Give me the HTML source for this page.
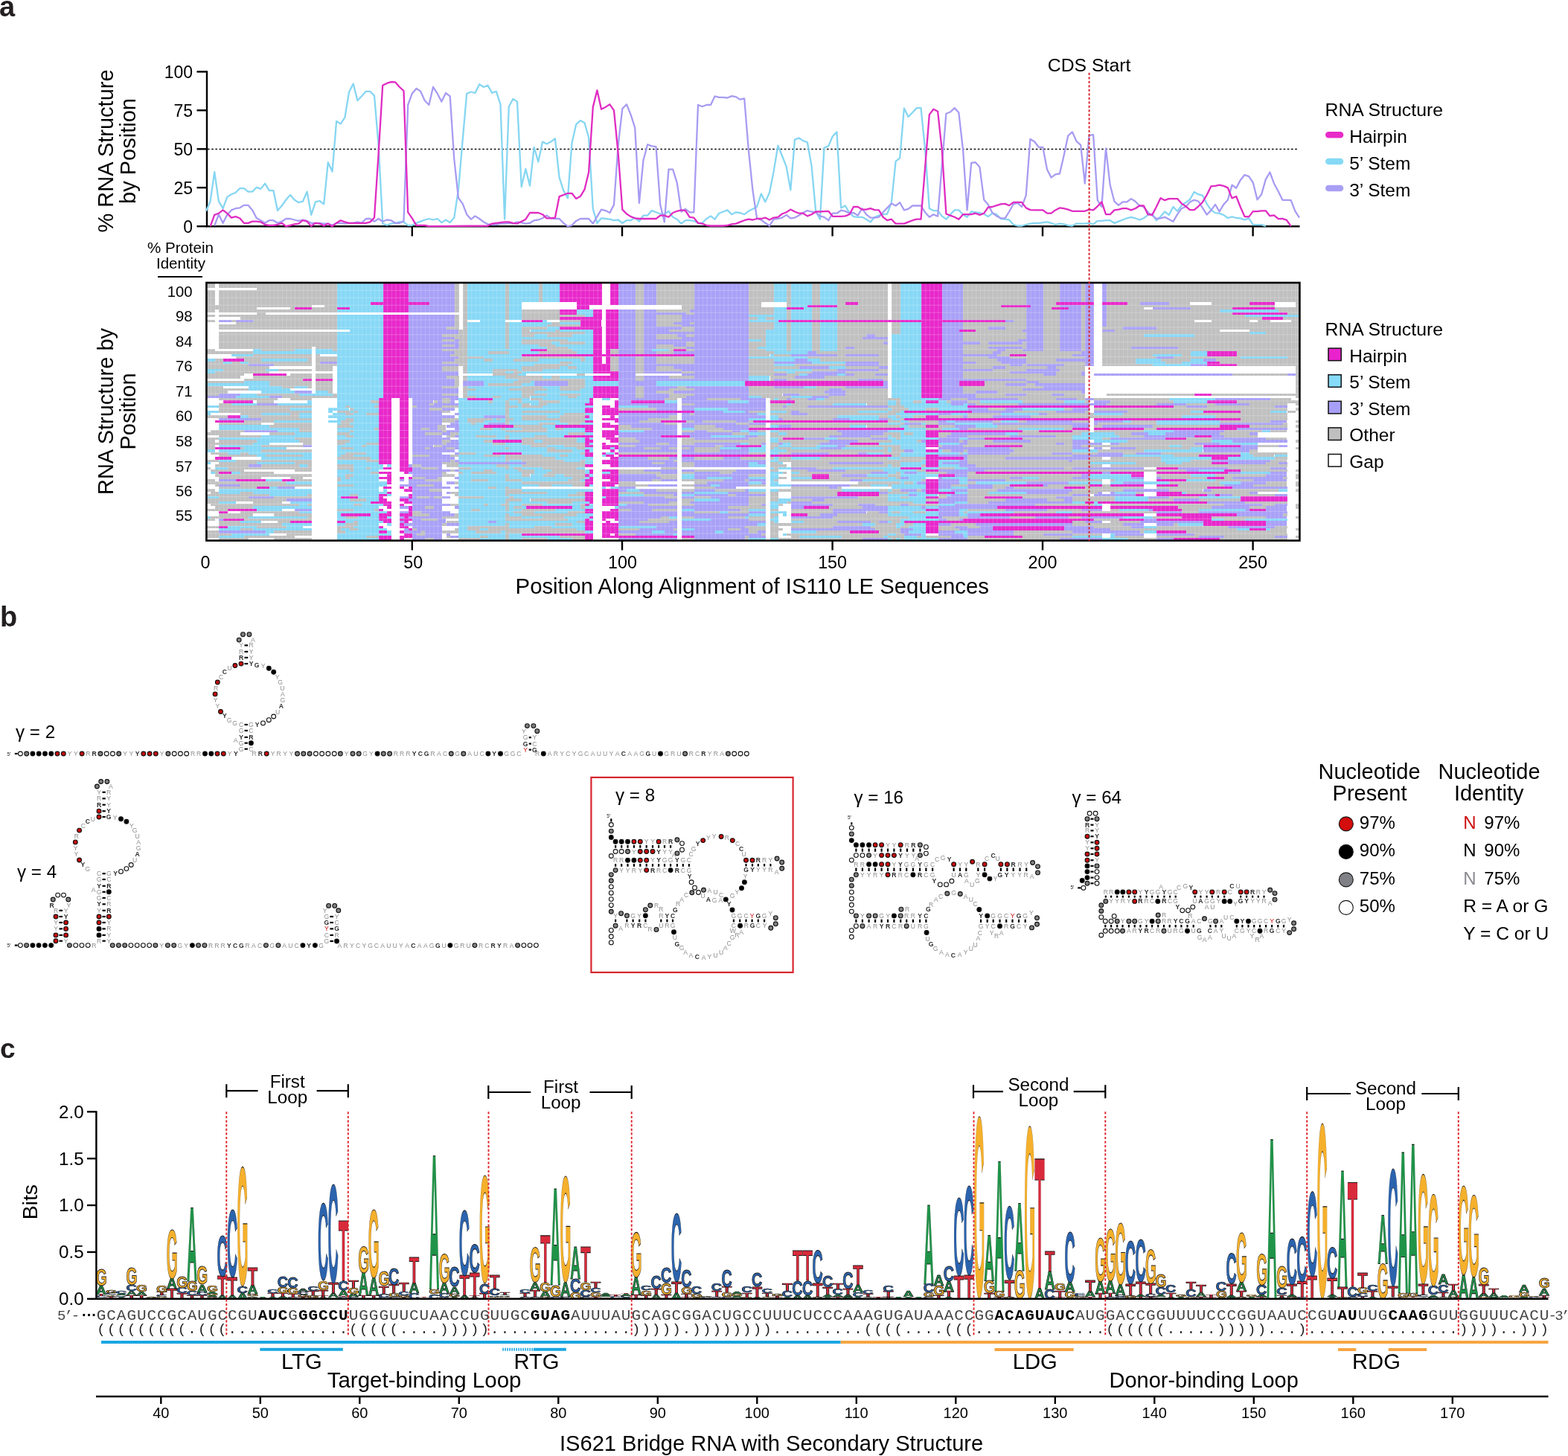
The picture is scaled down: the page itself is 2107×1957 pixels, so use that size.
<!DOCTYPE html>
<html><head><meta charset="utf-8"><title>IS110 bridge RNA structure figure</title>
<style>html,body{margin:0;padding:0;background:#fff}svg{display:block}.lg text{vector-effect:non-scaling-stroke}</style></head>
<body><svg width="2107" height="1957" viewBox="0 0 2107 1957" style="font-family:'Liberation Sans',Arial,Helvetica,sans-serif">
<rect width="2107" height="1957" fill="#fff"/>
<text x="-1.0" y="21.5" font-size="38" font-weight="bold" fill="#231f20">a</text>
<text x="0.0" y="842.3" font-size="38" font-weight="bold" fill="#231f20">b</text>
<text x="0.0" y="1422.2" font-size="37" font-weight="bold" fill="#231f20">c</text>
<g stroke="#000" stroke-width="2.4" fill="none">
<path d="M278,95.2 V305.4 M277,304.2 H1746.5"/>
<path d="M264.5,304.2 H278"/>
<path d="M264.5,252.2 H278"/>
<path d="M264.5,200.3 H278"/>
<path d="M264.5,148.3 H278"/>
<path d="M264.5,96.4 H278"/>
<path d="M553.8,304.2 V317.5"/>
<path d="M836,304.2 V317.5"/>
<path d="M1118.6,304.2 V317.5"/>
<path d="M1401,304.2 V317.5"/>
<path d="M1683.6,304.2 V317.5"/>
</g>
<text x="259.0" y="312.5" font-size="23" text-anchor="end" fill="#000">0</text>
<text x="259.0" y="260.6" font-size="23" text-anchor="end" fill="#000">25</text>
<text x="259.0" y="208.6" font-size="23" text-anchor="end" fill="#000">50</text>
<text x="259.0" y="156.7" font-size="23" text-anchor="end" fill="#000">75</text>
<text x="259.0" y="104.7" font-size="23" text-anchor="end" fill="#000">100</text>
<path d="M279,200.5 H1744" stroke="#000" stroke-width="1.6" stroke-dasharray="2.6 2.6" fill="none"/>
<path d="M276.9,283.8 L282.6,270.7 L288.2,231.1 L293.9,270.7 L299.6,280.2 L305.2,264.9 L310.9,261.2 L316.5,259.0 L322.2,253.2 L327.8,253.2 L333.5,257.6 L339.1,257.6 L344.8,251.8 L350.4,253.9 L356.1,246.7 L361.7,256.1 L367.4,256.1 L373.0,283.1 L378.7,276.5 L384.3,268.5 L390.0,262.0 L395.6,268.5 L401.2,272.2 L406.9,270.7 L412.6,257.6 L418.2,288.9 L423.9,271.4 L429.5,270.0 L435.2,274.3 L440.8,218.2 L446.5,230.6 L452.1,162.9 L457.8,166.5 L463.4,157.8 L469.1,123.5 L474.7,112.6 L480.4,135.2 L486.0,129.3 L491.7,122.8 L497.3,122.8 L503.0,128.6 L508.6,194.9 L514.2,300.6 L519.9,302.8 L525.6,300.6 L531.2,299.8 L536.9,298.4 L542.5,298.4 L548.2,302.8 L553.8,302.8 L559.5,299.8 L565.1,297.7 L570.8,295.5 L576.4,294.0 L582.0,295.5 L587.7,294.0 L593.4,299.1 L599.0,295.5 L604.7,299.1 L610.3,292.6 L616.0,254.7 L621.6,189.1 L627.2,125.7 L632.9,123.5 L638.5,125.0 L644.2,113.3 L649.9,117.0 L655.5,114.8 L661.2,125.0 L666.8,122.8 L672.5,140.3 L678.1,294.7 L683.8,143.2 L689.4,133.0 L695.0,136.6 L700.7,251.0 L706.4,227.0 L712.0,249.6 L717.7,197.8 L723.3,217.5 L729.0,190.6 L734.6,193.5 L740.2,190.6 L745.9,186.2 L751.6,238.6 L757.2,256.1 L762.9,266.3 L768.5,192.0 L774.2,167.2 L779.8,162.1 L785.5,165.1 L791.1,184.7 L796.8,280.9 L802.4,299.8 L808.0,293.3 L813.7,294.0 L819.4,294.7 L825.0,296.2 L830.7,295.5 L836.3,299.8 L842.0,296.2 L847.6,296.2 L853.2,292.6 L858.9,297.7 L864.5,289.6 L870.2,289.6 L875.9,283.1 L881.5,285.3 L887.2,287.5 L892.8,288.2 L898.5,283.8 L904.1,291.8 L909.8,294.7 L915.4,300.6 L921.0,296.2 L926.7,296.2 L932.4,296.9 L938.0,299.8 L943.7,299.8 L949.3,294.0 L955.0,290.4 L960.6,294.7 L966.2,286.7 L971.9,284.5 L977.5,282.4 L983.2,288.2 L988.9,285.3 L994.5,286.0 L1000.2,288.2 L1005.8,283.8 L1011.5,280.9 L1017.1,278.0 L1022.8,260.5 L1028.4,271.4 L1034.0,259.0 L1039.7,229.9 L1045.4,195.7 L1051.0,209.5 L1056.7,224.1 L1062.3,255.4 L1068.0,187.6 L1073.6,185.5 L1079.2,189.1 L1084.9,191.3 L1090.5,222.6 L1096.2,283.8 L1101.9,294.7 L1107.5,198.6 L1113.2,196.4 L1118.8,183.3 L1124.5,177.4 L1130.1,279.4 L1135.8,276.5 L1141.4,286.0 L1147.0,291.1 L1152.7,291.8 L1158.4,291.8 L1164.0,294.7 L1169.7,298.4 L1175.3,291.8 L1181.0,289.6 L1186.6,288.2 L1192.2,287.5 L1197.9,272.2 L1203.6,216.8 L1209.2,212.4 L1214.9,145.4 L1220.5,157.0 L1226.2,151.2 L1231.8,145.1 L1237.5,145.1 L1243.1,200.8 L1248.8,280.2 L1254.4,283.1 L1260.1,283.1 L1265.7,290.4 L1271.4,294.7 L1277.0,288.2 L1282.7,282.4 L1288.3,282.4 L1294.0,288.2 L1299.6,291.8 L1305.2,284.5 L1310.9,285.3 L1316.5,286.0 L1322.2,287.5 L1327.8,291.1 L1333.5,286.7 L1339.2,288.2 L1344.8,294.0 L1350.5,294.7 L1356.1,295.5 L1361.8,302.0 L1367.4,303.5 L1373.0,303.5 L1378.7,302.0 L1384.4,300.6 L1390.0,299.8 L1395.7,299.8 L1401.3,299.1 L1407.0,298.4 L1412.6,299.8 L1418.2,302.0 L1423.9,300.6 L1429.5,301.3 L1435.2,302.8 L1440.9,303.5 L1446.5,300.6 L1452.2,300.6 L1457.8,300.6 L1463.5,299.8 L1469.1,301.3 L1474.8,296.9 L1480.4,296.9 L1486.0,296.2 L1491.7,296.2 L1497.4,299.8 L1503.0,297.7 L1508.7,295.5 L1514.3,293.3 L1520.0,291.8 L1525.6,293.3 L1531.2,295.5 L1536.9,293.3 L1542.5,288.9 L1548.2,287.5 L1553.9,296.2 L1559.5,291.1 L1565.2,284.5 L1570.8,288.9 L1576.5,278.0 L1582.1,283.8 L1587.8,275.8 L1593.4,272.2 L1599.0,268.0 L1604.7,258.0 L1610.4,261.2 L1616.0,262.8 L1621.7,274.1 L1627.3,282.1 L1633.0,286.1 L1638.6,286.9 L1644.2,288.9 L1649.9,293.0 L1655.5,291.4 L1661.2,293.0 L1666.9,293.4 L1672.5,295.4 L1678.2,293.4 L1683.8,302.2 L1689.5,302.2 L1695.1,302.2 L1700.8,303.8" stroke="#86d6f2" stroke-width="2.3" fill="none" stroke-linejoin="round"/>
<path d="M288.2,303.5 L293.9,288.2 L299.6,299.8 L305.2,288.9 L310.9,282.4 L316.5,280.2 L322.2,279.4 L327.8,275.8 L333.5,275.8 L339.1,282.4 L344.8,293.3 L350.4,296.2 L356.1,299.8 L361.7,296.2 L367.4,296.2 L373.0,299.8 L378.7,297.7 L384.3,294.0 L390.0,294.0 L395.6,295.5 L401.2,296.9 L406.9,295.5 L412.6,296.9 L418.2,299.8 L423.9,299.8 L429.5,299.8 L435.2,300.6 L440.8,300.6 L446.5,302.8 L452.1,299.8 L457.8,299.8 L463.4,300.6 L469.1,299.8 L474.7,299.8 L480.4,298.4 L486.0,299.8 L491.7,294.0 L497.3,294.0 L503.0,297.7 L508.6,294.0 L514.2,297.7 L519.9,295.5 L525.6,296.2 L531.2,299.8 L536.9,299.8 L542.5,296.9 L548.2,141.0 L553.8,125.7 L559.5,118.9 L565.1,122.8 L570.8,135.2 L576.4,141.0 L582.0,117.0 L587.7,125.7 L593.4,136.6 L599.0,125.0 L604.7,129.3 L610.3,213.9 L616.0,266.3 L621.6,273.6 L627.2,288.2 L632.9,294.7 L638.5,290.4 L644.2,294.0 L649.9,298.4 L655.5,301.3 L661.2,302.0 L666.8,302.0 L672.5,300.6 L678.1,300.6 L683.8,299.8 L689.4,300.6 L695.0,298.4 L700.7,299.1 L706.4,300.6 L712.0,299.8 L717.7,296.2 L723.3,295.5 L729.0,293.3 L734.6,289.6 L740.2,293.3 L745.9,294.0 L751.6,294.0 L757.2,299.8 L762.9,304.2 L768.5,302.8 L774.2,296.9 L779.8,294.0 L785.5,294.0 L791.1,294.0 L796.8,300.6 L802.4,291.1 L808.0,281.6 L813.7,283.1 L819.4,286.0 L825.0,275.1 L830.7,194.9 L836.3,146.1 L842.0,140.3 L847.6,154.1 L853.2,171.6 L858.9,272.9 L864.5,215.3 L870.2,194.2 L875.9,196.4 L881.5,197.1 L887.2,275.1 L892.8,298.4 L898.5,227.7 L904.1,227.7 L909.8,245.9 L915.4,284.5 L921.0,280.9 L926.7,285.3 L932.4,285.3 L938.0,141.0 L943.7,143.2 L949.3,141.0 L955.0,141.0 L960.6,129.3 L966.2,130.8 L971.9,130.8 L977.5,131.5 L983.2,129.1 L988.9,130.1 L994.5,133.7 L1000.2,132.3 L1005.8,200.8 L1011.5,256.1 L1017.1,293.3 L1022.8,295.5 L1028.4,299.8 L1034.0,303.5 L1039.7,294.7 L1045.4,294.0 L1051.0,292.6 L1056.7,288.9 L1062.3,293.3 L1068.0,292.6 L1073.6,289.6 L1079.2,286.0 L1084.9,283.1 L1090.5,284.5 L1096.2,285.3 L1101.9,290.4 L1107.5,291.8 L1113.2,296.2 L1118.8,286.7 L1124.5,286.7 L1130.1,282.7 L1135.8,283.8 L1141.4,286.7 L1147.0,286.0 L1152.7,289.6 L1158.4,280.2 L1164.0,288.2 L1169.7,292.6 L1175.3,292.6 L1181.0,291.8 L1186.6,285.3 L1192.2,279.4 L1197.9,273.6 L1203.6,276.5 L1209.2,272.2 L1214.9,282.4 L1220.5,280.9 L1226.2,276.5 L1231.8,276.5 L1237.5,276.5 L1243.1,285.3 L1248.8,291.8 L1254.4,288.2 L1260.1,290.8 L1265.7,222.6 L1271.4,152.7 L1277.0,150.5 L1282.7,145.1 L1288.3,151.2 L1294.0,200.8 L1299.6,282.4 L1305.2,219.0 L1310.9,218.2 L1316.5,224.8 L1322.2,268.5 L1327.8,275.1 L1333.5,286.0 L1339.2,290.4 L1344.8,293.3 L1350.5,293.3 L1356.1,284.5 L1361.8,274.3 L1367.4,272.9 L1373.0,278.0 L1378.7,262.7 L1384.4,186.9 L1390.0,190.2 L1395.7,197.8 L1401.3,197.8 L1407.0,227.7 L1412.6,238.6 L1418.2,234.3 L1423.9,233.5 L1429.5,209.5 L1435.2,182.5 L1440.9,177.4 L1446.5,189.8 L1452.2,194.9 L1457.8,246.7 L1463.5,181.8 L1469.1,181.1 L1474.8,269.2 L1480.4,278.0 L1486.0,199.3 L1491.7,248.8 L1497.4,270.7 L1503.0,275.8 L1508.7,271.4 L1514.3,271.4 L1520.0,267.1 L1525.6,270.7 L1531.2,276.5 L1536.9,278.0 L1542.5,285.3 L1548.2,289.6 L1553.9,294.0 L1559.5,293.3 L1565.2,291.8 L1570.8,294.7 L1576.5,297.7 L1582.1,288.2 L1587.8,280.2 L1593.4,278.0 L1599.0,271.5 L1604.7,268.8 L1610.4,270.5 L1616.0,279.7 L1621.7,288.5 L1627.3,282.9 L1633.0,274.9 L1638.6,284.5 L1644.2,274.9 L1649.9,268.8 L1655.5,248.7 L1661.2,252.8 L1666.9,241.9 L1672.5,235.1 L1678.2,237.1 L1683.8,245.5 L1689.5,268.4 L1695.1,261.2 L1700.8,241.1 L1706.4,231.5 L1712.0,246.7 L1717.7,257.2 L1723.4,268.8 L1729.0,268.8 L1734.7,269.2 L1740.3,283.7 L1746.0,292.6" stroke="#a79cf2" stroke-width="2.3" fill="none" stroke-linejoin="round"/>
<path d="M282.6,304.2 L288.2,288.9 L293.9,286.7 L299.6,282.4 L305.2,286.7 L310.9,292.6 L316.5,291.1 L322.2,293.3 L327.8,299.8 L333.5,299.8 L339.1,297.7 L344.8,297.7 L350.4,298.4 L356.1,302.0 L361.7,302.8 L367.4,302.8 L373.0,302.0 L378.7,299.8 L384.3,304.2 L390.0,302.8 L395.6,301.3 L401.2,300.6 L406.9,296.2 L412.6,297.7 L418.2,303.9 L423.9,299.8 L429.5,300.6 L435.2,303.5 L440.8,300.6 L446.5,304.2 L452.1,299.8 L457.8,296.2 L463.4,298.4 L469.1,299.8 L474.7,299.8 L480.4,299.8 L486.0,299.8 L491.7,299.8 L497.3,298.4 L503.0,292.6 L508.6,206.6 L514.2,114.8 L519.9,111.9 L525.6,110.1 L531.2,110.4 L536.9,117.0 L542.5,122.1 L548.2,285.3 L553.8,293.3 L559.5,302.8 L565.1,302.8 L570.8,302.8 L576.4,304.2 L655.5,303.5 L661.2,300.6 L666.8,299.8 L678.1,298.4 L683.8,298.4 L689.4,299.8 L695.0,300.6 L700.7,297.7 L706.4,294.7 L712.0,286.0 L717.7,286.0 L723.3,286.0 L729.0,288.2 L734.6,293.3 L740.2,293.3 L745.9,292.6 L751.6,264.1 L757.2,262.0 L762.9,259.8 L768.5,259.8 L774.2,267.1 L779.8,264.1 L785.5,254.7 L791.1,231.4 L796.8,143.9 L802.4,121.3 L808.0,146.8 L813.7,143.9 L819.4,140.3 L825.0,148.3 L830.7,206.6 L836.3,281.6 L842.0,287.5 L847.6,291.1 L853.2,293.3 L858.9,294.0 L864.5,294.0 L870.2,294.0 L875.9,294.0 L881.5,294.0 L887.2,289.6 L892.8,289.6 L898.5,291.8 L904.1,286.0 L909.8,283.8 L915.4,282.4 L921.0,283.1 L926.7,291.8 L932.4,292.6 L938.0,299.8 L943.7,300.6 L949.3,302.8 L955.0,303.5 L960.6,303.5 L966.2,303.5 L971.9,303.5 L977.5,302.8 L983.2,301.3 L988.9,300.6 L994.5,298.4 L1000.2,296.2 L1005.8,294.7 L1011.5,295.5 L1017.1,294.0 L1022.8,294.0 L1028.4,292.6 L1034.0,295.5 L1039.7,292.6 L1045.4,291.8 L1051.0,287.5 L1056.7,285.3 L1062.3,281.6 L1068.0,284.5 L1073.6,286.7 L1079.2,286.7 L1084.9,290.4 L1090.5,288.2 L1096.2,284.5 L1101.9,284.5 L1107.5,284.2 L1113.2,283.8 L1118.8,290.8 L1124.5,290.8 L1130.1,290.8 L1135.8,290.4 L1141.4,288.2 L1147.0,278.0 L1152.7,278.0 L1158.4,281.6 L1164.0,281.6 L1169.7,280.2 L1175.3,282.1 L1181.0,282.4 L1186.6,291.8 L1192.2,296.2 L1197.9,294.7 L1203.6,300.6 L1209.2,300.6 L1214.9,300.6 L1220.5,298.4 L1226.2,296.2 L1231.8,294.7 L1237.5,294.7 L1248.8,154.1 L1254.4,146.8 L1260.1,149.7 L1265.7,200.8 L1271.4,287.5 L1277.0,289.6 L1282.7,291.8 L1288.3,294.7 L1294.0,288.2 L1299.6,288.2 L1305.2,288.2 L1310.9,286.7 L1316.5,288.9 L1322.2,286.7 L1327.8,278.7 L1333.5,278.0 L1339.2,276.2 L1344.8,274.3 L1350.5,273.9 L1356.1,276.2 L1361.8,271.9 L1367.4,271.9 L1373.0,271.9 L1378.7,279.4 L1384.4,282.1 L1390.0,282.4 L1395.7,282.4 L1401.3,282.4 L1407.0,286.7 L1412.6,286.7 L1418.2,282.4 L1423.9,279.4 L1429.5,280.2 L1435.2,281.6 L1440.9,283.8 L1446.5,283.8 L1452.2,283.8 L1457.8,283.8 L1463.5,281.6 L1469.1,282.4 L1474.8,277.3 L1480.4,271.4 L1486.0,288.2 L1491.7,288.2 L1497.4,282.4 L1503.0,281.6 L1508.7,280.2 L1514.3,280.2 L1520.0,282.4 L1525.6,280.2 L1531.2,276.5 L1536.9,276.5 L1542.5,288.2 L1548.2,288.9 L1553.9,278.0 L1559.5,266.3 L1565.2,269.2 L1570.8,267.1 L1576.5,267.1 L1582.1,267.1 L1587.8,273.6 L1593.4,277.3 L1599.0,282.2 L1604.7,282.1 L1610.4,277.3 L1616.0,271.7 L1621.7,262.0 L1627.3,250.4 L1633.0,249.9 L1638.6,248.7 L1644.2,249.9 L1649.9,252.4 L1655.5,266.4 L1661.2,264.0 L1666.9,278.5 L1672.5,291.0 L1678.2,291.4 L1683.8,284.1 L1689.5,284.1 L1695.1,283.3 L1700.8,283.3 L1706.4,290.2 L1712.0,289.3 L1717.7,294.2 L1723.4,293.8 L1729.0,295.8 L1734.7,304.2" stroke="#e02cc2" stroke-width="2.3" fill="none" stroke-linejoin="round"/>
<text transform="translate(152.2,203) rotate(-90)" font-size="29" text-anchor="middle">% RNA Structure</text>
<text transform="translate(182.4,203) rotate(-90)" font-size="29" text-anchor="middle">by Position</text>
<text x="1407.8" y="95.6" font-size="24.8" fill="#000">CDS Start</text>
<text x="1780.5" y="156.0" font-size="24.8" fill="#000">RNA Structure</text>
<path d="M1785.3,181.2 H1801" stroke="#e82ac8" stroke-width="8.6" stroke-linecap="round"/>
<text x="1813.2" y="192.0" font-size="24.5" fill="#000">Hairpin</text>
<path d="M1785.3,217 H1801" stroke="#86d9f6" stroke-width="8.6" stroke-linecap="round"/>
<text x="1813.2" y="227.6" font-size="24.5" fill="#000">5’ Stem</text>
<path d="M1785.3,253 H1801" stroke="#a89ff5" stroke-width="8.6" stroke-linecap="round"/>
<text x="1813.2" y="263.5" font-size="24.5" fill="#000">3’ Stem</text>
<g shape-rendering="crispEdges"><path fill="#c0c0c0" d="M277.4 380.0h11.3v3.3h-11.3zM294.3 380.0h158.2v3.3h-158.2zM610.8 380.0h5.7v3.3h-5.7zM622.0 380.0h5.7v3.3h-5.7zM678.5 380.0h5.7v3.3h-5.7zM723.8 380.0h5.7v3.3h-5.7zM853.7 380.0h11.3v3.3h-11.3zM882.0 380.0h50.9v3.3h-50.9zM1006.2 380.0h33.9v3.3h-33.9zM1057.1 380.0h5.7v3.3h-5.7zM1091.0 380.0h11.3v3.3h-11.3zM1124.9 380.0h67.8v3.3h-67.8zM1198.3 380.0h11.3v3.3h-11.3zM1294.4 380.0h84.8v3.3h-84.8zM1401.8 380.0h22.6v3.3h-22.6zM1452.6 380.0h5.7v3.3h-5.7zM1486.5 380.0h259.9v3.3h-259.9zM277.4 383.3h11.3v3.3h-11.3zM294.3 383.3h158.2v3.3h-158.2zM610.8 383.3h5.7v3.3h-5.7zM622.0 383.3h5.7v3.3h-5.7zM678.5 383.3h5.7v3.3h-5.7zM723.8 383.3h5.7v3.3h-5.7zM853.7 383.3h11.3v3.3h-11.3zM882.0 383.3h50.9v3.3h-50.9zM1006.2 383.3h33.9v3.3h-33.9zM1057.1 383.3h5.7v3.3h-5.7zM1091.0 383.3h11.3v3.3h-11.3zM1124.9 383.3h67.8v3.3h-67.8zM1198.3 383.3h11.3v3.3h-11.3zM1294.4 383.3h84.8v3.3h-84.8zM1401.8 383.3h22.6v3.3h-22.6zM1452.6 383.3h5.7v3.3h-5.7zM1486.5 383.3h259.9v3.3h-259.9zM345.2 386.6h107.4v3.3h-107.4zM610.8 386.6h5.7v3.3h-5.7zM622.0 386.6h5.7v3.3h-5.7zM678.5 386.6h5.7v3.3h-5.7zM723.8 386.6h5.7v3.3h-5.7zM853.7 386.6h11.3v3.3h-11.3zM882.0 386.6h50.9v3.3h-50.9zM1006.2 386.6h33.9v3.3h-33.9zM1057.1 386.6h5.7v3.3h-5.7zM1091.0 386.6h11.3v3.3h-11.3zM1124.9 386.6h67.8v3.3h-67.8zM1198.3 386.6h11.3v3.3h-11.3zM1294.4 386.6h84.8v3.3h-84.8zM1401.8 386.6h22.6v3.3h-22.6zM1452.6 386.6h5.7v3.3h-5.7zM1486.5 386.6h259.9v3.3h-259.9zM277.4 389.9h11.3v3.3h-11.3zM294.3 389.9h158.2v3.3h-158.2zM610.8 389.9h5.7v3.3h-5.7zM622.0 389.9h5.7v3.3h-5.7zM678.5 389.9h5.7v3.3h-5.7zM723.8 389.9h5.7v3.3h-5.7zM853.7 389.9h11.3v3.3h-11.3zM882.0 389.9h50.9v3.3h-50.9zM1006.2 389.9h33.9v3.3h-33.9zM1057.1 389.9h5.7v3.3h-5.7zM1091.0 389.9h11.3v3.3h-11.3zM1124.9 389.9h67.8v3.3h-67.8zM1198.3 389.9h11.3v3.3h-11.3zM1294.4 389.9h84.8v3.3h-84.8zM1401.8 389.9h22.6v3.3h-22.6zM1452.6 389.9h5.7v3.3h-5.7zM1486.5 389.9h259.9v3.3h-259.9zM277.4 393.2h11.3v3.3h-11.3zM294.3 393.2h158.2v3.3h-158.2zM610.8 393.2h5.7v3.3h-5.7zM622.0 393.2h5.7v3.3h-5.7zM678.5 393.2h5.7v3.3h-5.7zM723.8 393.2h5.7v3.3h-5.7zM853.7 393.2h11.3v3.3h-11.3zM882.0 393.2h50.9v3.3h-50.9zM1006.2 393.2h33.9v3.3h-33.9zM1057.1 393.2h5.7v3.3h-5.7zM1091.0 393.2h11.3v3.3h-11.3zM1124.9 393.2h67.8v3.3h-67.8zM1198.3 393.2h11.3v3.3h-11.3zM1294.4 393.2h84.8v3.3h-84.8zM1401.8 393.2h22.6v3.3h-22.6zM1452.6 393.2h5.7v3.3h-5.7zM1486.5 393.2h259.9v3.3h-259.9zM277.4 396.5h11.3v3.3h-11.3zM294.3 396.5h158.2v3.3h-158.2zM610.8 396.5h5.7v3.3h-5.7zM622.0 396.5h5.7v3.3h-5.7zM678.5 396.5h5.7v3.3h-5.7zM723.8 396.5h5.7v3.3h-5.7zM853.7 396.5h11.3v3.3h-11.3zM882.0 396.5h50.9v3.3h-50.9zM1006.2 396.5h33.9v3.3h-33.9zM1057.1 396.5h5.7v3.3h-5.7zM1091.0 396.5h11.3v3.3h-11.3zM1124.9 396.5h67.8v3.3h-67.8zM1198.3 396.5h11.3v3.3h-11.3zM1294.4 396.5h84.8v3.3h-84.8zM1401.8 396.5h22.6v3.3h-22.6zM1452.6 396.5h5.7v3.3h-5.7zM1486.5 396.5h259.9v3.3h-259.9zM277.4 399.8h11.3v3.3h-11.3zM294.3 399.8h158.2v3.3h-158.2zM610.8 399.8h5.7v3.3h-5.7zM622.0 399.8h5.7v3.3h-5.7zM678.5 399.8h5.7v3.3h-5.7zM723.8 399.8h5.7v3.3h-5.7zM853.7 399.8h11.3v3.3h-11.3zM882.0 399.8h50.9v3.3h-50.9zM1006.2 399.8h33.9v3.3h-33.9zM1057.1 399.8h5.7v3.3h-5.7zM1091.0 399.8h11.3v3.3h-11.3zM1124.9 399.8h67.8v3.3h-67.8zM1198.3 399.8h11.3v3.3h-11.3zM1294.4 399.8h84.8v3.3h-84.8zM1401.8 399.8h22.6v3.3h-22.6zM1452.6 399.8h5.7v3.3h-5.7zM1486.5 399.8h259.9v3.3h-259.9zM277.4 403.1h11.3v3.3h-11.3zM294.3 403.1h158.2v3.3h-158.2zM610.8 403.1h5.7v3.3h-5.7zM622.0 403.1h5.7v3.3h-5.7zM678.5 403.1h5.7v3.3h-5.7zM723.8 403.1h5.7v3.3h-5.7zM853.7 403.1h11.3v3.3h-11.3zM882.0 403.1h50.9v3.3h-50.9zM1006.2 403.1h33.9v3.3h-33.9zM1057.1 403.1h5.7v3.3h-5.7zM1091.0 403.1h11.3v3.3h-11.3zM1124.9 403.1h67.8v3.3h-67.8zM1198.3 403.1h11.3v3.3h-11.3zM1294.4 403.1h84.8v3.3h-84.8zM1401.8 403.1h22.6v3.3h-22.6zM1452.6 403.1h5.7v3.3h-5.7zM1486.5 403.1h259.9v3.3h-259.9zM277.4 406.4h11.3v3.3h-11.3zM294.3 406.4h158.2v3.3h-158.2zM610.8 406.4h5.7v3.3h-5.7zM622.0 406.4h5.7v3.3h-5.7zM678.5 406.4h5.7v3.3h-5.7zM853.7 406.4h11.3v3.3h-11.3zM882.0 406.4h50.9v3.3h-50.9zM1006.2 406.4h17.0v3.3h-17.0zM1057.1 406.4h5.7v3.3h-5.7zM1091.0 406.4h11.3v3.3h-11.3zM1124.9 406.4h11.3v3.3h-11.3zM1153.2 406.4h39.6v3.3h-39.6zM1198.3 406.4h11.3v3.3h-11.3zM1294.4 406.4h84.8v3.3h-84.8zM1401.8 406.4h17.0v3.3h-17.0zM1514.8 406.4h17.0v3.3h-17.0zM1571.2 406.4h28.2v3.3h-28.2zM1627.8 406.4h50.9v3.3h-50.9zM1740.8 406.4h5.7v3.3h-5.7zM277.4 409.7h141.2v3.3h-141.2zM435.6 409.7h17.0v3.3h-17.0zM610.8 409.7h5.7v3.3h-5.7zM622.0 409.7h5.7v3.3h-5.7zM678.5 409.7h5.7v3.3h-5.7zM915.9 409.7h17.0v3.3h-17.0zM1006.2 409.7h17.0v3.3h-17.0zM1057.1 409.7h5.7v3.3h-5.7zM1124.9 409.7h67.8v3.3h-67.8zM1198.3 409.7h11.3v3.3h-11.3zM1294.4 409.7h50.9v3.3h-50.9zM1401.8 409.7h22.6v3.3h-22.6zM1452.6 409.7h5.7v3.3h-5.7zM1486.5 409.7h226.0v3.3h-226.0zM1740.8 409.7h5.7v3.3h-5.7zM277.4 413.0h67.8v3.3h-67.8zM390.4 413.0h5.7v3.3h-5.7zM418.6 413.0h33.9v3.3h-33.9zM610.8 413.0h5.7v3.3h-5.7zM622.0 413.0h5.7v3.3h-5.7zM678.5 413.0h5.7v3.3h-5.7zM915.9 413.0h17.0v3.3h-17.0zM1006.2 413.0h33.9v3.3h-33.9zM1091.0 413.0h11.3v3.3h-11.3zM1124.9 413.0h67.8v3.3h-67.8zM1198.3 413.0h11.3v3.3h-11.3zM1294.4 413.0h84.8v3.3h-84.8zM1401.8 413.0h11.3v3.3h-11.3zM1452.6 413.0h5.7v3.3h-5.7zM1486.5 413.0h50.9v3.3h-50.9zM1599.5 413.0h56.5v3.3h-56.5zM1712.5 413.0h33.9v3.3h-33.9zM277.4 416.3h11.3v3.3h-11.3zM294.3 416.3h158.2v3.3h-158.2zM610.8 416.3h5.7v3.3h-5.7zM622.0 416.3h5.7v3.3h-5.7zM678.5 416.3h5.7v3.3h-5.7zM701.1 416.3h50.9v3.3h-50.9zM853.7 416.3h11.3v3.3h-11.3zM882.0 416.3h45.2v3.3h-45.2zM1006.2 416.3h33.9v3.3h-33.9zM1057.1 416.3h5.7v3.3h-5.7zM1091.0 416.3h11.3v3.3h-11.3zM1124.9 416.3h67.8v3.3h-67.8zM1198.3 416.3h11.3v3.3h-11.3zM1294.4 416.3h84.8v3.3h-84.8zM1401.8 416.3h22.6v3.3h-22.6zM1452.6 416.3h5.7v3.3h-5.7zM1486.5 416.3h152.6v3.3h-152.6zM1718.2 416.3h28.2v3.3h-28.2zM345.2 419.6h11.3v3.3h-11.3zM622.0 419.6h5.7v3.3h-5.7zM678.5 419.6h5.7v3.3h-5.7zM701.1 419.6h50.9v3.3h-50.9zM853.7 419.6h11.3v3.3h-11.3zM921.5 419.6h11.3v3.3h-11.3zM1006.2 419.6h33.9v3.3h-33.9zM1057.1 419.6h5.7v3.3h-5.7zM1091.0 419.6h11.3v3.3h-11.3zM1124.9 419.6h67.8v3.3h-67.8zM1198.3 419.6h11.3v3.3h-11.3zM1294.4 419.6h84.8v3.3h-84.8zM1401.8 419.6h22.6v3.3h-22.6zM1452.6 419.6h5.7v3.3h-5.7zM1486.5 419.6h169.5v3.3h-169.5zM1729.5 419.6h17.0v3.3h-17.0zM277.4 422.9h11.3v3.3h-11.3zM294.3 422.9h158.2v3.3h-158.2zM610.8 422.9h5.7v3.3h-5.7zM622.0 422.9h5.7v3.3h-5.7zM678.5 422.9h5.7v3.3h-5.7zM701.1 422.9h84.8v3.3h-84.8zM853.7 422.9h11.3v3.3h-11.3zM882.0 422.9h33.9v3.3h-33.9zM1057.1 422.9h5.7v3.3h-5.7zM1091.0 422.9h11.3v3.3h-11.3zM1124.9 422.9h67.8v3.3h-67.8zM1198.3 422.9h11.3v3.3h-11.3zM1294.4 422.9h84.8v3.3h-84.8zM1401.8 422.9h22.6v3.3h-22.6zM1452.6 422.9h5.7v3.3h-5.7zM1486.5 422.9h186.5v3.3h-186.5zM322.6 426.2h130.0v3.3h-130.0zM610.8 426.2h5.7v3.3h-5.7zM622.0 426.2h5.7v3.3h-5.7zM678.5 426.2h5.7v3.3h-5.7zM701.1 426.2h50.9v3.3h-50.9zM853.7 426.2h11.3v3.3h-11.3zM882.0 426.2h33.9v3.3h-33.9zM1006.2 426.2h11.3v3.3h-11.3zM1028.8 426.2h11.3v3.3h-11.3zM1057.1 426.2h5.7v3.3h-5.7zM1091.0 426.2h11.3v3.3h-11.3zM1124.9 426.2h67.8v3.3h-67.8zM1198.3 426.2h11.3v3.3h-11.3zM1294.4 426.2h84.8v3.3h-84.8zM1401.8 426.2h22.6v3.3h-22.6zM1452.6 426.2h5.7v3.3h-5.7zM1486.5 426.2h209.1v3.3h-209.1zM1723.8 426.2h22.6v3.3h-22.6zM277.4 429.5h11.3v3.3h-11.3zM311.3 429.5h5.7v3.3h-5.7zM339.5 429.5h113.0v3.3h-113.0zM610.8 429.5h5.7v3.3h-5.7zM622.0 429.5h5.7v3.3h-5.7zM752.0 429.5h28.2v3.3h-28.2zM853.7 429.5h11.3v3.3h-11.3zM882.0 429.5h33.9v3.3h-33.9zM1362.2 429.5h17.0v3.3h-17.0zM1401.8 429.5h22.6v3.3h-22.6zM1452.6 429.5h5.7v3.3h-5.7zM1486.5 429.5h118.7v3.3h-118.7zM1627.8 429.5h50.9v3.3h-50.9zM1689.9 429.5h17.0v3.3h-17.0zM1735.1 429.5h11.3v3.3h-11.3zM316.9 432.8h135.6v3.3h-135.6zM610.8 432.8h5.7v3.3h-5.7zM622.0 432.8h5.7v3.3h-5.7zM678.5 432.8h5.7v3.3h-5.7zM740.7 432.8h11.3v3.3h-11.3zM853.7 432.8h11.3v3.3h-11.3zM882.0 432.8h22.6v3.3h-22.6zM927.1 432.8h5.7v3.3h-5.7zM1006.2 432.8h33.9v3.3h-33.9zM1057.1 432.8h5.7v3.3h-5.7zM1091.0 432.8h11.3v3.3h-11.3zM1124.9 432.8h67.8v3.3h-67.8zM1198.3 432.8h11.3v3.3h-11.3zM1294.4 432.8h84.8v3.3h-84.8zM1401.8 432.8h22.6v3.3h-22.6zM1452.6 432.8h5.7v3.3h-5.7zM1486.5 432.8h259.9v3.3h-259.9zM294.3 436.1h158.2v3.3h-158.2zM610.8 436.1h5.7v3.3h-5.7zM622.0 436.1h5.7v3.3h-5.7zM678.5 436.1h5.7v3.3h-5.7zM735.0 436.1h45.2v3.3h-45.2zM853.7 436.1h11.3v3.3h-11.3zM882.0 436.1h33.9v3.3h-33.9zM1006.2 436.1h33.9v3.3h-33.9zM1057.1 436.1h5.7v3.3h-5.7zM1091.0 436.1h11.3v3.3h-11.3zM1124.9 436.1h67.8v3.3h-67.8zM1198.3 436.1h11.3v3.3h-11.3zM1294.4 436.1h84.8v3.3h-84.8zM1401.8 436.1h22.6v3.3h-22.6zM1452.6 436.1h5.7v3.3h-5.7zM1486.5 436.1h259.9v3.3h-259.9zM294.3 439.4h158.2v3.3h-158.2zM599.5 439.4h17.0v3.3h-17.0zM622.0 439.4h5.7v3.3h-5.7zM678.5 439.4h5.7v3.3h-5.7zM701.1 439.4h33.9v3.3h-33.9zM853.7 439.4h11.3v3.3h-11.3zM915.9 439.4h17.0v3.3h-17.0zM1006.2 439.4h33.9v3.3h-33.9zM1057.1 439.4h5.7v3.3h-5.7zM1091.0 439.4h11.3v3.3h-11.3zM1124.9 439.4h67.8v3.3h-67.8zM1198.3 439.4h11.3v3.3h-11.3zM1294.4 439.4h33.9v3.3h-33.9zM1350.9 439.4h28.2v3.3h-28.2zM1401.8 439.4h22.6v3.3h-22.6zM1452.6 439.4h5.7v3.3h-5.7zM1480.8 439.4h28.2v3.3h-28.2zM1554.3 439.4h192.1v3.3h-192.1zM616.4 442.7h11.3v3.3h-11.3zM678.5 442.7h5.7v3.3h-5.7zM701.1 442.7h11.3v3.3h-11.3zM746.4 442.7h5.7v3.3h-5.7zM853.7 442.7h11.3v3.3h-11.3zM898.9 442.7h33.9v3.3h-33.9zM1006.2 442.7h22.6v3.3h-22.6zM1057.1 442.7h5.7v3.3h-5.7zM1091.0 442.7h11.3v3.3h-11.3zM1124.9 442.7h67.8v3.3h-67.8zM1198.3 442.7h11.3v3.3h-11.3zM1311.3 442.7h62.2v3.3h-62.2zM1401.8 442.7h22.6v3.3h-22.6zM1452.6 442.7h5.7v3.3h-5.7zM1497.8 442.7h141.2v3.3h-141.2zM1678.6 442.7h67.8v3.3h-67.8zM294.3 446.0h158.2v3.3h-158.2zM616.4 446.0h11.3v3.3h-11.3zM678.5 446.0h5.7v3.3h-5.7zM701.1 446.0h84.8v3.3h-84.8zM853.7 446.0h11.3v3.3h-11.3zM1006.2 446.0h22.6v3.3h-22.6zM1057.1 446.0h5.7v3.3h-5.7zM1091.0 446.0h11.3v3.3h-11.3zM1124.9 446.0h67.8v3.3h-67.8zM1198.3 446.0h11.3v3.3h-11.3zM1294.4 446.0h84.8v3.3h-84.8zM1401.8 446.0h22.6v3.3h-22.6zM1452.6 446.0h5.7v3.3h-5.7zM1480.8 446.0h197.8v3.3h-197.8zM1701.2 446.0h45.2v3.3h-45.2zM294.3 449.3h158.2v3.3h-158.2zM593.8 449.3h33.9v3.3h-33.9zM678.5 449.3h5.7v3.3h-5.7zM701.1 449.3h17.0v3.3h-17.0zM735.0 449.3h33.9v3.3h-33.9zM853.7 449.3h11.3v3.3h-11.3zM882.0 449.3h28.2v3.3h-28.2zM921.5 449.3h11.3v3.3h-11.3zM1006.2 449.3h22.6v3.3h-22.6zM1057.1 449.3h5.7v3.3h-5.7zM1091.0 449.3h11.3v3.3h-11.3zM1124.9 449.3h39.6v3.3h-39.6zM1175.8 449.3h17.0v3.3h-17.0zM1294.4 449.3h84.8v3.3h-84.8zM1401.8 449.3h22.6v3.3h-22.6zM1452.6 449.3h5.7v3.3h-5.7zM1480.8 449.3h56.5v3.3h-56.5zM1605.2 449.3h141.2v3.3h-141.2zM294.3 452.6h158.2v3.3h-158.2zM610.8 452.6h17.0v3.3h-17.0zM678.5 452.6h5.7v3.3h-5.7zM853.7 452.6h11.3v3.3h-11.3zM882.0 452.6h33.9v3.3h-33.9zM1006.2 452.6h22.6v3.3h-22.6zM1057.1 452.6h5.7v3.3h-5.7zM1091.0 452.6h11.3v3.3h-11.3zM1124.9 452.6h33.9v3.3h-33.9zM1294.4 452.6h84.8v3.3h-84.8zM1401.8 452.6h22.6v3.3h-22.6zM1452.6 452.6h5.7v3.3h-5.7zM1480.8 452.6h265.6v3.3h-265.6zM294.3 455.9h158.2v3.3h-158.2zM593.8 455.9h17.0v3.3h-17.0zM616.4 455.9h11.3v3.3h-11.3zM678.5 455.9h5.7v3.3h-5.7zM701.1 455.9h62.2v3.3h-62.2zM853.7 455.9h11.3v3.3h-11.3zM1023.2 455.9h5.7v3.3h-5.7zM1057.1 455.9h5.7v3.3h-5.7zM1091.0 455.9h11.3v3.3h-11.3zM1124.9 455.9h67.8v3.3h-67.8zM1294.4 455.9h73.5v3.3h-73.5zM1401.8 455.9h22.6v3.3h-22.6zM1452.6 455.9h5.7v3.3h-5.7zM1480.8 455.9h265.6v3.3h-265.6zM294.3 459.2h158.2v3.3h-158.2zM616.4 459.2h11.3v3.3h-11.3zM678.5 459.2h5.7v3.3h-5.7zM701.1 459.2h39.6v3.3h-39.6zM752.0 459.2h33.9v3.3h-33.9zM853.7 459.2h11.3v3.3h-11.3zM921.5 459.2h11.3v3.3h-11.3zM1006.2 459.2h22.6v3.3h-22.6zM1057.1 459.2h5.7v3.3h-5.7zM1091.0 459.2h11.3v3.3h-11.3zM1124.9 459.2h62.2v3.3h-62.2zM1317.0 459.2h11.3v3.3h-11.3zM1373.5 459.2h5.7v3.3h-5.7zM1401.8 459.2h22.6v3.3h-22.6zM1452.6 459.2h5.7v3.3h-5.7zM1480.8 459.2h265.6v3.3h-265.6zM294.3 462.5h158.2v3.3h-158.2zM593.8 462.5h17.0v3.3h-17.0zM616.4 462.5h11.3v3.3h-11.3zM678.5 462.5h5.7v3.3h-5.7zM723.8 462.5h22.6v3.3h-22.6zM853.7 462.5h11.3v3.3h-11.3zM882.0 462.5h22.6v3.3h-22.6zM921.5 462.5h11.3v3.3h-11.3zM1006.2 462.5h22.6v3.3h-22.6zM1057.1 462.5h5.7v3.3h-5.7zM1091.0 462.5h11.3v3.3h-11.3zM1124.9 462.5h67.8v3.3h-67.8zM1294.4 462.5h84.8v3.3h-84.8zM1401.8 462.5h22.6v3.3h-22.6zM1452.6 462.5h5.7v3.3h-5.7zM1480.8 462.5h265.6v3.3h-265.6zM294.3 465.8h124.3v3.3h-124.3zM424.3 465.8h28.2v3.3h-28.2zM616.4 465.8h11.3v3.3h-11.3zM678.5 465.8h5.7v3.3h-5.7zM735.0 465.8h28.2v3.3h-28.2zM853.7 465.8h11.3v3.3h-11.3zM882.0 465.8h39.6v3.3h-39.6zM1006.2 465.8h11.3v3.3h-11.3zM1057.1 465.8h5.7v3.3h-5.7zM1091.0 465.8h11.3v3.3h-11.3zM1124.9 465.8h11.3v3.3h-11.3zM1147.5 465.8h45.2v3.3h-45.2zM1294.4 465.8h33.9v3.3h-33.9zM1373.5 465.8h5.7v3.3h-5.7zM1401.8 465.8h22.6v3.3h-22.6zM1452.6 465.8h5.7v3.3h-5.7zM1480.8 465.8h39.6v3.3h-39.6zM1582.6 465.8h163.9v3.3h-163.9zM277.4 469.1h11.3v3.3h-11.3zM350.8 469.1h45.2v3.3h-45.2zM446.9 469.1h5.7v3.3h-5.7zM593.8 469.1h33.9v3.3h-33.9zM735.0 469.1h33.9v3.3h-33.9zM819.8 469.1h11.3v3.3h-11.3zM853.7 469.1h11.3v3.3h-11.3zM898.9 469.1h5.7v3.3h-5.7zM921.5 469.1h11.3v3.3h-11.3zM1006.2 469.1h22.6v3.3h-22.6zM1057.1 469.1h5.7v3.3h-5.7zM1091.0 469.1h11.3v3.3h-11.3zM1124.9 469.1h67.8v3.3h-67.8zM1294.4 469.1h45.2v3.3h-45.2zM1350.9 469.1h22.6v3.3h-22.6zM1401.8 469.1h22.6v3.3h-22.6zM1452.6 469.1h5.7v3.3h-5.7zM1480.8 469.1h265.6v3.3h-265.6zM277.4 472.4h62.2v3.3h-62.2zM610.8 472.4h17.0v3.3h-17.0zM656.0 472.4h28.2v3.3h-28.2zM723.8 472.4h50.9v3.3h-50.9zM819.8 472.4h11.3v3.3h-11.3zM853.7 472.4h11.3v3.3h-11.3zM882.0 472.4h22.6v3.3h-22.6zM1006.2 472.4h33.9v3.3h-33.9zM1096.7 472.4h96.1v3.3h-96.1zM1294.4 472.4h39.6v3.3h-39.6zM1345.2 472.4h107.4v3.3h-107.4zM1480.8 472.4h118.7v3.3h-118.7zM1661.7 472.4h84.8v3.3h-84.8zM339.5 475.7h79.1v3.3h-79.1zM424.3 475.7h5.7v3.3h-5.7zM605.1 475.7h22.6v3.3h-22.6zM1006.2 475.7h28.2v3.3h-28.2zM1040.2 475.7h22.6v3.3h-22.6zM1124.9 475.7h11.3v3.3h-11.3zM1181.4 475.7h11.3v3.3h-11.3zM1339.6 475.7h17.0v3.3h-17.0zM1379.2 475.7h62.2v3.3h-62.2zM1480.8 475.7h67.8v3.3h-67.8zM1588.2 475.7h11.3v3.3h-11.3zM1661.7 475.7h84.8v3.3h-84.8zM316.9 479.0h101.7v3.3h-101.7zM424.3 479.0h28.2v3.3h-28.2zM616.4 479.0h33.9v3.3h-33.9zM701.1 479.0h84.8v3.3h-84.8zM819.8 479.0h11.3v3.3h-11.3zM853.7 479.0h11.3v3.3h-11.3zM882.0 479.0h50.9v3.3h-50.9zM1085.3 479.0h107.4v3.3h-107.4zM1294.4 479.0h33.9v3.3h-33.9zM1356.6 479.0h101.7v3.3h-101.7zM1480.8 479.0h73.5v3.3h-73.5zM1576.9 479.0h90.4v3.3h-90.4zM1729.5 479.0h17.0v3.3h-17.0zM288.7 482.3h11.3v3.3h-11.3zM328.2 482.3h22.6v3.3h-22.6zM413.0 482.3h5.7v3.3h-5.7zM424.3 482.3h28.2v3.3h-28.2zM610.8 482.3h17.0v3.3h-17.0zM650.3 482.3h11.3v3.3h-11.3zM689.9 482.3h33.9v3.3h-33.9zM780.2 482.3h5.7v3.3h-5.7zM819.8 482.3h11.3v3.3h-11.3zM853.7 482.3h11.3v3.3h-11.3zM882.0 482.3h50.9v3.3h-50.9zM1006.2 482.3h33.9v3.3h-33.9zM1102.3 482.3h90.4v3.3h-90.4zM1294.4 482.3h45.2v3.3h-45.2zM1379.2 482.3h39.6v3.3h-39.6zM1480.8 482.3h45.2v3.3h-45.2zM1560.0 482.3h39.6v3.3h-39.6zM1633.4 482.3h113.0v3.3h-113.0zM277.4 485.6h22.6v3.3h-22.6zM311.3 485.6h11.3v3.3h-11.3zM333.9 485.6h84.8v3.3h-84.8zM424.3 485.6h5.7v3.3h-5.7zM593.8 485.6h33.9v3.3h-33.9zM752.0 485.6h17.0v3.3h-17.0zM819.8 485.6h11.3v3.3h-11.3zM853.7 485.6h11.3v3.3h-11.3zM882.0 485.6h50.9v3.3h-50.9zM1006.2 485.6h33.9v3.3h-33.9zM1181.4 485.6h11.3v3.3h-11.3zM1311.3 485.6h33.9v3.3h-33.9zM1379.2 485.6h79.1v3.3h-79.1zM1480.8 485.6h45.2v3.3h-45.2zM1565.6 485.6h22.6v3.3h-22.6zM1639.1 485.6h107.4v3.3h-107.4zM277.4 488.9h56.5v3.3h-56.5zM367.8 488.9h50.9v3.3h-50.9zM424.3 488.9h28.2v3.3h-28.2zM616.4 488.9h11.3v3.3h-11.3zM718.1 488.9h45.2v3.3h-45.2zM819.8 488.9h11.3v3.3h-11.3zM853.7 488.9h11.3v3.3h-11.3zM1006.2 488.9h33.9v3.3h-33.9zM1068.4 488.9h67.8v3.3h-67.8zM1181.4 488.9h11.3v3.3h-11.3zM1294.4 488.9h62.2v3.3h-62.2zM1373.5 488.9h5.7v3.3h-5.7zM1430.0 488.9h28.2v3.3h-28.2zM1480.8 488.9h67.8v3.3h-67.8zM1661.7 488.9h84.8v3.3h-84.8zM277.4 492.2h84.8v3.3h-84.8zM424.3 492.2h22.6v3.3h-22.6zM593.8 492.2h22.6v3.3h-22.6zM622.0 492.2h5.7v3.3h-5.7zM701.1 492.2h50.9v3.3h-50.9zM763.3 492.2h11.3v3.3h-11.3zM819.8 492.2h11.3v3.3h-11.3zM853.7 492.2h11.3v3.3h-11.3zM882.0 492.2h22.6v3.3h-22.6zM1006.2 492.2h67.8v3.3h-67.8zM1136.2 492.2h45.2v3.3h-45.2zM1294.4 492.2h39.6v3.3h-39.6zM1350.9 492.2h56.5v3.3h-56.5zM1418.7 492.2h39.6v3.3h-39.6zM1740.8 492.2h5.7v3.3h-5.7zM300.0 495.5h56.5v3.3h-56.5zM373.4 495.5h45.2v3.3h-45.2zM424.3 495.5h22.6v3.3h-22.6zM593.8 495.5h22.6v3.3h-22.6zM622.0 495.5h5.7v3.3h-5.7zM661.6 495.5h33.9v3.3h-33.9zM701.1 495.5h28.2v3.3h-28.2zM819.8 495.5h11.3v3.3h-11.3zM853.7 495.5h11.3v3.3h-11.3zM882.0 495.5h33.9v3.3h-33.9zM1006.2 495.5h33.9v3.3h-33.9zM1091.0 495.5h33.9v3.3h-33.9zM1181.4 495.5h11.3v3.3h-11.3zM1333.9 495.5h45.2v3.3h-45.2zM1424.3 495.5h33.9v3.3h-33.9zM1740.8 495.5h5.7v3.3h-5.7zM288.7 498.8h73.5v3.3h-73.5zM622.0 498.8h5.7v3.3h-5.7zM661.6 498.8h17.0v3.3h-17.0zM689.9 498.8h11.3v3.3h-11.3zM853.7 498.8h11.3v3.3h-11.3zM915.9 498.8h17.0v3.3h-17.0zM1006.2 498.8h50.9v3.3h-50.9zM1068.4 498.8h22.6v3.3h-22.6zM1136.2 498.8h56.5v3.3h-56.5zM1294.4 498.8h62.2v3.3h-62.2zM1418.7 498.8h33.9v3.3h-33.9zM1740.8 498.8h5.7v3.3h-5.7zM277.4 502.1h50.9v3.3h-50.9zM390.4 502.1h28.2v3.3h-28.2zM424.3 502.1h22.6v3.3h-22.6zM661.6 502.1h33.9v3.3h-33.9zM774.6 502.1h11.3v3.3h-11.3zM1006.2 502.1h33.9v3.3h-33.9zM1057.1 502.1h17.0v3.3h-17.0zM1147.5 502.1h28.2v3.3h-28.2zM1294.4 502.1h107.4v3.3h-107.4zM1418.7 502.1h33.9v3.3h-33.9zM1656.0 502.1h73.5v3.3h-73.5zM1740.8 502.1h5.7v3.3h-5.7zM277.4 505.4h45.2v3.3h-45.2zM339.5 505.4h79.1v3.3h-79.1zM424.3 505.4h22.6v3.3h-22.6zM599.5 505.4h17.0v3.3h-17.0zM622.0 505.4h5.7v3.3h-5.7zM678.5 505.4h50.9v3.3h-50.9zM740.7 505.4h11.3v3.3h-11.3zM853.7 505.4h11.3v3.3h-11.3zM898.9 505.4h33.9v3.3h-33.9zM1034.5 505.4h33.9v3.3h-33.9zM1108.0 505.4h84.8v3.3h-84.8zM1294.4 505.4h163.9v3.3h-163.9zM1740.8 505.4h5.7v3.3h-5.7zM328.2 508.7h79.1v3.3h-79.1zM610.8 508.7h5.7v3.3h-5.7zM622.0 508.7h5.7v3.3h-5.7zM695.5 508.7h90.4v3.3h-90.4zM853.7 508.7h11.3v3.3h-11.3zM1034.5 508.7h5.7v3.3h-5.7zM1057.1 508.7h96.1v3.3h-96.1zM1187.1 508.7h5.7v3.3h-5.7zM1379.2 508.7h79.1v3.3h-79.1zM1740.8 508.7h5.7v3.3h-5.7zM277.4 512.0h50.9v3.3h-50.9zM362.1 512.0h56.5v3.3h-56.5zM424.3 512.0h22.6v3.3h-22.6zM610.8 512.0h5.7v3.3h-5.7zM689.9 512.0h22.6v3.3h-22.6zM763.3 512.0h22.6v3.3h-22.6zM1322.7 512.0h56.5v3.3h-56.5zM1396.1 512.0h62.2v3.3h-62.2zM1740.8 512.0h5.7v3.3h-5.7zM362.1 515.3h56.5v3.3h-56.5zM424.3 515.3h22.6v3.3h-22.6zM610.8 515.3h5.7v3.3h-5.7zM656.0 515.3h45.2v3.3h-45.2zM763.3 515.3h22.6v3.3h-22.6zM1322.7 515.3h28.2v3.3h-28.2zM1379.2 515.3h11.3v3.3h-11.3zM1740.8 515.3h5.7v3.3h-5.7zM277.4 518.6h22.6v3.3h-22.6zM379.1 518.6h17.0v3.3h-17.0zM413.0 518.6h5.7v3.3h-5.7zM424.3 518.6h22.6v3.3h-22.6zM593.8 518.6h22.6v3.3h-22.6zM622.0 518.6h5.7v3.3h-5.7zM701.1 518.6h28.2v3.3h-28.2zM752.0 518.6h33.9v3.3h-33.9zM853.7 518.6h11.3v3.3h-11.3zM910.2 518.6h11.3v3.3h-11.3zM1006.2 518.6h33.9v3.3h-33.9zM1096.7 518.6h39.6v3.3h-39.6zM1294.4 518.6h107.4v3.3h-107.4zM1740.8 518.6h5.7v3.3h-5.7zM277.4 521.9h56.5v3.3h-56.5zM424.3 521.9h22.6v3.3h-22.6zM622.0 521.9h17.0v3.3h-17.0zM684.2 521.9h50.9v3.3h-50.9zM752.0 521.9h28.2v3.3h-28.2zM853.7 521.9h11.3v3.3h-11.3zM898.9 521.9h33.9v3.3h-33.9zM1006.2 521.9h107.4v3.3h-107.4zM1130.6 521.9h62.2v3.3h-62.2zM1294.4 521.9h79.1v3.3h-79.1zM1740.8 521.9h5.7v3.3h-5.7zM277.4 525.2h28.2v3.3h-28.2zM441.2 525.2h5.7v3.3h-5.7zM622.0 525.2h5.7v3.3h-5.7zM701.1 525.2h17.0v3.3h-17.0zM853.7 525.2h11.3v3.3h-11.3zM882.0 525.2h22.6v3.3h-22.6zM1006.2 525.2h101.7v3.3h-101.7zM1136.2 525.2h56.5v3.3h-56.5zM1294.4 525.2h17.0v3.3h-17.0zM1339.6 525.2h113.0v3.3h-113.0zM1740.8 525.2h5.7v3.3h-5.7zM277.4 528.5h17.0v3.3h-17.0zM345.2 528.5h56.5v3.3h-56.5zM446.9 528.5h5.7v3.3h-5.7zM593.8 528.5h22.6v3.3h-22.6zM622.0 528.5h5.7v3.3h-5.7zM701.1 528.5h33.9v3.3h-33.9zM752.0 528.5h28.2v3.3h-28.2zM853.7 528.5h11.3v3.3h-11.3zM898.9 528.5h33.9v3.3h-33.9zM1006.2 528.5h45.2v3.3h-45.2zM1074.1 528.5h39.6v3.3h-39.6zM1136.2 528.5h56.5v3.3h-56.5zM1311.3 528.5h39.6v3.3h-39.6zM1379.2 528.5h33.9v3.3h-33.9zM1430.0 528.5h28.2v3.3h-28.2zM1486.5 528.5h118.7v3.3h-118.7zM1627.8 528.5h118.7v3.3h-118.7zM379.1 531.8h73.5v3.3h-73.5zM622.0 531.8h17.0v3.3h-17.0zM661.6 531.8h11.3v3.3h-11.3zM701.1 531.8h11.3v3.3h-11.3zM763.3 531.8h11.3v3.3h-11.3zM853.7 531.8h11.3v3.3h-11.3zM898.9 531.8h22.6v3.3h-22.6zM1023.2 531.8h39.6v3.3h-39.6zM1113.6 531.8h79.1v3.3h-79.1zM1311.3 531.8h146.9v3.3h-146.9zM1740.8 531.8h5.7v3.3h-5.7zM294.3 535.1h79.1v3.3h-79.1zM390.4 535.1h28.2v3.3h-28.2zM593.8 535.1h11.3v3.3h-11.3zM684.2 535.1h17.0v3.3h-17.0zM712.5 535.1h17.0v3.3h-17.0zM893.2 535.1h17.0v3.3h-17.0zM949.8 535.1h45.2v3.3h-45.2zM1034.5 535.1h5.7v3.3h-5.7zM1045.8 535.1h11.3v3.3h-11.3zM1062.8 535.1h22.6v3.3h-22.6zM1108.0 535.1h101.7v3.3h-101.7zM1277.5 535.1h22.6v3.3h-22.6zM1367.8 535.1h50.9v3.3h-50.9zM1447.0 535.1h11.3v3.3h-11.3zM1469.6 535.1h101.7v3.3h-101.7zM1706.8 535.1h28.2v3.3h-28.2zM345.2 538.4h22.6v3.3h-22.6zM497.8 538.4h11.3v3.3h-11.3zM582.5 538.4h5.7v3.3h-5.7zM593.8 538.4h11.3v3.3h-11.3zM656.0 538.4h5.7v3.3h-5.7zM678.5 538.4h5.7v3.3h-5.7zM695.5 538.4h5.7v3.3h-5.7zM723.8 538.4h28.2v3.3h-28.2zM1068.4 538.4h124.3v3.3h-124.3zM1204.0 538.4h5.7v3.3h-5.7zM1226.6 538.4h11.3v3.3h-11.3zM1271.8 538.4h5.7v3.3h-5.7zM1300.1 538.4h17.0v3.3h-17.0zM1373.5 538.4h56.5v3.3h-56.5zM1458.2 538.4h5.7v3.3h-5.7zM1492.2 538.4h84.8v3.3h-84.8zM1661.7 538.4h84.8v3.3h-84.8zM294.3 541.7h17.0v3.3h-17.0zM576.9 541.7h5.7v3.3h-5.7zM678.5 541.7h5.7v3.3h-5.7zM701.1 541.7h11.3v3.3h-11.3zM723.8 541.7h11.3v3.3h-11.3zM915.9 541.7h17.0v3.3h-17.0zM1034.5 541.7h22.6v3.3h-22.6zM1062.8 541.7h56.5v3.3h-56.5zM1164.5 541.7h28.2v3.3h-28.2zM1204.0 541.7h5.7v3.3h-5.7zM1311.3 541.7h56.5v3.3h-56.5zM1486.5 541.7h67.8v3.3h-67.8zM1593.8 541.7h39.6v3.3h-39.6zM1678.6 541.7h50.9v3.3h-50.9zM1740.8 541.7h5.7v3.3h-5.7zM294.3 545.0h124.3v3.3h-124.3zM463.9 545.0h5.7v3.3h-5.7zM503.4 545.0h5.7v3.3h-5.7zM554.2 545.0h5.7v3.3h-5.7zM593.8 545.0h22.6v3.3h-22.6zM678.5 545.0h17.0v3.3h-17.0zM701.1 545.0h28.2v3.3h-28.2zM1034.5 545.0h17.0v3.3h-17.0zM1057.1 545.0h28.2v3.3h-28.2zM1192.7 545.0h22.6v3.3h-22.6zM1576.9 545.0h17.0v3.3h-17.0zM1622.1 545.0h90.4v3.3h-90.4zM294.3 548.3h96.1v3.3h-96.1zM469.5 548.3h5.7v3.3h-5.7zM576.9 548.3h17.0v3.3h-17.0zM678.5 548.3h5.7v3.3h-5.7zM831.1 548.3h50.9v3.3h-50.9zM1034.5 548.3h158.2v3.3h-158.2zM1198.3 548.3h22.6v3.3h-22.6zM1243.6 548.3h17.0v3.3h-17.0zM1328.3 548.3h22.6v3.3h-22.6zM1430.0 548.3h11.3v3.3h-11.3zM1469.6 548.3h259.9v3.3h-259.9zM1740.8 548.3h5.7v3.3h-5.7zM294.3 551.6h124.3v3.3h-124.3zM452.5 551.6h17.0v3.3h-17.0zM475.1 551.6h5.7v3.3h-5.7zM593.8 551.6h11.3v3.3h-11.3zM678.5 551.6h5.7v3.3h-5.7zM701.1 551.6h50.9v3.3h-50.9zM1006.2 551.6h22.6v3.3h-22.6zM1057.1 551.6h5.7v3.3h-5.7zM1074.1 551.6h79.1v3.3h-79.1zM1192.7 551.6h17.0v3.3h-17.0zM1362.2 551.6h56.5v3.3h-56.5zM1458.2 551.6h5.7v3.3h-5.7zM1514.8 551.6h84.8v3.3h-84.8zM1667.3 551.6h39.6v3.3h-39.6zM1729.5 551.6h11.3v3.3h-11.3zM322.6 554.9h28.2v3.3h-28.2zM390.4 554.9h11.3v3.3h-11.3zM463.9 554.9h11.3v3.3h-11.3zM492.1 554.9h17.0v3.3h-17.0zM678.5 554.9h5.7v3.3h-5.7zM757.7 554.9h28.2v3.3h-28.2zM927.1 554.9h5.7v3.3h-5.7zM1034.5 554.9h28.2v3.3h-28.2zM1085.3 554.9h118.7v3.3h-118.7zM1300.1 554.9h45.2v3.3h-45.2zM1407.4 554.9h62.2v3.3h-62.2zM1509.1 554.9h220.4v3.3h-220.4zM277.4 558.2h28.2v3.3h-28.2zM333.9 558.2h67.8v3.3h-67.8zM678.5 558.2h5.7v3.3h-5.7zM701.1 558.2h33.9v3.3h-33.9zM752.0 558.2h33.9v3.3h-33.9zM898.9 558.2h11.3v3.3h-11.3zM1045.8 558.2h79.1v3.3h-79.1zM1181.4 558.2h11.3v3.3h-11.3zM1204.0 558.2h5.7v3.3h-5.7zM1226.6 558.2h17.0v3.3h-17.0zM1260.5 558.2h33.9v3.3h-33.9zM1300.1 558.2h33.9v3.3h-33.9zM1384.8 558.2h203.4v3.3h-203.4zM1633.4 558.2h96.1v3.3h-96.1zM350.8 561.5h67.8v3.3h-67.8zM463.9 561.5h11.3v3.3h-11.3zM593.8 561.5h22.6v3.3h-22.6zM627.7 561.5h33.9v3.3h-33.9zM667.2 561.5h5.7v3.3h-5.7zM678.5 561.5h11.3v3.3h-11.3zM701.1 561.5h84.8v3.3h-84.8zM870.6 561.5h39.6v3.3h-39.6zM1051.5 561.5h67.8v3.3h-67.8zM1192.7 561.5h5.7v3.3h-5.7zM1209.7 561.5h5.7v3.3h-5.7zM1667.3 561.5h62.2v3.3h-62.2zM328.2 564.8h39.6v3.3h-39.6zM458.2 564.8h17.0v3.3h-17.0zM593.8 564.8h17.0v3.3h-17.0zM627.7 564.8h22.6v3.3h-22.6zM678.5 564.8h5.7v3.3h-5.7zM752.0 564.8h33.9v3.3h-33.9zM859.4 564.8h28.2v3.3h-28.2zM921.5 564.8h11.3v3.3h-11.3zM944.1 564.8h45.2v3.3h-45.2zM1006.2 564.8h5.7v3.3h-5.7zM1192.7 564.8h17.0v3.3h-17.0zM1221.0 564.8h39.6v3.3h-39.6zM1333.9 564.8h11.3v3.3h-11.3zM1367.8 564.8h11.3v3.3h-11.3zM1441.3 564.8h22.6v3.3h-22.6zM1520.4 564.8h33.9v3.3h-33.9zM1639.1 564.8h67.8v3.3h-67.8zM1740.8 564.8h5.7v3.3h-5.7zM294.3 568.1h56.5v3.3h-56.5zM367.8 568.1h50.9v3.3h-50.9zM458.2 568.1h11.3v3.3h-11.3zM633.4 568.1h5.7v3.3h-5.7zM678.5 568.1h5.7v3.3h-5.7zM723.8 568.1h22.6v3.3h-22.6zM763.3 568.1h17.0v3.3h-17.0zM893.2 568.1h17.0v3.3h-17.0zM989.3 568.1h17.0v3.3h-17.0zM1034.5 568.1h158.2v3.3h-158.2zM1209.7 568.1h5.7v3.3h-5.7zM1243.6 568.1h17.0v3.3h-17.0zM1475.2 568.1h79.1v3.3h-79.1zM1723.8 568.1h5.7v3.3h-5.7zM362.1 571.4h56.5v3.3h-56.5zM452.5 571.4h22.6v3.3h-22.6zM588.1 571.4h11.3v3.3h-11.3zM689.9 571.4h39.6v3.3h-39.6zM831.1 571.4h17.0v3.3h-17.0zM932.8 571.4h28.2v3.3h-28.2zM1006.2 571.4h22.6v3.3h-22.6zM1062.8 571.4h79.1v3.3h-79.1zM1164.5 571.4h45.2v3.3h-45.2zM1221.0 571.4h22.6v3.3h-22.6zM1260.5 571.4h22.6v3.3h-22.6zM1339.6 571.4h101.7v3.3h-101.7zM1469.6 571.4h11.3v3.3h-11.3zM1548.7 571.4h90.4v3.3h-90.4zM1678.6 571.4h50.9v3.3h-50.9zM1740.8 571.4h5.7v3.3h-5.7zM401.7 574.7h17.0v3.3h-17.0zM503.4 574.7h5.7v3.3h-5.7zM565.5 574.7h11.3v3.3h-11.3zM588.1 574.7h11.3v3.3h-11.3zM644.6 574.7h17.0v3.3h-17.0zM672.9 574.7h5.7v3.3h-5.7zM701.1 574.7h33.9v3.3h-33.9zM746.4 574.7h11.3v3.3h-11.3zM831.1 574.7h45.2v3.3h-45.2zM932.8 574.7h39.6v3.3h-39.6zM1243.6 574.7h22.6v3.3h-22.6zM1300.1 574.7h67.8v3.3h-67.8zM1430.0 574.7h11.3v3.3h-11.3zM1537.3 574.7h17.0v3.3h-17.0zM283.0 578.0h45.2v3.3h-45.2zM401.7 578.0h17.0v3.3h-17.0zM469.5 578.0h5.7v3.3h-5.7zM593.8 578.0h5.7v3.3h-5.7zM678.5 578.0h56.5v3.3h-56.5zM915.9 578.0h17.0v3.3h-17.0zM949.8 578.0h33.9v3.3h-33.9zM1017.6 578.0h11.3v3.3h-11.3zM1045.8 578.0h79.1v3.3h-79.1zM1373.5 578.0h22.6v3.3h-22.6zM1441.3 578.0h22.6v3.3h-22.6zM1469.6 578.0h67.8v3.3h-67.8zM1644.7 578.0h50.9v3.3h-50.9zM1706.8 578.0h22.6v3.3h-22.6zM1740.8 578.0h5.7v3.3h-5.7zM277.4 581.3h45.2v3.3h-45.2zM362.1 581.3h33.9v3.3h-33.9zM452.5 581.3h17.0v3.3h-17.0zM571.2 581.3h22.6v3.3h-22.6zM605.1 581.3h11.3v3.3h-11.3zM763.3 581.3h22.6v3.3h-22.6zM983.6 581.3h22.6v3.3h-22.6zM1034.5 581.3h11.3v3.3h-11.3zM1057.1 581.3h73.5v3.3h-73.5zM1187.1 581.3h22.6v3.3h-22.6zM1215.3 581.3h11.3v3.3h-11.3zM1260.5 581.3h17.0v3.3h-17.0zM1367.8 581.3h84.8v3.3h-84.8zM1497.8 581.3h22.6v3.3h-22.6zM1639.1 581.3h39.6v3.3h-39.6zM294.3 584.6h56.5v3.3h-56.5zM463.9 584.6h11.3v3.3h-11.3zM599.5 584.6h11.3v3.3h-11.3zM639.0 584.6h28.2v3.3h-28.2zM678.5 584.6h5.7v3.3h-5.7zM718.1 584.6h17.0v3.3h-17.0zM1017.6 584.6h11.3v3.3h-11.3zM1034.5 584.6h79.1v3.3h-79.1zM1170.1 584.6h22.6v3.3h-22.6zM1198.3 584.6h11.3v3.3h-11.3zM1260.5 584.6h11.3v3.3h-11.3zM1300.1 584.6h56.5v3.3h-56.5zM1418.7 584.6h22.6v3.3h-22.6zM1503.5 584.6h33.9v3.3h-33.9zM1644.7 584.6h45.2v3.3h-45.2zM277.4 587.9h17.0v3.3h-17.0zM396.0 587.9h22.6v3.3h-22.6zM678.5 587.9h5.7v3.3h-5.7zM701.1 587.9h73.5v3.3h-73.5zM831.1 587.9h22.6v3.3h-22.6zM915.9 587.9h17.0v3.3h-17.0zM1006.2 587.9h22.6v3.3h-22.6zM1045.8 587.9h5.7v3.3h-5.7zM1124.9 587.9h45.2v3.3h-45.2zM1204.0 587.9h5.7v3.3h-5.7zM1373.5 587.9h67.8v3.3h-67.8zM1480.8 587.9h11.3v3.3h-11.3zM1593.8 587.9h33.9v3.3h-33.9zM1701.2 587.9h28.2v3.3h-28.2zM277.4 591.2h11.3v3.3h-11.3zM294.3 591.2h50.9v3.3h-50.9zM401.7 591.2h17.0v3.3h-17.0zM452.5 591.2h17.0v3.3h-17.0zM593.8 591.2h11.3v3.3h-11.3zM650.3 591.2h11.3v3.3h-11.3zM701.1 591.2h17.0v3.3h-17.0zM729.4 591.2h45.2v3.3h-45.2zM831.1 591.2h28.2v3.3h-28.2zM915.9 591.2h113.0v3.3h-113.0zM1045.8 591.2h67.8v3.3h-67.8zM1153.2 591.2h45.2v3.3h-45.2zM1232.2 591.2h5.7v3.3h-5.7zM1288.8 591.2h5.7v3.3h-5.7zM1300.1 591.2h33.9v3.3h-33.9zM1384.8 591.2h56.5v3.3h-56.5zM1514.8 591.2h113.0v3.3h-113.0zM1740.8 591.2h5.7v3.3h-5.7zM277.4 594.5h62.2v3.3h-62.2zM407.4 594.5h11.3v3.3h-11.3zM452.5 594.5h11.3v3.3h-11.3zM492.1 594.5h17.0v3.3h-17.0zM593.8 594.5h5.7v3.3h-5.7zM661.6 594.5h17.0v3.3h-17.0zM701.1 594.5h84.8v3.3h-84.8zM882.0 594.5h17.0v3.3h-17.0zM915.9 594.5h17.0v3.3h-17.0zM1006.2 594.5h17.0v3.3h-17.0zM1034.5 594.5h11.3v3.3h-11.3zM1062.8 594.5h39.6v3.3h-39.6zM1300.1 594.5h118.7v3.3h-118.7zM1430.0 594.5h11.3v3.3h-11.3zM1503.5 594.5h101.7v3.3h-101.7zM277.4 597.8h11.3v3.3h-11.3zM350.8 597.8h56.5v3.3h-56.5zM486.4 597.8h5.7v3.3h-5.7zM582.5 597.8h11.3v3.3h-11.3zM712.5 597.8h22.6v3.3h-22.6zM757.7 597.8h28.2v3.3h-28.2zM831.1 597.8h22.6v3.3h-22.6zM961.1 597.8h11.3v3.3h-11.3zM1034.5 597.8h11.3v3.3h-11.3zM1062.8 597.8h33.9v3.3h-33.9zM1136.2 597.8h73.5v3.3h-73.5zM1260.5 597.8h5.7v3.3h-5.7zM1294.4 597.8h28.2v3.3h-28.2zM1373.5 597.8h67.8v3.3h-67.8zM1452.6 597.8h118.7v3.3h-118.7zM1588.2 597.8h28.2v3.3h-28.2zM1689.9 597.8h28.2v3.3h-28.2zM277.4 601.1h11.3v3.3h-11.3zM322.6 601.1h5.7v3.3h-5.7zM458.2 601.1h17.0v3.3h-17.0zM571.2 601.1h5.7v3.3h-5.7zM599.5 601.1h11.3v3.3h-11.3zM678.5 601.1h5.7v3.3h-5.7zM735.0 601.1h11.3v3.3h-11.3zM774.6 601.1h11.3v3.3h-11.3zM865.0 601.1h22.6v3.3h-22.6zM898.9 601.1h11.3v3.3h-11.3zM915.9 601.1h11.3v3.3h-11.3zM932.8 601.1h33.9v3.3h-33.9zM1034.5 601.1h5.7v3.3h-5.7zM1045.8 601.1h17.0v3.3h-17.0zM1187.1 601.1h5.7v3.3h-5.7zM1198.3 601.1h11.3v3.3h-11.3zM1356.6 601.1h84.8v3.3h-84.8zM1526.1 601.1h73.5v3.3h-73.5zM1740.8 601.1h5.7v3.3h-5.7zM350.8 604.4h67.8v3.3h-67.8zM735.0 604.4h33.9v3.3h-33.9zM932.8 604.4h33.9v3.3h-33.9zM1057.1 604.4h135.6v3.3h-135.6zM1198.3 604.4h17.0v3.3h-17.0zM1266.2 604.4h11.3v3.3h-11.3zM1294.4 604.4h5.7v3.3h-5.7zM1362.2 604.4h79.1v3.3h-79.1zM1475.2 604.4h62.2v3.3h-62.2zM1678.6 604.4h11.3v3.3h-11.3zM283.0 607.7h22.6v3.3h-22.6zM322.6 607.7h11.3v3.3h-11.3zM463.9 607.7h28.2v3.3h-28.2zM616.4 607.7h22.6v3.3h-22.6zM780.2 607.7h5.7v3.3h-5.7zM831.1 607.7h79.1v3.3h-79.1zM1006.2 607.7h22.6v3.3h-22.6zM1045.8 607.7h17.0v3.3h-17.0zM1113.6 607.7h39.6v3.3h-39.6zM1187.1 607.7h22.6v3.3h-22.6zM1288.8 607.7h5.7v3.3h-5.7zM1356.6 607.7h56.5v3.3h-56.5zM1441.3 607.7h33.9v3.3h-33.9zM1509.1 607.7h17.0v3.3h-17.0zM1560.0 607.7h107.4v3.3h-107.4zM1678.6 607.7h50.9v3.3h-50.9zM294.3 611.0h50.9v3.3h-50.9zM356.5 611.0h50.9v3.3h-50.9zM458.2 611.0h17.0v3.3h-17.0zM554.2 611.0h22.6v3.3h-22.6zM605.1 611.0h11.3v3.3h-11.3zM650.3 611.0h22.6v3.3h-22.6zM678.5 611.0h50.9v3.3h-50.9zM752.0 611.0h11.3v3.3h-11.3zM1198.3 611.0h11.3v3.3h-11.3zM1300.1 611.0h141.2v3.3h-141.2zM1576.9 611.0h33.9v3.3h-33.9zM1684.2 611.0h28.2v3.3h-28.2zM452.5 614.3h45.2v3.3h-45.2zM678.5 614.3h67.8v3.3h-67.8zM870.6 614.3h28.2v3.3h-28.2zM932.8 614.3h39.6v3.3h-39.6zM995.0 614.3h33.9v3.3h-33.9zM1034.5 614.3h5.7v3.3h-5.7zM1045.8 614.3h17.0v3.3h-17.0zM1102.3 614.3h90.4v3.3h-90.4zM1209.7 614.3h33.9v3.3h-33.9zM1300.1 614.3h50.9v3.3h-50.9zM1463.9 614.3h17.0v3.3h-17.0zM1492.2 614.3h67.8v3.3h-67.8zM1712.5 614.3h17.0v3.3h-17.0zM277.4 617.6h17.0v3.3h-17.0zM316.9 617.6h101.7v3.3h-101.7zM492.1 617.6h17.0v3.3h-17.0zM605.1 617.6h5.7v3.3h-5.7zM678.5 617.6h5.7v3.3h-5.7zM701.1 617.6h56.5v3.3h-56.5zM780.2 617.6h5.7v3.3h-5.7zM904.6 617.6h5.7v3.3h-5.7zM1045.8 617.6h192.1v3.3h-192.1zM1300.1 617.6h135.6v3.3h-135.6zM1441.3 617.6h118.7v3.3h-118.7zM1599.5 617.6h28.2v3.3h-28.2zM1706.8 617.6h22.6v3.3h-22.6zM1740.8 617.6h5.7v3.3h-5.7zM294.3 620.9h50.9v3.3h-50.9zM396.0 620.9h22.6v3.3h-22.6zM593.8 620.9h22.6v3.3h-22.6zM706.8 620.9h79.1v3.3h-79.1zM876.3 620.9h17.0v3.3h-17.0zM915.9 620.9h17.0v3.3h-17.0zM1034.5 620.9h11.3v3.3h-11.3zM1062.8 620.9h50.9v3.3h-50.9zM1187.1 620.9h22.6v3.3h-22.6zM1300.1 620.9h163.9v3.3h-163.9zM1526.1 620.9h39.6v3.3h-39.6zM1588.2 620.9h39.6v3.3h-39.6zM1701.2 620.9h17.0v3.3h-17.0zM288.7 624.2h45.2v3.3h-45.2zM350.8 624.2h50.9v3.3h-50.9zM413.0 624.2h5.7v3.3h-5.7zM452.5 624.2h22.6v3.3h-22.6zM554.2 624.2h11.3v3.3h-11.3zM599.5 624.2h17.0v3.3h-17.0zM667.2 624.2h17.0v3.3h-17.0zM701.1 624.2h84.8v3.3h-84.8zM915.9 624.2h17.0v3.3h-17.0zM1034.5 624.2h22.6v3.3h-22.6zM1062.8 624.2h130.0v3.3h-130.0zM1198.3 624.2h11.3v3.3h-11.3zM1237.9 624.2h5.7v3.3h-5.7zM1311.3 624.2h169.5v3.3h-169.5zM1492.2 624.2h237.3v3.3h-237.3zM277.4 627.5h5.7v3.3h-5.7zM305.6 627.5h113.0v3.3h-113.0zM452.5 627.5h22.6v3.3h-22.6zM492.1 627.5h5.7v3.3h-5.7zM565.5 627.5h22.6v3.3h-22.6zM616.4 627.5h17.0v3.3h-17.0zM678.5 627.5h5.7v3.3h-5.7zM689.9 627.5h11.3v3.3h-11.3zM729.4 627.5h45.2v3.3h-45.2zM887.6 627.5h22.6v3.3h-22.6zM1040.2 627.5h5.7v3.3h-5.7zM1096.7 627.5h22.6v3.3h-22.6zM1260.5 627.5h22.6v3.3h-22.6zM1430.0 627.5h11.3v3.3h-11.3zM1650.3 627.5h56.5v3.3h-56.5zM283.0 630.8h45.2v3.3h-45.2zM396.0 630.8h22.6v3.3h-22.6zM469.5 630.8h5.7v3.3h-5.7zM605.1 630.8h5.7v3.3h-5.7zM650.3 630.8h11.3v3.3h-11.3zM695.5 630.8h22.6v3.3h-22.6zM740.7 630.8h45.2v3.3h-45.2zM831.1 630.8h33.9v3.3h-33.9zM932.8 630.8h56.5v3.3h-56.5zM1034.5 630.8h11.3v3.3h-11.3zM1062.8 630.8h22.6v3.3h-22.6zM1136.2 630.8h50.9v3.3h-50.9zM1232.2 630.8h11.3v3.3h-11.3zM1322.7 630.8h271.2v3.3h-271.2zM1667.3 630.8h62.2v3.3h-62.2zM1740.8 630.8h5.7v3.3h-5.7zM288.7 634.1h5.7v3.3h-5.7zM322.6 634.1h45.2v3.3h-45.2zM497.8 634.1h11.3v3.3h-11.3zM593.8 634.1h5.7v3.3h-5.7zM616.4 634.1h5.7v3.3h-5.7zM633.4 634.1h33.9v3.3h-33.9zM701.1 634.1h17.0v3.3h-17.0zM735.0 634.1h50.9v3.3h-50.9zM831.1 634.1h56.5v3.3h-56.5zM915.9 634.1h17.0v3.3h-17.0zM966.7 634.1h17.0v3.3h-17.0zM1051.5 634.1h5.7v3.3h-5.7zM1074.1 634.1h96.1v3.3h-96.1zM1204.0 634.1h5.7v3.3h-5.7zM1243.6 634.1h28.2v3.3h-28.2zM1300.1 634.1h11.3v3.3h-11.3zM288.7 637.4h130.0v3.3h-130.0zM463.9 637.4h11.3v3.3h-11.3zM593.8 637.4h17.0v3.3h-17.0zM678.5 637.4h5.7v3.3h-5.7zM701.1 637.4h11.3v3.3h-11.3zM729.4 637.4h17.0v3.3h-17.0zM757.7 637.4h28.2v3.3h-28.2zM882.0 637.4h28.2v3.3h-28.2zM1006.2 637.4h22.6v3.3h-22.6zM1062.8 637.4h28.2v3.3h-28.2zM1113.6 637.4h17.0v3.3h-17.0zM1192.7 637.4h17.0v3.3h-17.0zM1300.1 637.4h152.6v3.3h-152.6zM1554.3 637.4h45.2v3.3h-45.2zM1633.4 637.4h67.8v3.3h-67.8zM1740.8 637.4h5.7v3.3h-5.7zM294.3 640.7h56.5v3.3h-56.5zM390.4 640.7h17.0v3.3h-17.0zM452.5 640.7h5.7v3.3h-5.7zM463.9 640.7h5.7v3.3h-5.7zM554.2 640.7h17.0v3.3h-17.0zM588.1 640.7h5.7v3.3h-5.7zM678.5 640.7h5.7v3.3h-5.7zM769.0 640.7h17.0v3.3h-17.0zM887.6 640.7h22.6v3.3h-22.6zM1045.8 640.7h11.3v3.3h-11.3zM1113.6 640.7h79.1v3.3h-79.1zM1204.0 640.7h5.7v3.3h-5.7zM1300.1 640.7h56.5v3.3h-56.5zM1396.1 640.7h45.2v3.3h-45.2zM1560.0 640.7h62.2v3.3h-62.2zM1644.7 640.7h11.3v3.3h-11.3zM1723.8 640.7h5.7v3.3h-5.7zM1740.8 640.7h5.7v3.3h-5.7zM277.4 644.0h11.3v3.3h-11.3zM396.0 644.0h22.6v3.3h-22.6zM452.5 644.0h5.7v3.3h-5.7zM571.2 644.0h22.6v3.3h-22.6zM633.4 644.0h22.6v3.3h-22.6zM678.5 644.0h22.6v3.3h-22.6zM763.3 644.0h17.0v3.3h-17.0zM876.3 644.0h11.3v3.3h-11.3zM915.9 644.0h56.5v3.3h-56.5zM1000.6 644.0h5.7v3.3h-5.7zM1040.2 644.0h5.7v3.3h-5.7zM1062.8 644.0h79.1v3.3h-79.1zM1237.9 644.0h5.7v3.3h-5.7zM1350.9 644.0h130.0v3.3h-130.0zM1492.2 644.0h5.7v3.3h-5.7zM1633.4 644.0h50.9v3.3h-50.9zM277.4 647.3h107.4v3.3h-107.4zM610.8 647.3h5.7v3.3h-5.7zM701.1 647.3h84.8v3.3h-84.8zM831.1 647.3h22.6v3.3h-22.6zM932.8 647.3h17.0v3.3h-17.0zM1153.2 647.3h56.5v3.3h-56.5zM1215.3 647.3h11.3v3.3h-11.3zM1300.1 647.3h11.3v3.3h-11.3zM1571.2 647.3h67.8v3.3h-67.8zM1701.2 647.3h28.2v3.3h-28.2zM1740.8 647.3h5.7v3.3h-5.7zM288.7 650.6h5.7v3.3h-5.7zM322.6 650.6h96.1v3.3h-96.1zM452.5 650.6h22.6v3.3h-22.6zM559.9 650.6h22.6v3.3h-22.6zM723.8 650.6h17.0v3.3h-17.0zM769.0 650.6h17.0v3.3h-17.0zM831.1 650.6h39.6v3.3h-39.6zM915.9 650.6h17.0v3.3h-17.0zM1006.2 650.6h22.6v3.3h-22.6zM1141.8 650.6h28.2v3.3h-28.2zM1192.7 650.6h5.7v3.3h-5.7zM1277.5 650.6h22.6v3.3h-22.6zM1333.9 650.6h22.6v3.3h-22.6zM1407.4 650.6h56.5v3.3h-56.5zM1480.8 650.6h11.3v3.3h-11.3zM1582.6 650.6h62.2v3.3h-62.2zM1684.2 650.6h45.2v3.3h-45.2zM1740.8 650.6h5.7v3.3h-5.7zM294.3 653.9h50.9v3.3h-50.9zM656.0 653.9h11.3v3.3h-11.3zM678.5 653.9h5.7v3.3h-5.7zM932.8 653.9h28.2v3.3h-28.2zM1062.8 653.9h50.9v3.3h-50.9zM1124.9 653.9h5.7v3.3h-5.7zM1333.9 653.9h17.0v3.3h-17.0zM1362.2 653.9h67.8v3.3h-67.8zM1458.2 653.9h79.1v3.3h-79.1zM1554.3 653.9h67.8v3.3h-67.8zM277.4 657.2h11.3v3.3h-11.3zM576.9 657.2h17.0v3.3h-17.0zM678.5 657.2h22.6v3.3h-22.6zM882.0 657.2h28.2v3.3h-28.2zM915.9 657.2h17.0v3.3h-17.0zM961.1 657.2h39.6v3.3h-39.6zM1045.8 657.2h84.8v3.3h-84.8zM1181.4 657.2h11.3v3.3h-11.3zM1198.3 657.2h11.3v3.3h-11.3zM1232.2 657.2h5.7v3.3h-5.7zM1300.1 657.2h39.6v3.3h-39.6zM1441.3 657.2h67.8v3.3h-67.8zM1571.2 657.2h45.2v3.3h-45.2zM1627.8 657.2h90.4v3.3h-90.4zM1740.8 657.2h5.7v3.3h-5.7zM283.0 660.5h11.3v3.3h-11.3zM322.6 660.5h17.0v3.3h-17.0zM605.1 660.5h11.3v3.3h-11.3zM678.5 660.5h56.5v3.3h-56.5zM774.6 660.5h11.3v3.3h-11.3zM831.1 660.5h33.9v3.3h-33.9zM1006.2 660.5h22.6v3.3h-22.6zM1034.5 660.5h11.3v3.3h-11.3zM1062.8 660.5h62.2v3.3h-62.2zM1192.7 660.5h28.2v3.3h-28.2zM1300.1 660.5h28.2v3.3h-28.2zM1435.7 660.5h39.6v3.3h-39.6zM1526.1 660.5h11.3v3.3h-11.3zM1593.8 660.5h84.8v3.3h-84.8zM277.4 663.8h84.8v3.3h-84.8zM413.0 663.8h5.7v3.3h-5.7zM469.5 663.8h11.3v3.3h-11.3zM610.8 663.8h5.7v3.3h-5.7zM678.5 663.8h5.7v3.3h-5.7zM763.3 663.8h22.6v3.3h-22.6zM865.0 663.8h39.6v3.3h-39.6zM978.0 663.8h11.3v3.3h-11.3zM1034.5 663.8h11.3v3.3h-11.3zM1062.8 663.8h62.2v3.3h-62.2zM1181.4 663.8h11.3v3.3h-11.3zM1260.5 663.8h11.3v3.3h-11.3zM1300.1 663.8h141.2v3.3h-141.2zM1656.0 663.8h56.5v3.3h-56.5zM294.3 667.1h39.6v3.3h-39.6zM367.8 667.1h50.9v3.3h-50.9zM559.9 667.1h17.0v3.3h-17.0zM582.5 667.1h11.3v3.3h-11.3zM616.4 667.1h33.9v3.3h-33.9zM684.2 667.1h5.7v3.3h-5.7zM893.2 667.1h17.0v3.3h-17.0zM932.8 667.1h22.6v3.3h-22.6zM1006.2 667.1h22.6v3.3h-22.6zM1034.5 667.1h11.3v3.3h-11.3zM1153.2 667.1h39.6v3.3h-39.6zM1209.7 667.1h11.3v3.3h-11.3zM1260.5 667.1h11.3v3.3h-11.3zM1300.1 667.1h22.6v3.3h-22.6zM1373.5 667.1h45.2v3.3h-45.2zM1441.3 667.1h56.5v3.3h-56.5zM1571.2 667.1h39.6v3.3h-39.6zM277.4 670.4h107.4v3.3h-107.4zM469.5 670.4h22.6v3.3h-22.6zM678.5 670.4h22.6v3.3h-22.6zM712.5 670.4h73.5v3.3h-73.5zM915.9 670.4h17.0v3.3h-17.0zM1006.2 670.4h22.6v3.3h-22.6zM1034.5 670.4h11.3v3.3h-11.3zM1062.8 670.4h28.2v3.3h-28.2zM1108.0 670.4h84.8v3.3h-84.8zM1243.6 670.4h17.0v3.3h-17.0zM1300.1 670.4h50.9v3.3h-50.9zM1407.4 670.4h22.6v3.3h-22.6zM1441.3 670.4h56.5v3.3h-56.5zM1543.0 670.4h33.9v3.3h-33.9zM1610.8 670.4h56.5v3.3h-56.5zM277.4 673.7h17.0v3.3h-17.0zM339.5 673.7h39.6v3.3h-39.6zM678.5 673.7h5.7v3.3h-5.7zM735.0 673.7h33.9v3.3h-33.9zM831.1 673.7h33.9v3.3h-33.9zM898.9 673.7h11.3v3.3h-11.3zM915.9 673.7h11.3v3.3h-11.3zM1006.2 673.7h22.6v3.3h-22.6zM1057.1 673.7h5.7v3.3h-5.7zM1091.0 673.7h135.6v3.3h-135.6zM1300.1 673.7h28.2v3.3h-28.2zM1673.0 673.7h56.5v3.3h-56.5zM283.0 677.0h118.7v3.3h-118.7zM413.0 677.0h5.7v3.3h-5.7zM475.1 677.0h11.3v3.3h-11.3zM605.1 677.0h11.3v3.3h-11.3zM650.3 677.0h5.7v3.3h-5.7zM672.9 677.0h11.3v3.3h-11.3zM701.1 677.0h28.2v3.3h-28.2zM780.2 677.0h5.7v3.3h-5.7zM870.6 677.0h39.6v3.3h-39.6zM915.9 677.0h17.0v3.3h-17.0zM1006.2 677.0h17.0v3.3h-17.0zM1045.8 677.0h5.7v3.3h-5.7zM1119.2 677.0h33.9v3.3h-33.9zM1175.8 677.0h33.9v3.3h-33.9zM1221.0 677.0h39.6v3.3h-39.6zM1390.5 677.0h79.1v3.3h-79.1zM1492.2 677.0h152.6v3.3h-152.6zM1695.6 677.0h17.0v3.3h-17.0zM1740.8 677.0h5.7v3.3h-5.7zM288.7 680.3h50.9v3.3h-50.9zM571.2 680.3h11.3v3.3h-11.3zM678.5 680.3h5.7v3.3h-5.7zM689.9 680.3h11.3v3.3h-11.3zM780.2 680.3h5.7v3.3h-5.7zM978.0 680.3h50.9v3.3h-50.9zM1113.6 680.3h45.2v3.3h-45.2zM1582.6 680.3h45.2v3.3h-45.2zM1678.6 680.3h22.6v3.3h-22.6zM1740.8 680.3h5.7v3.3h-5.7zM277.4 683.6h28.2v3.3h-28.2zM452.5 683.6h22.6v3.3h-22.6zM503.4 683.6h5.7v3.3h-5.7zM633.4 683.6h11.3v3.3h-11.3zM678.5 683.6h5.7v3.3h-5.7zM701.1 683.6h45.2v3.3h-45.2zM831.1 683.6h17.0v3.3h-17.0zM876.3 683.6h33.9v3.3h-33.9zM995.0 683.6h11.3v3.3h-11.3zM1034.5 683.6h11.3v3.3h-11.3zM1062.8 683.6h56.5v3.3h-56.5zM1300.1 683.6h50.9v3.3h-50.9zM1407.4 683.6h45.2v3.3h-45.2zM1492.2 683.6h11.3v3.3h-11.3zM1588.2 683.6h22.6v3.3h-22.6zM322.6 686.9h79.1v3.3h-79.1zM554.2 686.9h11.3v3.3h-11.3zM689.9 686.9h28.2v3.3h-28.2zM763.3 686.9h22.6v3.3h-22.6zM932.8 686.9h33.9v3.3h-33.9zM978.0 686.9h28.2v3.3h-28.2zM1062.8 686.9h56.5v3.3h-56.5zM1164.5 686.9h17.0v3.3h-17.0zM1198.3 686.9h11.3v3.3h-11.3zM1226.6 686.9h17.0v3.3h-17.0zM1294.4 686.9h5.7v3.3h-5.7zM1362.2 686.9h56.5v3.3h-56.5zM1441.3 686.9h113.0v3.3h-113.0zM1588.2 686.9h22.6v3.3h-22.6zM294.3 690.2h45.2v3.3h-45.2zM367.8 690.2h50.9v3.3h-50.9zM554.2 690.2h22.6v3.3h-22.6zM610.8 690.2h5.7v3.3h-5.7zM678.5 690.2h5.7v3.3h-5.7zM701.1 690.2h73.5v3.3h-73.5zM1034.5 690.2h11.3v3.3h-11.3zM1085.3 690.2h17.0v3.3h-17.0zM1124.9 690.2h67.8v3.3h-67.8zM1723.8 690.2h5.7v3.3h-5.7zM283.0 693.5h50.9v3.3h-50.9zM413.0 693.5h5.7v3.3h-5.7zM463.9 693.5h17.0v3.3h-17.0zM593.8 693.5h22.6v3.3h-22.6zM678.5 693.5h22.6v3.3h-22.6zM729.4 693.5h28.2v3.3h-28.2zM887.6 693.5h11.3v3.3h-11.3zM915.9 693.5h17.0v3.3h-17.0zM978.0 693.5h22.6v3.3h-22.6zM1006.2 693.5h22.6v3.3h-22.6zM1034.5 693.5h5.7v3.3h-5.7zM1119.2 693.5h101.7v3.3h-101.7zM1266.2 693.5h33.9v3.3h-33.9zM1356.6 693.5h33.9v3.3h-33.9zM1435.7 693.5h17.0v3.3h-17.0zM1548.7 693.5h39.6v3.3h-39.6zM1627.8 693.5h73.5v3.3h-73.5zM1740.8 693.5h5.7v3.3h-5.7zM277.4 696.8h11.3v3.3h-11.3zM328.2 696.8h90.4v3.3h-90.4zM565.5 696.8h22.6v3.3h-22.6zM678.5 696.8h84.8v3.3h-84.8zM870.6 696.8h39.6v3.3h-39.6zM1006.2 696.8h22.6v3.3h-22.6zM1062.8 696.8h146.9v3.3h-146.9zM1271.8 696.8h17.0v3.3h-17.0zM1469.6 696.8h33.9v3.3h-33.9zM1644.7 696.8h28.2v3.3h-28.2zM294.3 700.1h28.2v3.3h-28.2zM373.4 700.1h17.0v3.3h-17.0zM475.1 700.1h5.7v3.3h-5.7zM599.5 700.1h17.0v3.3h-17.0zM774.6 700.1h11.3v3.3h-11.3zM859.4 700.1h39.6v3.3h-39.6zM1034.5 700.1h5.7v3.3h-5.7zM1079.7 700.1h45.2v3.3h-45.2zM1170.1 700.1h11.3v3.3h-11.3zM1198.3 700.1h11.3v3.3h-11.3zM1441.3 700.1h17.0v3.3h-17.0zM1492.2 700.1h39.6v3.3h-39.6zM294.3 703.4h84.8v3.3h-84.8zM463.9 703.4h17.0v3.3h-17.0zM593.8 703.4h5.7v3.3h-5.7zM678.5 703.4h5.7v3.3h-5.7zM746.4 703.4h22.6v3.3h-22.6zM1034.5 703.4h124.3v3.3h-124.3zM1175.8 703.4h28.2v3.3h-28.2zM1215.3 703.4h11.3v3.3h-11.3zM1277.5 703.4h33.9v3.3h-33.9zM1441.3 703.4h67.8v3.3h-67.8zM1576.9 703.4h5.7v3.3h-5.7zM277.4 706.7h17.0v3.3h-17.0zM345.2 706.7h39.6v3.3h-39.6zM452.5 706.7h22.6v3.3h-22.6zM627.7 706.7h56.5v3.3h-56.5zM718.1 706.7h22.6v3.3h-22.6zM1000.6 706.7h28.2v3.3h-28.2zM1034.5 706.7h11.3v3.3h-11.3zM1062.8 706.7h56.5v3.3h-56.5zM1170.1 706.7h33.9v3.3h-33.9zM1209.7 706.7h11.3v3.3h-11.3zM1260.5 706.7h22.6v3.3h-22.6zM1300.1 706.7h17.0v3.3h-17.0zM1469.6 706.7h50.9v3.3h-50.9zM1554.3 706.7h96.1v3.3h-96.1zM1712.5 706.7h17.0v3.3h-17.0zM322.6 710.0h17.0v3.3h-17.0zM452.5 710.0h5.7v3.3h-5.7zM469.5 710.0h11.3v3.3h-11.3zM554.2 710.0h5.7v3.3h-5.7zM610.8 710.0h5.7v3.3h-5.7zM627.7 710.0h17.0v3.3h-17.0zM656.0 710.0h118.7v3.3h-118.7zM831.1 710.0h28.2v3.3h-28.2zM904.6 710.0h5.7v3.3h-5.7zM978.0 710.0h17.0v3.3h-17.0zM1006.2 710.0h22.6v3.3h-22.6zM1034.5 710.0h17.0v3.3h-17.0zM1175.8 710.0h33.9v3.3h-33.9zM1260.5 710.0h28.2v3.3h-28.2zM1492.2 710.0h169.5v3.3h-169.5zM1706.8 710.0h22.6v3.3h-22.6zM1740.8 710.0h5.7v3.3h-5.7zM277.4 713.3h17.0v3.3h-17.0zM367.8 713.3h50.9v3.3h-50.9zM452.5 713.3h11.3v3.3h-11.3zM565.5 713.3h5.7v3.3h-5.7zM593.8 713.3h22.6v3.3h-22.6zM639.0 713.3h33.9v3.3h-33.9zM678.5 713.3h107.4v3.3h-107.4zM1006.2 713.3h11.3v3.3h-11.3zM1034.5 713.3h11.3v3.3h-11.3zM1096.7 713.3h45.2v3.3h-45.2zM1181.4 713.3h28.2v3.3h-28.2zM1362.2 713.3h79.1v3.3h-79.1zM1531.7 713.3h5.7v3.3h-5.7zM1593.8 713.3h135.6v3.3h-135.6zM277.4 716.6h33.9v3.3h-33.9zM384.8 716.6h33.9v3.3h-33.9zM559.9 716.6h11.3v3.3h-11.3zM678.5 716.6h5.7v3.3h-5.7zM831.1 716.6h22.6v3.3h-22.6zM1023.2 716.6h5.7v3.3h-5.7zM1034.5 716.6h11.3v3.3h-11.3zM1057.1 716.6h135.6v3.3h-135.6zM1204.0 716.6h11.3v3.3h-11.3zM1362.2 716.6h39.6v3.3h-39.6zM1441.3 716.6h39.6v3.3h-39.6zM1605.2 716.6h124.3v3.3h-124.3zM277.4 719.9h17.0v3.3h-17.0zM328.2 719.9h67.8v3.3h-67.8zM492.1 719.9h17.0v3.3h-17.0zM599.5 719.9h5.7v3.3h-5.7zM644.6 719.9h11.3v3.3h-11.3zM678.5 719.9h5.7v3.3h-5.7zM752.0 719.9h33.9v3.3h-33.9zM1000.6 719.9h5.7v3.3h-5.7zM1034.5 719.9h11.3v3.3h-11.3zM1062.8 719.9h11.3v3.3h-11.3zM1130.6 719.9h56.5v3.3h-56.5zM1192.7 719.9h22.6v3.3h-22.6zM1232.2 719.9h5.7v3.3h-5.7zM1243.6 719.9h33.9v3.3h-33.9zM1300.1 719.9h22.6v3.3h-22.6zM1373.5 719.9h67.8v3.3h-67.8zM1497.8 719.9h39.6v3.3h-39.6zM1554.3 719.9h56.5v3.3h-56.5zM1644.7 719.9h67.8v3.3h-67.8zM1740.8 719.9h5.7v3.3h-5.7zM294.3 723.2h39.6v3.3h-39.6zM367.8 723.2h50.9v3.3h-50.9zM571.2 723.2h11.3v3.3h-11.3zM616.4 723.2h28.2v3.3h-28.2zM678.5 723.2h5.7v3.3h-5.7zM701.1 723.2h33.9v3.3h-33.9zM769.0 723.2h17.0v3.3h-17.0zM915.9 723.2h17.0v3.3h-17.0zM1000.6 723.2h5.7v3.3h-5.7zM1045.8 723.2h113.0v3.3h-113.0zM1198.3 723.2h5.7v3.3h-5.7zM1209.7 723.2h5.7v3.3h-5.7zM1300.1 723.2h124.3v3.3h-124.3zM1514.8 723.2h39.6v3.3h-39.6zM1639.1 723.2h90.4v3.3h-90.4z"/>
<path fill="#87d8f6" d="M452.5 380.0h62.2v3.3h-62.2zM627.7 380.0h50.9v3.3h-50.9zM684.2 380.0h39.6v3.3h-39.6zM729.4 380.0h22.6v3.3h-22.6zM1040.2 380.0h17.0v3.3h-17.0zM1062.8 380.0h28.2v3.3h-28.2zM1102.3 380.0h22.6v3.3h-22.6zM1209.7 380.0h28.2v3.3h-28.2zM452.5 383.3h62.2v3.3h-62.2zM627.7 383.3h50.9v3.3h-50.9zM684.2 383.3h39.6v3.3h-39.6zM729.4 383.3h22.6v3.3h-22.6zM1040.2 383.3h17.0v3.3h-17.0zM1062.8 383.3h28.2v3.3h-28.2zM1102.3 383.3h22.6v3.3h-22.6zM1209.7 383.3h28.2v3.3h-28.2zM452.5 386.6h62.2v3.3h-62.2zM627.7 386.6h50.9v3.3h-50.9zM684.2 386.6h39.6v3.3h-39.6zM729.4 386.6h22.6v3.3h-22.6zM1040.2 386.6h17.0v3.3h-17.0zM1062.8 386.6h28.2v3.3h-28.2zM1102.3 386.6h22.6v3.3h-22.6zM1209.7 386.6h28.2v3.3h-28.2zM452.5 389.9h62.2v3.3h-62.2zM627.7 389.9h50.9v3.3h-50.9zM684.2 389.9h39.6v3.3h-39.6zM729.4 389.9h22.6v3.3h-22.6zM1040.2 389.9h17.0v3.3h-17.0zM1062.8 389.9h28.2v3.3h-28.2zM1102.3 389.9h22.6v3.3h-22.6zM1209.7 389.9h28.2v3.3h-28.2zM452.5 393.2h62.2v3.3h-62.2zM627.7 393.2h50.9v3.3h-50.9zM684.2 393.2h39.6v3.3h-39.6zM729.4 393.2h22.6v3.3h-22.6zM1040.2 393.2h17.0v3.3h-17.0zM1062.8 393.2h28.2v3.3h-28.2zM1102.3 393.2h22.6v3.3h-22.6zM1209.7 393.2h28.2v3.3h-28.2zM452.5 396.5h62.2v3.3h-62.2zM627.7 396.5h50.9v3.3h-50.9zM684.2 396.5h39.6v3.3h-39.6zM729.4 396.5h22.6v3.3h-22.6zM1040.2 396.5h17.0v3.3h-17.0zM1062.8 396.5h28.2v3.3h-28.2zM1102.3 396.5h22.6v3.3h-22.6zM1209.7 396.5h28.2v3.3h-28.2zM452.5 399.8h62.2v3.3h-62.2zM627.7 399.8h50.9v3.3h-50.9zM684.2 399.8h39.6v3.3h-39.6zM729.4 399.8h22.6v3.3h-22.6zM1040.2 399.8h17.0v3.3h-17.0zM1062.8 399.8h28.2v3.3h-28.2zM1102.3 399.8h22.6v3.3h-22.6zM1209.7 399.8h28.2v3.3h-28.2zM452.5 403.1h62.2v3.3h-62.2zM627.7 403.1h50.9v3.3h-50.9zM684.2 403.1h39.6v3.3h-39.6zM729.4 403.1h22.6v3.3h-22.6zM1040.2 403.1h17.0v3.3h-17.0zM1062.8 403.1h28.2v3.3h-28.2zM1102.3 403.1h22.6v3.3h-22.6zM1209.7 403.1h28.2v3.3h-28.2zM452.5 406.4h45.2v3.3h-45.2zM627.7 406.4h50.9v3.3h-50.9zM684.2 406.4h17.0v3.3h-17.0zM1062.8 406.4h28.2v3.3h-28.2zM1102.3 406.4h22.6v3.3h-22.6zM1209.7 406.4h28.2v3.3h-28.2zM452.5 409.7h62.2v3.3h-62.2zM627.7 409.7h50.9v3.3h-50.9zM684.2 409.7h17.0v3.3h-17.0zM1062.8 409.7h22.6v3.3h-22.6zM1209.7 409.7h28.2v3.3h-28.2zM469.5 413.0h45.2v3.3h-45.2zM627.7 413.0h50.9v3.3h-50.9zM684.2 413.0h17.0v3.3h-17.0zM1040.2 413.0h17.0v3.3h-17.0zM1079.7 413.0h11.3v3.3h-11.3zM1102.3 413.0h22.6v3.3h-22.6zM1209.7 413.0h28.2v3.3h-28.2zM452.5 416.3h62.2v3.3h-62.2zM627.7 416.3h50.9v3.3h-50.9zM684.2 416.3h17.0v3.3h-17.0zM774.6 416.3h22.6v3.3h-22.6zM1040.2 416.3h17.0v3.3h-17.0zM1062.8 416.3h28.2v3.3h-28.2zM1102.3 416.3h22.6v3.3h-22.6zM1209.7 416.3h28.2v3.3h-28.2zM1639.1 416.3h79.1v3.3h-79.1zM627.7 419.6h50.9v3.3h-50.9zM684.2 419.6h17.0v3.3h-17.0zM774.6 419.6h22.6v3.3h-22.6zM1040.2 419.6h17.0v3.3h-17.0zM1062.8 419.6h28.2v3.3h-28.2zM1102.3 419.6h22.6v3.3h-22.6zM1209.7 419.6h28.2v3.3h-28.2zM452.5 422.9h62.2v3.3h-62.2zM627.7 422.9h50.9v3.3h-50.9zM684.2 422.9h17.0v3.3h-17.0zM785.9 422.9h11.3v3.3h-11.3zM1006.2 422.9h50.9v3.3h-50.9zM1062.8 422.9h28.2v3.3h-28.2zM1102.3 422.9h22.6v3.3h-22.6zM1209.7 422.9h28.2v3.3h-28.2zM1673.0 422.9h73.5v3.3h-73.5zM452.5 426.2h62.2v3.3h-62.2zM627.7 426.2h50.9v3.3h-50.9zM684.2 426.2h17.0v3.3h-17.0zM1017.6 426.2h11.3v3.3h-11.3zM1040.2 426.2h17.0v3.3h-17.0zM1062.8 426.2h28.2v3.3h-28.2zM1102.3 426.2h22.6v3.3h-22.6zM1209.7 426.2h28.2v3.3h-28.2zM452.5 429.5h62.2v3.3h-62.2zM644.6 429.5h33.9v3.3h-33.9zM729.4 429.5h5.7v3.3h-5.7zM1006.2 429.5h39.6v3.3h-39.6zM452.5 432.8h62.2v3.3h-62.2zM627.7 432.8h50.9v3.3h-50.9zM684.2 432.8h56.5v3.3h-56.5zM752.0 432.8h28.2v3.3h-28.2zM1040.2 432.8h17.0v3.3h-17.0zM1062.8 432.8h28.2v3.3h-28.2zM1102.3 432.8h22.6v3.3h-22.6zM1209.7 432.8h28.2v3.3h-28.2zM452.5 436.1h62.2v3.3h-62.2zM627.7 436.1h50.9v3.3h-50.9zM684.2 436.1h50.9v3.3h-50.9zM1040.2 436.1h17.0v3.3h-17.0zM1062.8 436.1h28.2v3.3h-28.2zM1102.3 436.1h22.6v3.3h-22.6zM1209.7 436.1h28.2v3.3h-28.2zM452.5 439.4h62.2v3.3h-62.2zM627.7 439.4h50.9v3.3h-50.9zM684.2 439.4h17.0v3.3h-17.0zM735.0 439.4h17.0v3.3h-17.0zM1040.2 439.4h17.0v3.3h-17.0zM1062.8 439.4h28.2v3.3h-28.2zM1102.3 439.4h22.6v3.3h-22.6zM1209.7 439.4h28.2v3.3h-28.2zM469.5 442.7h45.2v3.3h-45.2zM627.7 442.7h50.9v3.3h-50.9zM684.2 442.7h17.0v3.3h-17.0zM712.5 442.7h33.9v3.3h-33.9zM752.0 442.7h45.2v3.3h-45.2zM1028.8 442.7h28.2v3.3h-28.2zM1062.8 442.7h28.2v3.3h-28.2zM1102.3 442.7h22.6v3.3h-22.6zM1209.7 442.7h28.2v3.3h-28.2zM452.5 446.0h62.2v3.3h-62.2zM627.7 446.0h50.9v3.3h-50.9zM684.2 446.0h17.0v3.3h-17.0zM785.9 446.0h11.3v3.3h-11.3zM1028.8 446.0h28.2v3.3h-28.2zM1062.8 446.0h28.2v3.3h-28.2zM1102.3 446.0h22.6v3.3h-22.6zM1209.7 446.0h28.2v3.3h-28.2zM1678.6 446.0h22.6v3.3h-22.6zM452.5 449.3h62.2v3.3h-62.2zM627.7 449.3h50.9v3.3h-50.9zM684.2 449.3h17.0v3.3h-17.0zM718.1 449.3h17.0v3.3h-17.0zM769.0 449.3h28.2v3.3h-28.2zM1028.8 449.3h28.2v3.3h-28.2zM1062.8 449.3h28.2v3.3h-28.2zM1102.3 449.3h22.6v3.3h-22.6zM1198.3 449.3h39.6v3.3h-39.6zM1537.3 449.3h67.8v3.3h-67.8zM452.5 452.6h62.2v3.3h-62.2zM627.7 452.6h50.9v3.3h-50.9zM684.2 452.6h113.0v3.3h-113.0zM1028.8 452.6h28.2v3.3h-28.2zM1062.8 452.6h28.2v3.3h-28.2zM1102.3 452.6h22.6v3.3h-22.6zM1198.3 452.6h39.6v3.3h-39.6zM452.5 455.9h62.2v3.3h-62.2zM627.7 455.9h50.9v3.3h-50.9zM684.2 455.9h17.0v3.3h-17.0zM763.3 455.9h33.9v3.3h-33.9zM1006.2 455.9h17.0v3.3h-17.0zM1028.8 455.9h28.2v3.3h-28.2zM1062.8 455.9h28.2v3.3h-28.2zM1102.3 455.9h22.6v3.3h-22.6zM1198.3 455.9h39.6v3.3h-39.6zM452.5 459.2h62.2v3.3h-62.2zM627.7 459.2h50.9v3.3h-50.9zM684.2 459.2h17.0v3.3h-17.0zM740.7 459.2h11.3v3.3h-11.3zM785.9 459.2h11.3v3.3h-11.3zM1028.8 459.2h28.2v3.3h-28.2zM1062.8 459.2h28.2v3.3h-28.2zM1102.3 459.2h22.6v3.3h-22.6zM1198.3 459.2h39.6v3.3h-39.6zM452.5 462.5h62.2v3.3h-62.2zM627.7 462.5h50.9v3.3h-50.9zM684.2 462.5h39.6v3.3h-39.6zM746.4 462.5h50.9v3.3h-50.9zM1028.8 462.5h28.2v3.3h-28.2zM1062.8 462.5h28.2v3.3h-28.2zM1102.3 462.5h22.6v3.3h-22.6zM1198.3 462.5h39.6v3.3h-39.6zM452.5 465.8h62.2v3.3h-62.2zM627.7 465.8h50.9v3.3h-50.9zM684.2 465.8h50.9v3.3h-50.9zM763.3 465.8h33.9v3.3h-33.9zM1017.6 465.8h39.6v3.3h-39.6zM1062.8 465.8h28.2v3.3h-28.2zM1102.3 465.8h22.6v3.3h-22.6zM1198.3 465.8h39.6v3.3h-39.6zM339.5 469.1h11.3v3.3h-11.3zM396.0 469.1h22.6v3.3h-22.6zM424.3 469.1h22.6v3.3h-22.6zM452.5 469.1h62.2v3.3h-62.2zM627.7 469.1h84.8v3.3h-84.8zM769.0 469.1h28.2v3.3h-28.2zM876.3 469.1h22.6v3.3h-22.6zM1028.8 469.1h28.2v3.3h-28.2zM1062.8 469.1h28.2v3.3h-28.2zM1102.3 469.1h22.6v3.3h-22.6zM1198.3 469.1h39.6v3.3h-39.6zM339.5 472.4h79.1v3.3h-79.1zM424.3 472.4h90.4v3.3h-90.4zM627.7 472.4h28.2v3.3h-28.2zM684.2 472.4h39.6v3.3h-39.6zM774.6 472.4h22.6v3.3h-22.6zM1040.2 472.4h45.2v3.3h-45.2zM1198.3 472.4h39.6v3.3h-39.6zM1599.5 472.4h22.6v3.3h-22.6zM311.3 475.7h28.2v3.3h-28.2zM452.5 475.7h62.2v3.3h-62.2zM627.7 475.7h73.5v3.3h-73.5zM1034.5 475.7h5.7v3.3h-5.7zM1198.3 475.7h39.6v3.3h-39.6zM1548.7 475.7h39.6v3.3h-39.6zM1599.5 475.7h22.6v3.3h-22.6zM452.5 479.0h62.2v3.3h-62.2zM650.3 479.0h50.9v3.3h-50.9zM785.9 479.0h11.3v3.3h-11.3zM1006.2 479.0h79.1v3.3h-79.1zM1198.3 479.0h39.6v3.3h-39.6zM1667.3 479.0h62.2v3.3h-62.2zM277.4 482.3h11.3v3.3h-11.3zM350.8 482.3h62.2v3.3h-62.2zM452.5 482.3h62.2v3.3h-62.2zM627.7 482.3h22.6v3.3h-22.6zM661.6 482.3h28.2v3.3h-28.2zM723.8 482.3h56.5v3.3h-56.5zM785.9 482.3h11.3v3.3h-11.3zM1040.2 482.3h28.2v3.3h-28.2zM1085.3 482.3h17.0v3.3h-17.0zM1198.3 482.3h39.6v3.3h-39.6zM1526.1 482.3h33.9v3.3h-33.9zM1599.5 482.3h17.0v3.3h-17.0zM300.0 485.6h11.3v3.3h-11.3zM322.6 485.6h11.3v3.3h-11.3zM452.5 485.6h62.2v3.3h-62.2zM627.7 485.6h124.3v3.3h-124.3zM769.0 485.6h28.2v3.3h-28.2zM1091.0 485.6h45.2v3.3h-45.2zM1198.3 485.6h39.6v3.3h-39.6zM1526.1 485.6h39.6v3.3h-39.6zM1588.2 485.6h33.9v3.3h-33.9zM452.5 488.9h62.2v3.3h-62.2zM627.7 488.9h90.4v3.3h-90.4zM763.3 488.9h33.9v3.3h-33.9zM1040.2 488.9h28.2v3.3h-28.2zM1198.3 488.9h39.6v3.3h-39.6zM1548.7 488.9h50.9v3.3h-50.9zM452.5 492.2h62.2v3.3h-62.2zM627.7 492.2h73.5v3.3h-73.5zM752.0 492.2h11.3v3.3h-11.3zM774.6 492.2h22.6v3.3h-22.6zM1113.6 492.2h22.6v3.3h-22.6zM1198.3 492.2h39.6v3.3h-39.6zM277.4 495.5h22.6v3.3h-22.6zM356.5 495.5h17.0v3.3h-17.0zM452.5 495.5h62.2v3.3h-62.2zM627.7 495.5h33.9v3.3h-33.9zM695.5 495.5h5.7v3.3h-5.7zM729.4 495.5h67.8v3.3h-67.8zM1040.2 495.5h50.9v3.3h-50.9zM1198.3 495.5h39.6v3.3h-39.6zM277.4 498.8h11.3v3.3h-11.3zM452.5 498.8h62.2v3.3h-62.2zM627.7 498.8h33.9v3.3h-33.9zM678.5 498.8h11.3v3.3h-11.3zM701.1 498.8h96.1v3.3h-96.1zM1057.1 498.8h11.3v3.3h-11.3zM1198.3 498.8h39.6v3.3h-39.6zM452.5 502.1h62.2v3.3h-62.2zM695.5 502.1h11.3v3.3h-11.3zM1074.1 502.1h11.3v3.3h-11.3zM1124.9 502.1h11.3v3.3h-11.3zM1198.3 502.1h39.6v3.3h-39.6zM452.5 505.4h62.2v3.3h-62.2zM627.7 505.4h50.9v3.3h-50.9zM729.4 505.4h11.3v3.3h-11.3zM752.0 505.4h45.2v3.3h-45.2zM1006.2 505.4h28.2v3.3h-28.2zM1198.3 505.4h39.6v3.3h-39.6zM452.5 508.7h62.2v3.3h-62.2zM627.7 508.7h67.8v3.3h-67.8zM785.9 508.7h11.3v3.3h-11.3zM1006.2 508.7h28.2v3.3h-28.2zM1198.3 508.7h39.6v3.3h-39.6zM328.2 512.0h33.9v3.3h-33.9zM452.5 512.0h62.2v3.3h-62.2zM650.3 512.0h39.6v3.3h-39.6zM712.5 512.0h5.7v3.3h-5.7zM785.9 512.0h45.2v3.3h-45.2zM882.0 512.0h118.7v3.3h-118.7zM1198.3 512.0h39.6v3.3h-39.6zM277.4 515.3h84.8v3.3h-84.8zM452.5 515.3h62.2v3.3h-62.2zM650.3 515.3h5.7v3.3h-5.7zM701.1 515.3h17.0v3.3h-17.0zM785.9 515.3h45.2v3.3h-45.2zM882.0 515.3h118.7v3.3h-118.7zM1198.3 515.3h39.6v3.3h-39.6zM333.9 518.6h45.2v3.3h-45.2zM396.0 518.6h17.0v3.3h-17.0zM452.5 518.6h62.2v3.3h-62.2zM627.7 518.6h73.5v3.3h-73.5zM729.4 518.6h22.6v3.3h-22.6zM785.9 518.6h11.3v3.3h-11.3zM1079.7 518.6h17.0v3.3h-17.0zM1198.3 518.6h39.6v3.3h-39.6zM333.9 521.9h56.5v3.3h-56.5zM452.5 521.9h62.2v3.3h-62.2zM639.0 521.9h45.2v3.3h-45.2zM735.0 521.9h17.0v3.3h-17.0zM780.2 521.9h17.0v3.3h-17.0zM1198.3 521.9h39.6v3.3h-39.6zM350.8 525.2h45.2v3.3h-45.2zM424.3 525.2h17.0v3.3h-17.0zM452.5 525.2h62.2v3.3h-62.2zM627.7 525.2h73.5v3.3h-73.5zM718.1 525.2h79.1v3.3h-79.1zM1198.3 525.2h39.6v3.3h-39.6zM322.6 528.5h22.6v3.3h-22.6zM401.7 528.5h45.2v3.3h-45.2zM452.5 528.5h62.2v3.3h-62.2zM627.7 528.5h73.5v3.3h-73.5zM735.0 528.5h17.0v3.3h-17.0zM780.2 528.5h17.0v3.3h-17.0zM1198.3 528.5h39.6v3.3h-39.6zM316.9 531.8h45.2v3.3h-45.2zM452.5 531.8h62.2v3.3h-62.2zM639.0 531.8h22.6v3.3h-22.6zM672.9 531.8h28.2v3.3h-28.2zM712.5 531.8h50.9v3.3h-50.9zM774.6 531.8h22.6v3.3h-22.6zM1006.2 531.8h17.0v3.3h-17.0zM1062.8 531.8h28.2v3.3h-28.2zM1198.3 531.8h39.6v3.3h-39.6zM452.5 535.1h56.5v3.3h-56.5zM616.4 535.1h11.3v3.3h-11.3zM661.6 535.1h22.6v3.3h-22.6zM701.1 535.1h11.3v3.3h-11.3zM729.4 535.1h62.2v3.3h-62.2zM808.5 535.1h11.3v3.3h-11.3zM1040.2 535.1h5.7v3.3h-5.7zM1096.7 535.1h11.3v3.3h-11.3zM1209.7 535.1h50.9v3.3h-50.9zM1571.2 535.1h62.2v3.3h-62.2zM413.0 538.4h5.7v3.3h-5.7zM452.5 538.4h45.2v3.3h-45.2zM616.4 538.4h39.6v3.3h-39.6zM661.6 538.4h17.0v3.3h-17.0zM684.2 538.4h11.3v3.3h-11.3zM701.1 538.4h22.6v3.3h-22.6zM752.0 538.4h39.6v3.3h-39.6zM893.2 538.4h17.0v3.3h-17.0zM978.0 538.4h28.2v3.3h-28.2zM1192.7 538.4h11.3v3.3h-11.3zM1209.7 538.4h17.0v3.3h-17.0zM1237.9 538.4h5.7v3.3h-5.7zM1260.5 538.4h11.3v3.3h-11.3zM1317.0 538.4h56.5v3.3h-56.5zM1430.0 538.4h28.2v3.3h-28.2zM1576.9 538.4h45.2v3.3h-45.2zM311.3 541.7h33.9v3.3h-33.9zM373.4 541.7h45.2v3.3h-45.2zM452.5 541.7h56.5v3.3h-56.5zM616.4 541.7h62.2v3.3h-62.2zM684.2 541.7h17.0v3.3h-17.0zM712.5 541.7h11.3v3.3h-11.3zM735.0 541.7h50.9v3.3h-50.9zM1057.1 541.7h5.7v3.3h-5.7zM1119.2 541.7h45.2v3.3h-45.2zM1192.7 541.7h11.3v3.3h-11.3zM1209.7 541.7h67.8v3.3h-67.8zM1294.4 541.7h5.7v3.3h-5.7zM277.4 545.0h17.0v3.3h-17.0zM452.5 545.0h11.3v3.3h-11.3zM469.5 545.0h33.9v3.3h-33.9zM616.4 545.0h62.2v3.3h-62.2zM695.5 545.0h5.7v3.3h-5.7zM729.4 545.0h67.8v3.3h-67.8zM831.1 545.0h39.6v3.3h-39.6zM1215.3 545.0h84.8v3.3h-84.8zM390.4 548.3h28.2v3.3h-28.2zM441.2 548.3h28.2v3.3h-28.2zM475.1 548.3h33.9v3.3h-33.9zM616.4 548.3h62.2v3.3h-62.2zM684.2 548.3h101.7v3.3h-101.7zM932.8 548.3h45.2v3.3h-45.2zM1192.7 548.3h5.7v3.3h-5.7zM1221.0 548.3h22.6v3.3h-22.6zM1260.5 548.3h39.6v3.3h-39.6zM1373.5 548.3h56.5v3.3h-56.5zM277.4 551.6h17.0v3.3h-17.0zM441.2 551.6h5.7v3.3h-5.7zM469.5 551.6h5.7v3.3h-5.7zM480.8 551.6h28.2v3.3h-28.2zM616.4 551.6h62.2v3.3h-62.2zM684.2 551.6h17.0v3.3h-17.0zM752.0 551.6h33.9v3.3h-33.9zM972.4 551.6h28.2v3.3h-28.2zM1034.5 551.6h22.6v3.3h-22.6zM1153.2 551.6h39.6v3.3h-39.6zM1209.7 551.6h5.7v3.3h-5.7zM1599.5 551.6h17.0v3.3h-17.0zM1706.8 551.6h22.6v3.3h-22.6zM277.4 554.9h5.7v3.3h-5.7zM350.8 554.9h39.6v3.3h-39.6zM401.7 554.9h17.0v3.3h-17.0zM446.9 554.9h17.0v3.3h-17.0zM475.1 554.9h17.0v3.3h-17.0zM616.4 554.9h62.2v3.3h-62.2zM684.2 554.9h73.5v3.3h-73.5zM785.9 554.9h11.3v3.3h-11.3zM1017.6 554.9h11.3v3.3h-11.3zM1204.0 554.9h56.5v3.3h-56.5zM1277.5 554.9h22.6v3.3h-22.6zM1345.2 554.9h50.9v3.3h-50.9zM1469.6 554.9h39.6v3.3h-39.6zM322.6 558.2h11.3v3.3h-11.3zM401.7 558.2h17.0v3.3h-17.0zM441.2 558.2h67.8v3.3h-67.8zM616.4 558.2h33.9v3.3h-33.9zM684.2 558.2h17.0v3.3h-17.0zM735.0 558.2h17.0v3.3h-17.0zM791.5 558.2h5.7v3.3h-5.7zM1034.5 558.2h11.3v3.3h-11.3zM1124.9 558.2h56.5v3.3h-56.5zM1192.7 558.2h11.3v3.3h-11.3zM1209.7 558.2h17.0v3.3h-17.0zM1588.2 558.2h45.2v3.3h-45.2zM452.5 561.5h11.3v3.3h-11.3zM475.1 561.5h33.9v3.3h-33.9zM616.4 561.5h11.3v3.3h-11.3zM661.6 561.5h5.7v3.3h-5.7zM672.9 561.5h5.7v3.3h-5.7zM689.9 561.5h11.3v3.3h-11.3zM785.9 561.5h11.3v3.3h-11.3zM1006.2 561.5h22.6v3.3h-22.6zM1034.5 561.5h11.3v3.3h-11.3zM1141.8 561.5h39.6v3.3h-39.6zM1198.3 561.5h11.3v3.3h-11.3zM367.8 564.8h50.9v3.3h-50.9zM441.2 564.8h17.0v3.3h-17.0zM475.1 564.8h33.9v3.3h-33.9zM616.4 564.8h11.3v3.3h-11.3zM650.3 564.8h28.2v3.3h-28.2zM684.2 564.8h67.8v3.3h-67.8zM1209.7 564.8h11.3v3.3h-11.3zM1271.8 564.8h11.3v3.3h-11.3zM1345.2 564.8h22.6v3.3h-22.6zM1509.1 564.8h11.3v3.3h-11.3zM1554.3 564.8h84.8v3.3h-84.8zM452.5 568.1h5.7v3.3h-5.7zM469.5 568.1h39.6v3.3h-39.6zM616.4 568.1h17.0v3.3h-17.0zM639.0 568.1h17.0v3.3h-17.0zM684.2 568.1h39.6v3.3h-39.6zM746.4 568.1h17.0v3.3h-17.0zM780.2 568.1h17.0v3.3h-17.0zM1192.7 568.1h17.0v3.3h-17.0zM1237.9 568.1h5.7v3.3h-5.7zM1283.1 568.1h50.9v3.3h-50.9zM1554.3 568.1h84.8v3.3h-84.8zM294.3 571.4h67.8v3.3h-67.8zM475.1 571.4h33.9v3.3h-33.9zM616.4 571.4h33.9v3.3h-33.9zM729.4 571.4h17.0v3.3h-17.0zM1034.5 571.4h11.3v3.3h-11.3zM1141.8 571.4h22.6v3.3h-22.6zM1209.7 571.4h11.3v3.3h-11.3zM1311.3 571.4h28.2v3.3h-28.2zM294.3 574.7h107.4v3.3h-107.4zM452.5 574.7h50.9v3.3h-50.9zM616.4 574.7h28.2v3.3h-28.2zM661.6 574.7h11.3v3.3h-11.3zM678.5 574.7h22.6v3.3h-22.6zM735.0 574.7h11.3v3.3h-11.3zM757.7 574.7h28.2v3.3h-28.2zM915.9 574.7h17.0v3.3h-17.0zM1215.3 574.7h28.2v3.3h-28.2zM1266.2 574.7h22.6v3.3h-22.6zM1367.8 574.7h62.2v3.3h-62.2zM373.4 578.0h28.2v3.3h-28.2zM452.5 578.0h17.0v3.3h-17.0zM475.1 578.0h33.9v3.3h-33.9zM616.4 578.0h62.2v3.3h-62.2zM735.0 578.0h50.9v3.3h-50.9zM831.1 578.0h33.9v3.3h-33.9zM995.0 578.0h11.3v3.3h-11.3zM1034.5 578.0h11.3v3.3h-11.3zM1192.7 578.0h50.9v3.3h-50.9zM1537.3 578.0h39.6v3.3h-39.6zM1695.6 578.0h11.3v3.3h-11.3zM396.0 581.3h22.6v3.3h-22.6zM469.5 581.3h39.6v3.3h-39.6zM616.4 581.3h146.9v3.3h-146.9zM785.9 581.3h11.3v3.3h-11.3zM1006.2 581.3h22.6v3.3h-22.6zM1045.8 581.3h11.3v3.3h-11.3zM1209.7 581.3h5.7v3.3h-5.7zM1226.6 581.3h17.0v3.3h-17.0zM1350.9 581.3h17.0v3.3h-17.0zM1452.6 581.3h45.2v3.3h-45.2zM1543.0 581.3h22.6v3.3h-22.6zM350.8 584.6h67.8v3.3h-67.8zM452.5 584.6h11.3v3.3h-11.3zM475.1 584.6h33.9v3.3h-33.9zM616.4 584.6h22.6v3.3h-22.6zM667.2 584.6h11.3v3.3h-11.3zM684.2 584.6h33.9v3.3h-33.9zM735.0 584.6h22.6v3.3h-22.6zM955.4 584.6h45.2v3.3h-45.2zM1192.7 584.6h5.7v3.3h-5.7zM1209.7 584.6h33.9v3.3h-33.9zM1441.3 584.6h62.2v3.3h-62.2zM294.3 587.9h101.7v3.3h-101.7zM452.5 587.9h56.5v3.3h-56.5zM616.4 587.9h62.2v3.3h-62.2zM684.2 587.9h17.0v3.3h-17.0zM774.6 587.9h11.3v3.3h-11.3zM791.5 587.9h5.7v3.3h-5.7zM1034.5 587.9h11.3v3.3h-11.3zM1108.0 587.9h17.0v3.3h-17.0zM1192.7 587.9h11.3v3.3h-11.3zM1209.7 587.9h50.9v3.3h-50.9zM1288.8 587.9h11.3v3.3h-11.3zM1441.3 587.9h39.6v3.3h-39.6zM345.2 591.2h56.5v3.3h-56.5zM469.5 591.2h39.6v3.3h-39.6zM616.4 591.2h33.9v3.3h-33.9zM718.1 591.2h11.3v3.3h-11.3zM774.6 591.2h11.3v3.3h-11.3zM1034.5 591.2h11.3v3.3h-11.3zM1198.3 591.2h33.9v3.3h-33.9zM1469.6 591.2h45.2v3.3h-45.2zM1627.8 591.2h28.2v3.3h-28.2zM339.5 594.5h22.6v3.3h-22.6zM463.9 594.5h28.2v3.3h-28.2zM616.4 594.5h45.2v3.3h-45.2zM678.5 594.5h22.6v3.3h-22.6zM791.5 594.5h5.7v3.3h-5.7zM995.0 594.5h11.3v3.3h-11.3zM1051.5 594.5h11.3v3.3h-11.3zM1181.4 594.5h62.2v3.3h-62.2zM1260.5 594.5h28.2v3.3h-28.2zM1639.1 594.5h50.9v3.3h-50.9zM294.3 597.8h56.5v3.3h-56.5zM452.5 597.8h33.9v3.3h-33.9zM492.1 597.8h17.0v3.3h-17.0zM616.4 597.8h96.1v3.3h-96.1zM735.0 597.8h22.6v3.3h-22.6zM1023.2 597.8h5.7v3.3h-5.7zM1045.8 597.8h17.0v3.3h-17.0zM1096.7 597.8h28.2v3.3h-28.2zM1209.7 597.8h33.9v3.3h-33.9zM1571.2 597.8h17.0v3.3h-17.0zM328.2 601.1h56.5v3.3h-56.5zM452.5 601.1h5.7v3.3h-5.7zM475.1 601.1h33.9v3.3h-33.9zM616.4 601.1h62.2v3.3h-62.2zM684.2 601.1h50.9v3.3h-50.9zM746.4 601.1h28.2v3.3h-28.2zM785.9 601.1h11.3v3.3h-11.3zM819.8 601.1h5.7v3.3h-5.7zM966.7 601.1h28.2v3.3h-28.2zM1006.2 601.1h22.6v3.3h-22.6zM1040.2 601.1h5.7v3.3h-5.7zM1062.8 601.1h39.6v3.3h-39.6zM1130.6 601.1h56.5v3.3h-56.5zM1192.7 601.1h5.7v3.3h-5.7zM1209.7 601.1h33.9v3.3h-33.9zM1599.5 601.1h17.0v3.3h-17.0zM277.4 604.4h11.3v3.3h-11.3zM294.3 604.4h56.5v3.3h-56.5zM452.5 604.4h56.5v3.3h-56.5zM616.4 604.4h118.7v3.3h-118.7zM769.0 604.4h17.0v3.3h-17.0zM791.5 604.4h5.7v3.3h-5.7zM1006.2 604.4h22.6v3.3h-22.6zM1034.5 604.4h22.6v3.3h-22.6zM1192.7 604.4h5.7v3.3h-5.7zM1226.6 604.4h17.0v3.3h-17.0zM1260.5 604.4h5.7v3.3h-5.7zM1441.3 604.4h33.9v3.3h-33.9zM1537.3 604.4h79.1v3.3h-79.1zM305.6 607.7h17.0v3.3h-17.0zM333.9 607.7h84.8v3.3h-84.8zM452.5 607.7h11.3v3.3h-11.3zM492.1 607.7h17.0v3.3h-17.0zM639.0 607.7h22.6v3.3h-22.6zM701.1 607.7h79.1v3.3h-79.1zM814.1 607.7h11.3v3.3h-11.3zM1034.5 607.7h11.3v3.3h-11.3zM1164.5 607.7h22.6v3.3h-22.6zM1209.7 607.7h79.1v3.3h-79.1zM1294.4 607.7h5.7v3.3h-5.7zM1667.3 607.7h11.3v3.3h-11.3zM345.2 611.0h11.3v3.3h-11.3zM407.4 611.0h11.3v3.3h-11.3zM452.5 611.0h5.7v3.3h-5.7zM475.1 611.0h33.9v3.3h-33.9zM616.4 611.0h33.9v3.3h-33.9zM672.9 611.0h5.7v3.3h-5.7zM729.4 611.0h22.6v3.3h-22.6zM763.3 611.0h22.6v3.3h-22.6zM808.5 611.0h5.7v3.3h-5.7zM1209.7 611.0h33.9v3.3h-33.9zM1509.1 611.0h67.8v3.3h-67.8zM1667.3 611.0h17.0v3.3h-17.0zM1712.5 611.0h17.0v3.3h-17.0zM350.8 614.3h67.8v3.3h-67.8zM497.8 614.3h11.3v3.3h-11.3zM616.4 614.3h62.2v3.3h-62.2zM746.4 614.3h50.9v3.3h-50.9zM1040.2 614.3h5.7v3.3h-5.7zM1062.8 614.3h39.6v3.3h-39.6zM1192.7 614.3h17.0v3.3h-17.0zM1560.0 614.3h67.8v3.3h-67.8zM1650.3 614.3h62.2v3.3h-62.2zM294.3 617.6h22.6v3.3h-22.6zM452.5 617.6h39.6v3.3h-39.6zM616.4 617.6h62.2v3.3h-62.2zM684.2 617.6h17.0v3.3h-17.0zM757.7 617.6h22.6v3.3h-22.6zM785.9 617.6h11.3v3.3h-11.3zM1034.5 617.6h11.3v3.3h-11.3zM1237.9 617.6h5.7v3.3h-5.7zM1260.5 617.6h28.2v3.3h-28.2zM1560.0 617.6h39.6v3.3h-39.6zM277.4 620.9h5.7v3.3h-5.7zM345.2 620.9h50.9v3.3h-50.9zM452.5 620.9h56.5v3.3h-56.5zM785.9 620.9h11.3v3.3h-11.3zM1006.2 620.9h11.3v3.3h-11.3zM1045.8 620.9h5.7v3.3h-5.7zM1209.7 620.9h33.9v3.3h-33.9zM1260.5 620.9h5.7v3.3h-5.7zM1463.9 620.9h62.2v3.3h-62.2zM1565.6 620.9h22.6v3.3h-22.6zM401.7 624.2h11.3v3.3h-11.3zM475.1 624.2h39.6v3.3h-39.6zM520.4 624.2h5.7v3.3h-5.7zM616.4 624.2h50.9v3.3h-50.9zM684.2 624.2h17.0v3.3h-17.0zM1006.2 624.2h22.6v3.3h-22.6zM1192.7 624.2h5.7v3.3h-5.7zM1209.7 624.2h28.2v3.3h-28.2zM1260.5 624.2h28.2v3.3h-28.2zM288.7 627.5h17.0v3.3h-17.0zM475.1 627.5h17.0v3.3h-17.0zM497.8 627.5h17.0v3.3h-17.0zM633.4 627.5h45.2v3.3h-45.2zM684.2 627.5h5.7v3.3h-5.7zM701.1 627.5h28.2v3.3h-28.2zM774.6 627.5h11.3v3.3h-11.3zM1034.5 627.5h5.7v3.3h-5.7zM1045.8 627.5h17.0v3.3h-17.0zM1119.2 627.5h90.4v3.3h-90.4zM1237.9 627.5h22.6v3.3h-22.6zM1283.1 627.5h17.0v3.3h-17.0zM452.5 630.8h17.0v3.3h-17.0zM475.1 630.8h33.9v3.3h-33.9zM616.4 630.8h33.9v3.3h-33.9zM661.6 630.8h33.9v3.3h-33.9zM718.1 630.8h22.6v3.3h-22.6zM785.9 630.8h5.7v3.3h-5.7zM1187.1 630.8h45.2v3.3h-45.2zM1610.8 630.8h33.9v3.3h-33.9zM283.0 634.1h5.7v3.3h-5.7zM311.3 634.1h11.3v3.3h-11.3zM452.5 634.1h45.2v3.3h-45.2zM622.0 634.1h11.3v3.3h-11.3zM667.2 634.1h33.9v3.3h-33.9zM718.1 634.1h17.0v3.3h-17.0zM785.9 634.1h5.7v3.3h-5.7zM808.5 634.1h11.3v3.3h-11.3zM1034.5 634.1h17.0v3.3h-17.0zM1062.8 634.1h11.3v3.3h-11.3zM1192.7 634.1h11.3v3.3h-11.3zM1209.7 634.1h5.7v3.3h-5.7zM1232.2 634.1h11.3v3.3h-11.3zM1667.3 634.1h39.6v3.3h-39.6zM452.5 637.4h11.3v3.3h-11.3zM475.1 637.4h33.9v3.3h-33.9zM616.4 637.4h62.2v3.3h-62.2zM684.2 637.4h17.0v3.3h-17.0zM712.5 637.4h17.0v3.3h-17.0zM746.4 637.4h11.3v3.3h-11.3zM791.5 637.4h5.7v3.3h-5.7zM915.9 637.4h17.0v3.3h-17.0zM1034.5 637.4h11.3v3.3h-11.3zM1164.5 637.4h28.2v3.3h-28.2zM1209.7 637.4h50.9v3.3h-50.9zM1463.9 637.4h56.5v3.3h-56.5zM1599.5 637.4h33.9v3.3h-33.9zM458.2 640.7h5.7v3.3h-5.7zM469.5 640.7h39.6v3.3h-39.6zM616.4 640.7h62.2v3.3h-62.2zM684.2 640.7h84.8v3.3h-84.8zM785.9 640.7h5.7v3.3h-5.7zM915.9 640.7h17.0v3.3h-17.0zM949.8 640.7h33.9v3.3h-33.9zM1006.2 640.7h22.6v3.3h-22.6zM1034.5 640.7h11.3v3.3h-11.3zM1062.8 640.7h28.2v3.3h-28.2zM1192.7 640.7h11.3v3.3h-11.3zM1221.0 640.7h22.6v3.3h-22.6zM1266.2 640.7h33.9v3.3h-33.9zM1373.5 640.7h22.6v3.3h-22.6zM1463.9 640.7h56.5v3.3h-56.5zM356.5 644.0h22.6v3.3h-22.6zM458.2 644.0h50.9v3.3h-50.9zM616.4 644.0h17.0v3.3h-17.0zM656.0 644.0h22.6v3.3h-22.6zM701.1 644.0h62.2v3.3h-62.2zM780.2 644.0h5.7v3.3h-5.7zM1034.5 644.0h5.7v3.3h-5.7zM1158.8 644.0h79.1v3.3h-79.1zM1288.8 644.0h11.3v3.3h-11.3zM1497.8 644.0h39.6v3.3h-39.6zM1593.8 644.0h39.6v3.3h-39.6zM384.8 647.3h33.9v3.3h-33.9zM452.5 647.3h67.8v3.3h-67.8zM616.4 647.3h84.8v3.3h-84.8zM1006.2 647.3h17.0v3.3h-17.0zM1034.5 647.3h11.3v3.3h-11.3zM1209.7 647.3h5.7v3.3h-5.7zM1226.6 647.3h5.7v3.3h-5.7zM1288.8 647.3h11.3v3.3h-11.3zM1311.3 647.3h67.8v3.3h-67.8zM1435.7 647.3h45.2v3.3h-45.2zM1492.2 647.3h17.0v3.3h-17.0zM1537.3 647.3h33.9v3.3h-33.9zM1639.1 647.3h28.2v3.3h-28.2zM475.1 650.6h45.2v3.3h-45.2zM616.4 650.6h107.4v3.3h-107.4zM740.7 650.6h28.2v3.3h-28.2zM791.5 650.6h5.7v3.3h-5.7zM955.4 650.6h11.3v3.3h-11.3zM1034.5 650.6h28.2v3.3h-28.2zM1170.1 650.6h22.6v3.3h-22.6zM1198.3 650.6h45.2v3.3h-45.2zM362.1 653.9h11.3v3.3h-11.3zM452.5 653.9h56.5v3.3h-56.5zM616.4 653.9h39.6v3.3h-39.6zM667.2 653.9h11.3v3.3h-11.3zM684.2 653.9h17.0v3.3h-17.0zM808.5 653.9h5.7v3.3h-5.7zM819.8 653.9h11.3v3.3h-11.3zM1198.3 653.9h45.2v3.3h-45.2zM1277.5 653.9h22.6v3.3h-22.6zM294.3 657.2h124.3v3.3h-124.3zM452.5 657.2h56.5v3.3h-56.5zM514.7 657.2h5.7v3.3h-5.7zM616.4 657.2h62.2v3.3h-62.2zM701.1 657.2h96.1v3.3h-96.1zM842.4 657.2h17.0v3.3h-17.0zM1006.2 657.2h22.6v3.3h-22.6zM1034.5 657.2h11.3v3.3h-11.3zM1130.6 657.2h50.9v3.3h-50.9zM1192.7 657.2h5.7v3.3h-5.7zM1260.5 657.2h17.0v3.3h-17.0zM1718.2 657.2h11.3v3.3h-11.3zM294.3 660.5h28.2v3.3h-28.2zM339.5 660.5h79.1v3.3h-79.1zM452.5 660.5h67.8v3.3h-67.8zM616.4 660.5h62.2v3.3h-62.2zM735.0 660.5h39.6v3.3h-39.6zM932.8 660.5h45.2v3.3h-45.2zM1221.0 660.5h22.6v3.3h-22.6zM1283.1 660.5h17.0v3.3h-17.0zM1328.3 660.5h50.9v3.3h-50.9zM1497.8 660.5h28.2v3.3h-28.2zM1588.2 660.5h5.7v3.3h-5.7zM362.1 663.8h50.9v3.3h-50.9zM452.5 663.8h17.0v3.3h-17.0zM480.8 663.8h28.2v3.3h-28.2zM520.4 663.8h5.7v3.3h-5.7zM616.4 663.8h62.2v3.3h-62.2zM684.2 663.8h79.1v3.3h-79.1zM831.1 663.8h33.9v3.3h-33.9zM915.9 663.8h17.0v3.3h-17.0zM1192.7 663.8h28.2v3.3h-28.2zM1232.2 663.8h28.2v3.3h-28.2zM1271.8 663.8h5.7v3.3h-5.7zM277.4 667.1h17.0v3.3h-17.0zM452.5 667.1h5.7v3.3h-5.7zM480.8 667.1h28.2v3.3h-28.2zM650.3 667.1h33.9v3.3h-33.9zM689.9 667.1h96.1v3.3h-96.1zM808.5 667.1h5.7v3.3h-5.7zM1192.7 667.1h17.0v3.3h-17.0zM1221.0 667.1h22.6v3.3h-22.6zM1497.8 667.1h45.2v3.3h-45.2zM1610.8 667.1h56.5v3.3h-56.5zM452.5 670.4h17.0v3.3h-17.0zM492.1 670.4h17.0v3.3h-17.0zM616.4 670.4h62.2v3.3h-62.2zM701.1 670.4h11.3v3.3h-11.3zM932.8 670.4h33.9v3.3h-33.9zM1045.8 670.4h17.0v3.3h-17.0zM1192.7 670.4h50.9v3.3h-50.9zM1497.8 670.4h45.2v3.3h-45.2zM294.3 673.7h22.6v3.3h-22.6zM390.4 673.7h28.2v3.3h-28.2zM452.5 673.7h45.2v3.3h-45.2zM616.4 673.7h62.2v3.3h-62.2zM684.2 673.7h50.9v3.3h-50.9zM769.0 673.7h22.6v3.3h-22.6zM1034.5 673.7h22.6v3.3h-22.6zM1226.6 673.7h17.0v3.3h-17.0zM1283.1 673.7h17.0v3.3h-17.0zM1441.3 673.7h17.0v3.3h-17.0zM1469.6 673.7h5.7v3.3h-5.7zM401.7 677.0h11.3v3.3h-11.3zM452.5 677.0h22.6v3.3h-22.6zM486.4 677.0h28.2v3.3h-28.2zM616.4 677.0h33.9v3.3h-33.9zM656.0 677.0h17.0v3.3h-17.0zM684.2 677.0h17.0v3.3h-17.0zM729.4 677.0h50.9v3.3h-50.9zM791.5 677.0h5.7v3.3h-5.7zM831.1 677.0h11.3v3.3h-11.3zM1034.5 677.0h11.3v3.3h-11.3zM1260.5 677.0h22.6v3.3h-22.6zM1469.6 677.0h11.3v3.3h-11.3zM339.5 680.3h79.1v3.3h-79.1zM452.5 680.3h56.5v3.3h-56.5zM616.4 680.3h62.2v3.3h-62.2zM684.2 680.3h5.7v3.3h-5.7zM701.1 680.3h5.7v3.3h-5.7zM769.0 680.3h11.3v3.3h-11.3zM785.9 680.3h11.3v3.3h-11.3zM825.5 680.3h5.7v3.3h-5.7zM1034.5 680.3h11.3v3.3h-11.3zM1192.7 680.3h45.2v3.3h-45.2zM1243.6 680.3h17.0v3.3h-17.0zM345.2 683.6h33.9v3.3h-33.9zM475.1 683.6h28.2v3.3h-28.2zM616.4 683.6h17.0v3.3h-17.0zM644.6 683.6h33.9v3.3h-33.9zM684.2 683.6h17.0v3.3h-17.0zM746.4 683.6h39.6v3.3h-39.6zM915.9 683.6h17.0v3.3h-17.0zM1006.2 683.6h22.6v3.3h-22.6zM1192.7 683.6h50.9v3.3h-50.9zM1288.8 683.6h11.3v3.3h-11.3zM1503.5 683.6h39.6v3.3h-39.6zM1610.8 683.6h62.2v3.3h-62.2zM401.7 686.9h17.0v3.3h-17.0zM452.5 686.9h67.8v3.3h-67.8zM616.4 686.9h73.5v3.3h-73.5zM718.1 686.9h45.2v3.3h-45.2zM966.7 686.9h11.3v3.3h-11.3zM1034.5 686.9h22.6v3.3h-22.6zM1192.7 686.9h5.7v3.3h-5.7zM1209.7 686.9h17.0v3.3h-17.0zM1243.6 686.9h17.0v3.3h-17.0zM1288.8 686.9h5.7v3.3h-5.7zM1300.1 686.9h62.2v3.3h-62.2zM1418.7 686.9h22.6v3.3h-22.6zM452.5 690.2h5.7v3.3h-5.7zM497.8 690.2h11.3v3.3h-11.3zM616.4 690.2h62.2v3.3h-62.2zM684.2 690.2h17.0v3.3h-17.0zM774.6 690.2h22.6v3.3h-22.6zM1006.2 690.2h22.6v3.3h-22.6zM1051.5 690.2h5.7v3.3h-5.7zM1192.7 690.2h67.8v3.3h-67.8zM1288.8 690.2h11.3v3.3h-11.3zM277.4 693.5h5.7v3.3h-5.7zM333.9 693.5h79.1v3.3h-79.1zM452.5 693.5h11.3v3.3h-11.3zM480.8 693.5h28.2v3.3h-28.2zM520.4 693.5h5.7v3.3h-5.7zM616.4 693.5h62.2v3.3h-62.2zM701.1 693.5h28.2v3.3h-28.2zM757.7 693.5h33.9v3.3h-33.9zM898.9 693.5h11.3v3.3h-11.3zM1000.6 693.5h5.7v3.3h-5.7zM1040.2 693.5h5.7v3.3h-5.7zM1221.0 693.5h22.6v3.3h-22.6zM1509.1 693.5h39.6v3.3h-39.6zM452.5 696.8h56.5v3.3h-56.5zM616.4 696.8h62.2v3.3h-62.2zM763.3 696.8h22.6v3.3h-22.6zM791.5 696.8h5.7v3.3h-5.7zM915.9 696.8h39.6v3.3h-39.6zM1034.5 696.8h11.3v3.3h-11.3zM1209.7 696.8h50.9v3.3h-50.9zM1627.8 696.8h17.0v3.3h-17.0zM1673.0 696.8h56.5v3.3h-56.5zM322.6 700.1h28.2v3.3h-28.2zM463.9 700.1h11.3v3.3h-11.3zM480.8 700.1h33.9v3.3h-33.9zM616.4 700.1h39.6v3.3h-39.6zM667.2 700.1h107.4v3.3h-107.4zM1040.2 700.1h5.7v3.3h-5.7zM1062.8 700.1h17.0v3.3h-17.0zM1192.7 700.1h5.7v3.3h-5.7zM1209.7 700.1h5.7v3.3h-5.7zM379.1 703.4h39.6v3.3h-39.6zM452.5 703.4h11.3v3.3h-11.3zM480.8 703.4h28.2v3.3h-28.2zM520.4 703.4h5.7v3.3h-5.7zM616.4 703.4h62.2v3.3h-62.2zM684.2 703.4h62.2v3.3h-62.2zM769.0 703.4h17.0v3.3h-17.0zM1017.6 703.4h11.3v3.3h-11.3zM1158.8 703.4h17.0v3.3h-17.0zM1204.0 703.4h11.3v3.3h-11.3zM1226.6 703.4h17.0v3.3h-17.0zM1582.6 703.4h33.9v3.3h-33.9zM305.6 706.7h39.6v3.3h-39.6zM384.8 706.7h22.6v3.3h-22.6zM475.1 706.7h33.9v3.3h-33.9zM616.4 706.7h11.3v3.3h-11.3zM684.2 706.7h33.9v3.3h-33.9zM740.7 706.7h45.2v3.3h-45.2zM831.1 706.7h50.9v3.3h-50.9zM1204.0 706.7h5.7v3.3h-5.7zM1221.0 706.7h22.6v3.3h-22.6zM1537.3 706.7h17.0v3.3h-17.0zM294.3 710.0h28.2v3.3h-28.2zM339.5 710.0h79.1v3.3h-79.1zM458.2 710.0h11.3v3.3h-11.3zM480.8 710.0h39.6v3.3h-39.6zM616.4 710.0h11.3v3.3h-11.3zM644.6 710.0h11.3v3.3h-11.3zM774.6 710.0h11.3v3.3h-11.3zM915.9 710.0h17.0v3.3h-17.0zM1226.6 710.0h17.0v3.3h-17.0zM1661.7 710.0h17.0v3.3h-17.0zM1701.2 710.0h5.7v3.3h-5.7zM356.5 713.3h11.3v3.3h-11.3zM463.9 713.3h45.2v3.3h-45.2zM520.4 713.3h5.7v3.3h-5.7zM616.4 713.3h22.6v3.3h-22.6zM672.9 713.3h5.7v3.3h-5.7zM785.9 713.3h11.3v3.3h-11.3zM876.3 713.3h17.0v3.3h-17.0zM961.1 713.3h11.3v3.3h-11.3zM1062.8 713.3h33.9v3.3h-33.9zM1221.0 713.3h22.6v3.3h-22.6zM1283.1 713.3h17.0v3.3h-17.0zM1537.3 713.3h17.0v3.3h-17.0zM311.3 716.6h50.9v3.3h-50.9zM452.5 716.6h73.5v3.3h-73.5zM616.4 716.6h62.2v3.3h-62.2zM684.2 716.6h17.0v3.3h-17.0zM904.6 716.6h5.7v3.3h-5.7zM1051.5 716.6h5.7v3.3h-5.7zM1192.7 716.6h11.3v3.3h-11.3zM1237.9 716.6h5.7v3.3h-5.7zM1294.4 716.6h5.7v3.3h-5.7zM1492.2 716.6h5.7v3.3h-5.7zM294.3 719.9h33.9v3.3h-33.9zM452.5 719.9h39.6v3.3h-39.6zM616.4 719.9h28.2v3.3h-28.2zM656.0 719.9h22.6v3.3h-22.6zM684.2 719.9h67.8v3.3h-67.8zM1074.1 719.9h56.5v3.3h-56.5zM1187.1 719.9h5.7v3.3h-5.7zM1215.3 719.9h17.0v3.3h-17.0zM1237.9 719.9h5.7v3.3h-5.7zM1294.4 719.9h5.7v3.3h-5.7zM1441.3 719.9h39.6v3.3h-39.6zM1492.2 719.9h5.7v3.3h-5.7zM452.5 723.2h56.5v3.3h-56.5zM644.6 723.2h33.9v3.3h-33.9zM684.2 723.2h17.0v3.3h-17.0zM735.0 723.2h33.9v3.3h-33.9zM1006.2 723.2h22.6v3.3h-22.6zM1034.5 723.2h11.3v3.3h-11.3zM1192.7 723.2h5.7v3.3h-5.7zM1204.0 723.2h5.7v3.3h-5.7zM1215.3 723.2h45.2v3.3h-45.2zM1480.8 723.2h33.9v3.3h-33.9z"/>
<path fill="#a9a1f7" d="M548.6 380.0h62.2v3.3h-62.2zM831.1 380.0h22.6v3.3h-22.6zM865.0 380.0h17.0v3.3h-17.0zM932.8 380.0h73.5v3.3h-73.5zM1266.2 380.0h28.2v3.3h-28.2zM1379.2 380.0h22.6v3.3h-22.6zM1424.3 380.0h28.2v3.3h-28.2zM1458.2 380.0h11.3v3.3h-11.3zM1480.8 380.0h5.7v3.3h-5.7zM548.6 383.3h62.2v3.3h-62.2zM831.1 383.3h22.6v3.3h-22.6zM865.0 383.3h17.0v3.3h-17.0zM932.8 383.3h73.5v3.3h-73.5zM1266.2 383.3h28.2v3.3h-28.2zM1379.2 383.3h22.6v3.3h-22.6zM1424.3 383.3h28.2v3.3h-28.2zM1458.2 383.3h11.3v3.3h-11.3zM1480.8 383.3h5.7v3.3h-5.7zM548.6 386.6h62.2v3.3h-62.2zM831.1 386.6h22.6v3.3h-22.6zM865.0 386.6h17.0v3.3h-17.0zM932.8 386.6h73.5v3.3h-73.5zM1266.2 386.6h28.2v3.3h-28.2zM1379.2 386.6h22.6v3.3h-22.6zM1424.3 386.6h28.2v3.3h-28.2zM1458.2 386.6h11.3v3.3h-11.3zM1480.8 386.6h5.7v3.3h-5.7zM548.6 389.9h62.2v3.3h-62.2zM831.1 389.9h22.6v3.3h-22.6zM865.0 389.9h17.0v3.3h-17.0zM932.8 389.9h73.5v3.3h-73.5zM1266.2 389.9h28.2v3.3h-28.2zM1379.2 389.9h22.6v3.3h-22.6zM1424.3 389.9h28.2v3.3h-28.2zM1458.2 389.9h11.3v3.3h-11.3zM1480.8 389.9h5.7v3.3h-5.7zM548.6 393.2h62.2v3.3h-62.2zM831.1 393.2h22.6v3.3h-22.6zM865.0 393.2h17.0v3.3h-17.0zM932.8 393.2h73.5v3.3h-73.5zM1266.2 393.2h28.2v3.3h-28.2zM1379.2 393.2h22.6v3.3h-22.6zM1424.3 393.2h28.2v3.3h-28.2zM1458.2 393.2h11.3v3.3h-11.3zM1480.8 393.2h5.7v3.3h-5.7zM548.6 396.5h62.2v3.3h-62.2zM831.1 396.5h22.6v3.3h-22.6zM865.0 396.5h17.0v3.3h-17.0zM932.8 396.5h73.5v3.3h-73.5zM1266.2 396.5h28.2v3.3h-28.2zM1379.2 396.5h22.6v3.3h-22.6zM1424.3 396.5h28.2v3.3h-28.2zM1458.2 396.5h11.3v3.3h-11.3zM1480.8 396.5h5.7v3.3h-5.7zM548.6 399.8h62.2v3.3h-62.2zM831.1 399.8h22.6v3.3h-22.6zM865.0 399.8h17.0v3.3h-17.0zM932.8 399.8h73.5v3.3h-73.5zM1266.2 399.8h28.2v3.3h-28.2zM1379.2 399.8h22.6v3.3h-22.6zM1424.3 399.8h28.2v3.3h-28.2zM1458.2 399.8h11.3v3.3h-11.3zM1480.8 399.8h5.7v3.3h-5.7zM548.6 403.1h62.2v3.3h-62.2zM831.1 403.1h22.6v3.3h-22.6zM865.0 403.1h17.0v3.3h-17.0zM932.8 403.1h73.5v3.3h-73.5zM1266.2 403.1h28.2v3.3h-28.2zM1379.2 403.1h22.6v3.3h-22.6zM1424.3 403.1h28.2v3.3h-28.2zM1458.2 403.1h11.3v3.3h-11.3zM1480.8 403.1h5.7v3.3h-5.7zM576.9 406.4h33.9v3.3h-33.9zM831.1 406.4h22.6v3.3h-22.6zM865.0 406.4h17.0v3.3h-17.0zM932.8 406.4h73.5v3.3h-73.5zM1266.2 406.4h28.2v3.3h-28.2zM1379.2 406.4h22.6v3.3h-22.6zM1531.7 406.4h39.6v3.3h-39.6zM548.6 409.7h62.2v3.3h-62.2zM932.8 409.7h73.5v3.3h-73.5zM1266.2 409.7h28.2v3.3h-28.2zM1384.8 409.7h17.0v3.3h-17.0zM1424.3 409.7h28.2v3.3h-28.2zM1458.2 409.7h11.3v3.3h-11.3zM1480.8 409.7h5.7v3.3h-5.7zM548.6 413.0h62.2v3.3h-62.2zM932.8 413.0h73.5v3.3h-73.5zM1266.2 413.0h28.2v3.3h-28.2zM1379.2 413.0h22.6v3.3h-22.6zM1435.7 413.0h17.0v3.3h-17.0zM1458.2 413.0h11.3v3.3h-11.3zM1480.8 413.0h5.7v3.3h-5.7zM1548.7 413.0h50.9v3.3h-50.9zM548.6 416.3h62.2v3.3h-62.2zM831.1 416.3h22.6v3.3h-22.6zM865.0 416.3h17.0v3.3h-17.0zM927.1 416.3h79.1v3.3h-79.1zM1266.2 416.3h28.2v3.3h-28.2zM1379.2 416.3h22.6v3.3h-22.6zM1424.3 416.3h28.2v3.3h-28.2zM1458.2 416.3h11.3v3.3h-11.3zM1480.8 416.3h5.7v3.3h-5.7zM831.1 419.6h22.6v3.3h-22.6zM865.0 419.6h56.5v3.3h-56.5zM932.8 419.6h73.5v3.3h-73.5zM1266.2 419.6h28.2v3.3h-28.2zM1379.2 419.6h22.6v3.3h-22.6zM1424.3 419.6h28.2v3.3h-28.2zM1458.2 419.6h11.3v3.3h-11.3zM1480.8 419.6h5.7v3.3h-5.7zM548.6 422.9h62.2v3.3h-62.2zM831.1 422.9h22.6v3.3h-22.6zM865.0 422.9h17.0v3.3h-17.0zM915.9 422.9h90.4v3.3h-90.4zM1266.2 422.9h28.2v3.3h-28.2zM1379.2 422.9h22.6v3.3h-22.6zM1424.3 422.9h28.2v3.3h-28.2zM1458.2 422.9h11.3v3.3h-11.3zM1480.8 422.9h5.7v3.3h-5.7zM548.6 426.2h62.2v3.3h-62.2zM831.1 426.2h22.6v3.3h-22.6zM865.0 426.2h17.0v3.3h-17.0zM915.9 426.2h90.4v3.3h-90.4zM1266.2 426.2h28.2v3.3h-28.2zM1379.2 426.2h22.6v3.3h-22.6zM1424.3 426.2h28.2v3.3h-28.2zM1458.2 426.2h11.3v3.3h-11.3zM1480.8 426.2h5.7v3.3h-5.7zM294.3 429.5h17.0v3.3h-17.0zM316.9 429.5h22.6v3.3h-22.6zM548.6 429.5h62.2v3.3h-62.2zM831.1 429.5h22.6v3.3h-22.6zM865.0 429.5h17.0v3.3h-17.0zM915.9 429.5h90.4v3.3h-90.4zM1350.9 429.5h11.3v3.3h-11.3zM1379.2 429.5h22.6v3.3h-22.6zM1424.3 429.5h28.2v3.3h-28.2zM1458.2 429.5h11.3v3.3h-11.3zM1480.8 429.5h5.7v3.3h-5.7zM548.6 432.8h62.2v3.3h-62.2zM831.1 432.8h22.6v3.3h-22.6zM865.0 432.8h17.0v3.3h-17.0zM904.6 432.8h22.6v3.3h-22.6zM932.8 432.8h73.5v3.3h-73.5zM1266.2 432.8h28.2v3.3h-28.2zM1379.2 432.8h22.6v3.3h-22.6zM1424.3 432.8h28.2v3.3h-28.2zM1458.2 432.8h11.3v3.3h-11.3zM1480.8 432.8h5.7v3.3h-5.7zM548.6 436.1h62.2v3.3h-62.2zM831.1 436.1h22.6v3.3h-22.6zM865.0 436.1h17.0v3.3h-17.0zM915.9 436.1h90.4v3.3h-90.4zM1266.2 436.1h28.2v3.3h-28.2zM1379.2 436.1h22.6v3.3h-22.6zM1424.3 436.1h28.2v3.3h-28.2zM1458.2 436.1h11.3v3.3h-11.3zM1480.8 436.1h5.7v3.3h-5.7zM548.6 439.4h50.9v3.3h-50.9zM831.1 439.4h22.6v3.3h-22.6zM865.0 439.4h50.9v3.3h-50.9zM932.8 439.4h73.5v3.3h-73.5zM1266.2 439.4h28.2v3.3h-28.2zM1328.3 439.4h22.6v3.3h-22.6zM1379.2 439.4h22.6v3.3h-22.6zM1424.3 439.4h28.2v3.3h-28.2zM1458.2 439.4h11.3v3.3h-11.3zM1509.1 439.4h45.2v3.3h-45.2zM548.6 442.7h67.8v3.3h-67.8zM831.1 442.7h22.6v3.3h-22.6zM865.0 442.7h33.9v3.3h-33.9zM932.8 442.7h73.5v3.3h-73.5zM1266.2 442.7h22.6v3.3h-22.6zM1373.5 442.7h28.2v3.3h-28.2zM1424.3 442.7h28.2v3.3h-28.2zM1458.2 442.7h11.3v3.3h-11.3zM1480.8 442.7h17.0v3.3h-17.0zM548.6 446.0h67.8v3.3h-67.8zM831.1 446.0h22.6v3.3h-22.6zM865.0 446.0h141.2v3.3h-141.2zM1266.2 446.0h28.2v3.3h-28.2zM1379.2 446.0h22.6v3.3h-22.6zM1424.3 446.0h28.2v3.3h-28.2zM1458.2 446.0h11.3v3.3h-11.3zM548.6 449.3h45.2v3.3h-45.2zM831.1 449.3h22.6v3.3h-22.6zM865.0 449.3h17.0v3.3h-17.0zM910.2 449.3h11.3v3.3h-11.3zM932.8 449.3h73.5v3.3h-73.5zM1164.5 449.3h11.3v3.3h-11.3zM1266.2 449.3h28.2v3.3h-28.2zM1379.2 449.3h22.6v3.3h-22.6zM1424.3 449.3h28.2v3.3h-28.2zM1458.2 449.3h11.3v3.3h-11.3zM548.6 452.6h62.2v3.3h-62.2zM831.1 452.6h22.6v3.3h-22.6zM865.0 452.6h17.0v3.3h-17.0zM915.9 452.6h90.4v3.3h-90.4zM1158.8 452.6h33.9v3.3h-33.9zM1266.2 452.6h28.2v3.3h-28.2zM1379.2 452.6h22.6v3.3h-22.6zM1424.3 452.6h28.2v3.3h-28.2zM1458.2 452.6h11.3v3.3h-11.3zM548.6 455.9h45.2v3.3h-45.2zM610.8 455.9h5.7v3.3h-5.7zM831.1 455.9h22.6v3.3h-22.6zM865.0 455.9h141.2v3.3h-141.2zM1266.2 455.9h28.2v3.3h-28.2zM1367.8 455.9h33.9v3.3h-33.9zM1424.3 455.9h28.2v3.3h-28.2zM1458.2 455.9h11.3v3.3h-11.3zM548.6 459.2h67.8v3.3h-67.8zM831.1 459.2h22.6v3.3h-22.6zM865.0 459.2h56.5v3.3h-56.5zM932.8 459.2h73.5v3.3h-73.5zM1187.1 459.2h5.7v3.3h-5.7zM1266.2 459.2h50.9v3.3h-50.9zM1328.3 459.2h45.2v3.3h-45.2zM1379.2 459.2h22.6v3.3h-22.6zM1424.3 459.2h28.2v3.3h-28.2zM1458.2 459.2h11.3v3.3h-11.3zM548.6 462.5h45.2v3.3h-45.2zM610.8 462.5h5.7v3.3h-5.7zM831.1 462.5h22.6v3.3h-22.6zM865.0 462.5h17.0v3.3h-17.0zM904.6 462.5h17.0v3.3h-17.0zM932.8 462.5h73.5v3.3h-73.5zM1266.2 462.5h28.2v3.3h-28.2zM1379.2 462.5h22.6v3.3h-22.6zM1424.3 462.5h28.2v3.3h-28.2zM1458.2 462.5h11.3v3.3h-11.3zM548.6 465.8h67.8v3.3h-67.8zM831.1 465.8h22.6v3.3h-22.6zM865.0 465.8h17.0v3.3h-17.0zM921.5 465.8h84.8v3.3h-84.8zM1136.2 465.8h11.3v3.3h-11.3zM1266.2 465.8h28.2v3.3h-28.2zM1328.3 465.8h45.2v3.3h-45.2zM1379.2 465.8h22.6v3.3h-22.6zM1424.3 465.8h28.2v3.3h-28.2zM1458.2 465.8h11.3v3.3h-11.3zM1520.4 465.8h62.2v3.3h-62.2zM548.6 469.1h45.2v3.3h-45.2zM831.1 469.1h22.6v3.3h-22.6zM865.0 469.1h11.3v3.3h-11.3zM932.8 469.1h73.5v3.3h-73.5zM1266.2 469.1h28.2v3.3h-28.2zM1339.6 469.1h11.3v3.3h-11.3zM1373.5 469.1h28.2v3.3h-28.2zM1424.3 469.1h28.2v3.3h-28.2zM1458.2 469.1h11.3v3.3h-11.3zM548.6 472.4h62.2v3.3h-62.2zM831.1 472.4h22.6v3.3h-22.6zM865.0 472.4h17.0v3.3h-17.0zM904.6 472.4h101.7v3.3h-101.7zM1085.3 472.4h11.3v3.3h-11.3zM1266.2 472.4h28.2v3.3h-28.2zM1333.9 472.4h11.3v3.3h-11.3zM1452.6 472.4h17.0v3.3h-17.0zM548.6 475.7h56.5v3.3h-56.5zM932.8 475.7h73.5v3.3h-73.5zM1062.8 475.7h62.2v3.3h-62.2zM1136.2 475.7h45.2v3.3h-45.2zM1266.2 475.7h73.5v3.3h-73.5zM1441.3 475.7h28.2v3.3h-28.2zM548.6 479.0h67.8v3.3h-67.8zM831.1 479.0h22.6v3.3h-22.6zM865.0 479.0h17.0v3.3h-17.0zM932.8 479.0h73.5v3.3h-73.5zM1266.2 479.0h28.2v3.3h-28.2zM1328.3 479.0h28.2v3.3h-28.2zM1458.2 479.0h11.3v3.3h-11.3zM1554.3 479.0h22.6v3.3h-22.6zM548.6 482.3h62.2v3.3h-62.2zM831.1 482.3h22.6v3.3h-22.6zM865.0 482.3h17.0v3.3h-17.0zM932.8 482.3h73.5v3.3h-73.5zM1068.4 482.3h17.0v3.3h-17.0zM1266.2 482.3h28.2v3.3h-28.2zM1339.6 482.3h39.6v3.3h-39.6zM1418.7 482.3h50.9v3.3h-50.9zM1616.5 482.3h17.0v3.3h-17.0zM429.9 485.6h22.6v3.3h-22.6zM548.6 485.6h45.2v3.3h-45.2zM831.1 485.6h22.6v3.3h-22.6zM865.0 485.6h17.0v3.3h-17.0zM932.8 485.6h73.5v3.3h-73.5zM1040.2 485.6h50.9v3.3h-50.9zM1136.2 485.6h45.2v3.3h-45.2zM1266.2 485.6h45.2v3.3h-45.2zM1345.2 485.6h33.9v3.3h-33.9zM1458.2 485.6h11.3v3.3h-11.3zM333.9 488.9h33.9v3.3h-33.9zM548.6 488.9h67.8v3.3h-67.8zM831.1 488.9h22.6v3.3h-22.6zM865.0 488.9h141.2v3.3h-141.2zM1136.2 488.9h45.2v3.3h-45.2zM1266.2 488.9h28.2v3.3h-28.2zM1356.6 488.9h17.0v3.3h-17.0zM1379.2 488.9h50.9v3.3h-50.9zM1458.2 488.9h11.3v3.3h-11.3zM1599.5 488.9h22.6v3.3h-22.6zM548.6 492.2h45.2v3.3h-45.2zM831.1 492.2h22.6v3.3h-22.6zM865.0 492.2h17.0v3.3h-17.0zM904.6 492.2h101.7v3.3h-101.7zM1074.1 492.2h39.6v3.3h-39.6zM1181.4 492.2h11.3v3.3h-11.3zM1266.2 492.2h28.2v3.3h-28.2zM1333.9 492.2h17.0v3.3h-17.0zM1407.4 492.2h11.3v3.3h-11.3zM548.6 495.5h45.2v3.3h-45.2zM831.1 495.5h22.6v3.3h-22.6zM865.0 495.5h17.0v3.3h-17.0zM915.9 495.5h90.4v3.3h-90.4zM1124.9 495.5h56.5v3.3h-56.5zM1266.2 495.5h67.8v3.3h-67.8zM1379.2 495.5h45.2v3.3h-45.2zM548.6 498.8h67.8v3.3h-67.8zM831.1 498.8h22.6v3.3h-22.6zM865.0 498.8h50.9v3.3h-50.9zM932.8 498.8h73.5v3.3h-73.5zM1091.0 498.8h45.2v3.3h-45.2zM1266.2 498.8h28.2v3.3h-28.2zM1356.6 498.8h62.2v3.3h-62.2zM1452.6 498.8h5.7v3.3h-5.7zM548.6 502.1h67.8v3.3h-67.8zM831.1 502.1h22.6v3.3h-22.6zM915.9 502.1h90.4v3.3h-90.4zM1040.2 502.1h17.0v3.3h-17.0zM1085.3 502.1h39.6v3.3h-39.6zM1136.2 502.1h11.3v3.3h-11.3zM1175.8 502.1h17.0v3.3h-17.0zM1266.2 502.1h28.2v3.3h-28.2zM1401.8 502.1h17.0v3.3h-17.0zM1452.6 502.1h5.7v3.3h-5.7zM1469.6 502.1h186.5v3.3h-186.5zM1729.5 502.1h11.3v3.3h-11.3zM548.6 505.4h50.9v3.3h-50.9zM831.1 505.4h22.6v3.3h-22.6zM865.0 505.4h33.9v3.3h-33.9zM932.8 505.4h73.5v3.3h-73.5zM1068.4 505.4h39.6v3.3h-39.6zM1266.2 505.4h28.2v3.3h-28.2zM548.6 508.7h62.2v3.3h-62.2zM831.1 508.7h22.6v3.3h-22.6zM865.0 508.7h141.2v3.3h-141.2zM1040.2 508.7h17.0v3.3h-17.0zM1153.2 508.7h33.9v3.3h-33.9zM1266.2 508.7h113.0v3.3h-113.0zM548.6 512.0h62.2v3.3h-62.2zM622.0 512.0h28.2v3.3h-28.2zM718.1 512.0h45.2v3.3h-45.2zM831.1 512.0h50.9v3.3h-50.9zM1187.1 512.0h5.7v3.3h-5.7zM1266.2 512.0h22.6v3.3h-22.6zM1379.2 512.0h17.0v3.3h-17.0zM548.6 515.3h62.2v3.3h-62.2zM622.0 515.3h28.2v3.3h-28.2zM718.1 515.3h45.2v3.3h-45.2zM831.1 515.3h50.9v3.3h-50.9zM1187.1 515.3h5.7v3.3h-5.7zM1266.2 515.3h22.6v3.3h-22.6zM1350.9 515.3h28.2v3.3h-28.2zM1390.5 515.3h67.8v3.3h-67.8zM548.6 518.6h45.2v3.3h-45.2zM831.1 518.6h22.6v3.3h-22.6zM865.0 518.6h45.2v3.3h-45.2zM921.5 518.6h84.8v3.3h-84.8zM1040.2 518.6h39.6v3.3h-39.6zM1136.2 518.6h56.5v3.3h-56.5zM1266.2 518.6h28.2v3.3h-28.2zM1401.8 518.6h56.5v3.3h-56.5zM548.6 521.9h67.8v3.3h-67.8zM831.1 521.9h22.6v3.3h-22.6zM865.0 521.9h33.9v3.3h-33.9zM932.8 521.9h73.5v3.3h-73.5zM1113.6 521.9h17.0v3.3h-17.0zM1266.2 521.9h28.2v3.3h-28.2zM1373.5 521.9h84.8v3.3h-84.8zM396.0 525.2h22.6v3.3h-22.6zM548.6 525.2h67.8v3.3h-67.8zM831.1 525.2h22.6v3.3h-22.6zM865.0 525.2h17.0v3.3h-17.0zM904.6 525.2h101.7v3.3h-101.7zM1108.0 525.2h28.2v3.3h-28.2zM1266.2 525.2h28.2v3.3h-28.2zM1311.3 525.2h28.2v3.3h-28.2zM1452.6 525.2h5.7v3.3h-5.7zM294.3 528.5h28.2v3.3h-28.2zM548.6 528.5h45.2v3.3h-45.2zM831.1 528.5h22.6v3.3h-22.6zM865.0 528.5h33.9v3.3h-33.9zM932.8 528.5h73.5v3.3h-73.5zM1051.5 528.5h22.6v3.3h-22.6zM1113.6 528.5h22.6v3.3h-22.6zM1266.2 528.5h45.2v3.3h-45.2zM1350.9 528.5h28.2v3.3h-28.2zM1413.1 528.5h17.0v3.3h-17.0zM277.4 531.8h39.6v3.3h-39.6zM362.1 531.8h17.0v3.3h-17.0zM548.6 531.8h67.8v3.3h-67.8zM831.1 531.8h22.6v3.3h-22.6zM865.0 531.8h33.9v3.3h-33.9zM921.5 531.8h84.8v3.3h-84.8zM1091.0 531.8h22.6v3.3h-22.6zM1266.2 531.8h45.2v3.3h-45.2zM554.2 535.1h39.6v3.3h-39.6zM605.1 535.1h11.3v3.3h-11.3zM831.1 535.1h62.2v3.3h-62.2zM915.9 535.1h33.9v3.3h-33.9zM995.0 535.1h33.9v3.3h-33.9zM1057.1 535.1h5.7v3.3h-5.7zM1085.3 535.1h11.3v3.3h-11.3zM1260.5 535.1h17.0v3.3h-17.0zM1300.1 535.1h67.8v3.3h-67.8zM1418.7 535.1h28.2v3.3h-28.2zM1458.2 535.1h11.3v3.3h-11.3zM1633.4 535.1h73.5v3.3h-73.5zM554.2 538.4h28.2v3.3h-28.2zM588.1 538.4h5.7v3.3h-5.7zM605.1 538.4h5.7v3.3h-5.7zM831.1 538.4h17.0v3.3h-17.0zM915.9 538.4h62.2v3.3h-62.2zM1006.2 538.4h22.6v3.3h-22.6zM1277.5 538.4h22.6v3.3h-22.6zM1469.6 538.4h22.6v3.3h-22.6zM345.2 541.7h28.2v3.3h-28.2zM554.2 541.7h22.6v3.3h-22.6zM582.5 541.7h33.9v3.3h-33.9zM831.1 541.7h79.1v3.3h-79.1zM932.8 541.7h96.1v3.3h-96.1zM1277.5 541.7h17.0v3.3h-17.0zM1300.1 541.7h11.3v3.3h-11.3zM1367.8 541.7h118.7v3.3h-118.7zM1554.3 541.7h39.6v3.3h-39.6zM1633.4 541.7h45.2v3.3h-45.2zM559.9 545.0h33.9v3.3h-33.9zM870.6 545.0h39.6v3.3h-39.6zM915.9 545.0h113.0v3.3h-113.0zM1051.5 545.0h5.7v3.3h-5.7zM1085.3 545.0h107.4v3.3h-107.4zM1593.8 545.0h28.2v3.3h-28.2zM1712.5 545.0h17.0v3.3h-17.0zM554.2 548.3h22.6v3.3h-22.6zM593.8 548.3h17.0v3.3h-17.0zM882.0 548.3h28.2v3.3h-28.2zM915.9 548.3h17.0v3.3h-17.0zM978.0 548.3h50.9v3.3h-50.9zM1300.1 548.3h28.2v3.3h-28.2zM1350.9 548.3h22.6v3.3h-22.6zM1441.3 548.3h22.6v3.3h-22.6zM554.2 551.6h39.6v3.3h-39.6zM932.8 551.6h39.6v3.3h-39.6zM1000.6 551.6h5.7v3.3h-5.7zM1062.8 551.6h11.3v3.3h-11.3zM1305.7 551.6h56.5v3.3h-56.5zM1418.7 551.6h39.6v3.3h-39.6zM1469.6 551.6h45.2v3.3h-45.2zM554.2 554.9h39.6v3.3h-39.6zM610.8 554.9h5.7v3.3h-5.7zM831.1 554.9h79.1v3.3h-79.1zM915.9 554.9h11.3v3.3h-11.3zM932.8 554.9h84.8v3.3h-84.8zM1062.8 554.9h22.6v3.3h-22.6zM1260.5 554.9h17.0v3.3h-17.0zM1396.1 554.9h11.3v3.3h-11.3zM554.2 558.2h56.5v3.3h-56.5zM650.3 558.2h28.2v3.3h-28.2zM831.1 558.2h67.8v3.3h-67.8zM915.9 558.2h113.0v3.3h-113.0zM1294.4 558.2h5.7v3.3h-5.7zM1333.9 558.2h50.9v3.3h-50.9zM294.3 561.5h56.5v3.3h-56.5zM554.2 561.5h39.6v3.3h-39.6zM831.1 561.5h39.6v3.3h-39.6zM915.9 561.5h90.4v3.3h-90.4zM1045.8 561.5h5.7v3.3h-5.7zM1119.2 561.5h22.6v3.3h-22.6zM1181.4 561.5h11.3v3.3h-11.3zM554.2 564.8h39.6v3.3h-39.6zM610.8 564.8h5.7v3.3h-5.7zM831.1 564.8h28.2v3.3h-28.2zM932.8 564.8h11.3v3.3h-11.3zM989.3 564.8h17.0v3.3h-17.0zM1260.5 564.8h11.3v3.3h-11.3zM1283.1 564.8h50.9v3.3h-50.9zM1379.2 564.8h62.2v3.3h-62.2zM1469.6 564.8h39.6v3.3h-39.6zM1706.8 564.8h22.6v3.3h-22.6zM554.2 568.1h39.6v3.3h-39.6zM605.1 568.1h11.3v3.3h-11.3zM656.0 568.1h22.6v3.3h-22.6zM831.1 568.1h62.2v3.3h-62.2zM915.9 568.1h73.5v3.3h-73.5zM1006.2 568.1h22.6v3.3h-22.6zM1215.3 568.1h22.6v3.3h-22.6zM1260.5 568.1h22.6v3.3h-22.6zM1333.9 568.1h130.0v3.3h-130.0zM1469.6 568.1h5.7v3.3h-5.7zM1639.1 568.1h84.8v3.3h-84.8zM554.2 571.4h33.9v3.3h-33.9zM599.5 571.4h17.0v3.3h-17.0zM848.1 571.4h62.2v3.3h-62.2zM915.9 571.4h17.0v3.3h-17.0zM961.1 571.4h45.2v3.3h-45.2zM1045.8 571.4h17.0v3.3h-17.0zM1283.1 571.4h28.2v3.3h-28.2zM1441.3 571.4h22.6v3.3h-22.6zM1480.8 571.4h67.8v3.3h-67.8zM554.2 574.7h11.3v3.3h-11.3zM576.9 574.7h11.3v3.3h-11.3zM610.8 574.7h5.7v3.3h-5.7zM876.3 574.7h33.9v3.3h-33.9zM972.4 574.7h33.9v3.3h-33.9zM1288.8 574.7h11.3v3.3h-11.3zM1661.7 574.7h67.8v3.3h-67.8zM328.2 578.0h45.2v3.3h-45.2zM554.2 578.0h39.6v3.3h-39.6zM599.5 578.0h17.0v3.3h-17.0zM865.0 578.0h45.2v3.3h-45.2zM932.8 578.0h17.0v3.3h-17.0zM983.6 578.0h11.3v3.3h-11.3zM1006.2 578.0h11.3v3.3h-11.3zM1124.9 578.0h67.8v3.3h-67.8zM1576.9 578.0h67.8v3.3h-67.8zM554.2 581.3h17.0v3.3h-17.0zM593.8 581.3h11.3v3.3h-11.3zM831.1 581.3h79.1v3.3h-79.1zM915.9 581.3h67.8v3.3h-67.8zM1130.6 581.3h56.5v3.3h-56.5zM1277.5 581.3h73.5v3.3h-73.5zM1520.4 581.3h22.6v3.3h-22.6zM1565.6 581.3h73.5v3.3h-73.5zM1678.6 581.3h11.3v3.3h-11.3zM554.2 584.6h39.6v3.3h-39.6zM610.8 584.6h5.7v3.3h-5.7zM831.1 584.6h56.5v3.3h-56.5zM927.1 584.6h28.2v3.3h-28.2zM1000.6 584.6h17.0v3.3h-17.0zM1113.6 584.6h56.5v3.3h-56.5zM1271.8 584.6h28.2v3.3h-28.2zM1356.6 584.6h62.2v3.3h-62.2zM1537.3 584.6h67.8v3.3h-67.8zM1627.8 584.6h17.0v3.3h-17.0zM554.2 587.9h50.9v3.3h-50.9zM853.7 587.9h56.5v3.3h-56.5zM932.8 587.9h73.5v3.3h-73.5zM1079.7 587.9h28.2v3.3h-28.2zM1170.1 587.9h22.6v3.3h-22.6zM1260.5 587.9h28.2v3.3h-28.2zM1300.1 587.9h22.6v3.3h-22.6zM1492.2 587.9h73.5v3.3h-73.5zM1627.8 587.9h73.5v3.3h-73.5zM554.2 591.2h39.6v3.3h-39.6zM605.1 591.2h11.3v3.3h-11.3zM859.4 591.2h50.9v3.3h-50.9zM1113.6 591.2h39.6v3.3h-39.6zM1237.9 591.2h5.7v3.3h-5.7zM1260.5 591.2h28.2v3.3h-28.2zM1294.4 591.2h5.7v3.3h-5.7zM1333.9 591.2h50.9v3.3h-50.9zM1441.3 591.2h22.6v3.3h-22.6zM1656.0 591.2h73.5v3.3h-73.5zM554.2 594.5h39.6v3.3h-39.6zM599.5 594.5h17.0v3.3h-17.0zM831.1 594.5h50.9v3.3h-50.9zM898.9 594.5h11.3v3.3h-11.3zM932.8 594.5h62.2v3.3h-62.2zM1023.2 594.5h5.7v3.3h-5.7zM1045.8 594.5h5.7v3.3h-5.7zM1102.3 594.5h39.6v3.3h-39.6zM1288.8 594.5h11.3v3.3h-11.3zM1418.7 594.5h11.3v3.3h-11.3zM1441.3 594.5h39.6v3.3h-39.6zM1492.2 594.5h11.3v3.3h-11.3zM1605.2 594.5h33.9v3.3h-33.9zM407.4 597.8h11.3v3.3h-11.3zM554.2 597.8h28.2v3.3h-28.2zM593.8 597.8h22.6v3.3h-22.6zM853.7 597.8h56.5v3.3h-56.5zM915.9 597.8h45.2v3.3h-45.2zM972.4 597.8h17.0v3.3h-17.0zM1124.9 597.8h11.3v3.3h-11.3zM1266.2 597.8h28.2v3.3h-28.2zM1441.3 597.8h11.3v3.3h-11.3zM1667.3 597.8h22.6v3.3h-22.6zM1718.2 597.8h11.3v3.3h-11.3zM554.2 601.1h17.0v3.3h-17.0zM576.9 601.1h22.6v3.3h-22.6zM610.8 601.1h5.7v3.3h-5.7zM831.1 601.1h33.9v3.3h-33.9zM887.6 601.1h11.3v3.3h-11.3zM927.1 601.1h5.7v3.3h-5.7zM995.0 601.1h11.3v3.3h-11.3zM1102.3 601.1h28.2v3.3h-28.2zM1260.5 601.1h96.1v3.3h-96.1zM1441.3 601.1h22.6v3.3h-22.6zM1469.6 601.1h11.3v3.3h-11.3zM1492.2 601.1h33.9v3.3h-33.9zM1616.5 601.1h73.5v3.3h-73.5zM554.2 604.4h56.5v3.3h-56.5zM831.1 604.4h79.1v3.3h-79.1zM915.9 604.4h17.0v3.3h-17.0zM966.7 604.4h39.6v3.3h-39.6zM1215.3 604.4h11.3v3.3h-11.3zM1277.5 604.4h17.0v3.3h-17.0zM1300.1 604.4h62.2v3.3h-62.2zM1616.5 604.4h62.2v3.3h-62.2zM554.2 607.7h39.6v3.3h-39.6zM610.8 607.7h5.7v3.3h-5.7zM915.9 607.7h90.4v3.3h-90.4zM1062.8 607.7h50.9v3.3h-50.9zM1153.2 607.7h11.3v3.3h-11.3zM1300.1 607.7h56.5v3.3h-56.5zM1413.1 607.7h28.2v3.3h-28.2zM1475.2 607.7h33.9v3.3h-33.9zM1526.1 607.7h33.9v3.3h-33.9zM576.9 611.0h28.2v3.3h-28.2zM1260.5 611.0h39.6v3.3h-39.6zM1441.3 611.0h67.8v3.3h-67.8zM554.2 614.3h56.5v3.3h-56.5zM831.1 614.3h39.6v3.3h-39.6zM898.9 614.3h11.3v3.3h-11.3zM915.9 614.3h17.0v3.3h-17.0zM972.4 614.3h22.6v3.3h-22.6zM1294.4 614.3h5.7v3.3h-5.7zM1350.9 614.3h113.0v3.3h-113.0zM554.2 617.6h50.9v3.3h-50.9zM610.8 617.6h5.7v3.3h-5.7zM831.1 617.6h73.5v3.3h-73.5zM915.9 617.6h113.0v3.3h-113.0zM1288.8 617.6h11.3v3.3h-11.3zM1435.7 617.6h5.7v3.3h-5.7zM1627.8 617.6h79.1v3.3h-79.1zM554.2 620.9h39.6v3.3h-39.6zM616.4 620.9h90.4v3.3h-90.4zM831.1 620.9h45.2v3.3h-45.2zM893.2 620.9h17.0v3.3h-17.0zM932.8 620.9h73.5v3.3h-73.5zM1017.6 620.9h11.3v3.3h-11.3zM1113.6 620.9h73.5v3.3h-73.5zM1266.2 620.9h33.9v3.3h-33.9zM1650.3 620.9h50.9v3.3h-50.9zM1718.2 620.9h11.3v3.3h-11.3zM333.9 624.2h17.0v3.3h-17.0zM548.6 624.2h5.7v3.3h-5.7zM565.5 624.2h28.2v3.3h-28.2zM831.1 624.2h79.1v3.3h-79.1zM932.8 624.2h73.5v3.3h-73.5zM1288.8 624.2h22.6v3.3h-22.6zM554.2 627.5h11.3v3.3h-11.3zM588.1 627.5h5.7v3.3h-5.7zM1062.8 627.5h33.9v3.3h-33.9zM1300.1 627.5h130.0v3.3h-130.0zM1441.3 627.5h96.1v3.3h-96.1zM1582.6 627.5h67.8v3.3h-67.8zM1706.8 627.5h22.6v3.3h-22.6zM554.2 630.8h50.9v3.3h-50.9zM610.8 630.8h5.7v3.3h-5.7zM865.0 630.8h45.2v3.3h-45.2zM915.9 630.8h17.0v3.3h-17.0zM989.3 630.8h39.6v3.3h-39.6zM1085.3 630.8h50.9v3.3h-50.9zM1260.5 630.8h62.2v3.3h-62.2zM1593.8 630.8h17.0v3.3h-17.0zM548.6 634.1h45.2v3.3h-45.2zM887.6 634.1h22.6v3.3h-22.6zM932.8 634.1h33.9v3.3h-33.9zM983.6 634.1h45.2v3.3h-45.2zM1170.1 634.1h22.6v3.3h-22.6zM1215.3 634.1h17.0v3.3h-17.0zM1271.8 634.1h28.2v3.3h-28.2zM1480.8 634.1h11.3v3.3h-11.3zM1650.3 634.1h17.0v3.3h-17.0zM1706.8 634.1h22.6v3.3h-22.6zM554.2 637.4h39.6v3.3h-39.6zM831.1 637.4h50.9v3.3h-50.9zM932.8 637.4h73.5v3.3h-73.5zM1130.6 637.4h33.9v3.3h-33.9zM1283.1 637.4h17.0v3.3h-17.0zM1452.6 637.4h11.3v3.3h-11.3zM1701.2 637.4h28.2v3.3h-28.2zM571.2 640.7h17.0v3.3h-17.0zM610.8 640.7h5.7v3.3h-5.7zM831.1 640.7h56.5v3.3h-56.5zM932.8 640.7h17.0v3.3h-17.0zM983.6 640.7h22.6v3.3h-22.6zM1209.7 640.7h11.3v3.3h-11.3zM1260.5 640.7h5.7v3.3h-5.7zM1356.6 640.7h17.0v3.3h-17.0zM1441.3 640.7h22.6v3.3h-22.6zM1520.4 640.7h17.0v3.3h-17.0zM1554.3 640.7h5.7v3.3h-5.7zM1656.0 640.7h67.8v3.3h-67.8zM294.3 644.0h22.6v3.3h-22.6zM537.3 644.0h5.7v3.3h-5.7zM548.6 644.0h22.6v3.3h-22.6zM831.1 644.0h45.2v3.3h-45.2zM887.6 644.0h22.6v3.3h-22.6zM972.4 644.0h28.2v3.3h-28.2zM1006.2 644.0h22.6v3.3h-22.6zM1141.8 644.0h17.0v3.3h-17.0zM1260.5 644.0h28.2v3.3h-28.2zM1300.1 644.0h50.9v3.3h-50.9zM1684.2 644.0h45.2v3.3h-45.2zM548.6 647.3h45.2v3.3h-45.2zM599.5 647.3h11.3v3.3h-11.3zM949.8 647.3h56.5v3.3h-56.5zM1023.2 647.3h5.7v3.3h-5.7zM1232.2 647.3h11.3v3.3h-11.3zM1260.5 647.3h28.2v3.3h-28.2zM1379.2 647.3h56.5v3.3h-56.5zM1509.1 647.3h28.2v3.3h-28.2zM1667.3 647.3h33.9v3.3h-33.9zM294.3 650.6h28.2v3.3h-28.2zM537.3 650.6h22.6v3.3h-22.6zM582.5 650.6h11.3v3.3h-11.3zM870.6 650.6h39.6v3.3h-39.6zM932.8 650.6h22.6v3.3h-22.6zM966.7 650.6h39.6v3.3h-39.6zM1062.8 650.6h79.1v3.3h-79.1zM1260.5 650.6h17.0v3.3h-17.0zM1300.1 650.6h33.9v3.3h-33.9zM1401.8 650.6h5.7v3.3h-5.7zM1644.7 650.6h39.6v3.3h-39.6zM373.4 653.9h22.6v3.3h-22.6zM554.2 653.9h50.9v3.3h-50.9zM610.8 653.9h5.7v3.3h-5.7zM831.1 653.9h22.6v3.3h-22.6zM961.1 653.9h28.2v3.3h-28.2zM1113.6 653.9h11.3v3.3h-11.3zM1260.5 653.9h17.0v3.3h-17.0zM1300.1 653.9h33.9v3.3h-33.9zM1350.9 653.9h11.3v3.3h-11.3zM1656.0 653.9h73.5v3.3h-73.5zM554.2 657.2h22.6v3.3h-22.6zM831.1 657.2h11.3v3.3h-11.3zM859.4 657.2h22.6v3.3h-22.6zM932.8 657.2h28.2v3.3h-28.2zM1000.6 657.2h5.7v3.3h-5.7zM1209.7 657.2h22.6v3.3h-22.6zM1237.9 657.2h5.7v3.3h-5.7zM1277.5 657.2h22.6v3.3h-22.6zM1339.6 657.2h101.7v3.3h-101.7zM1509.1 657.2h62.2v3.3h-62.2zM1616.5 657.2h11.3v3.3h-11.3zM554.2 660.5h39.6v3.3h-39.6zM599.5 660.5h5.7v3.3h-5.7zM865.0 660.5h45.2v3.3h-45.2zM915.9 660.5h17.0v3.3h-17.0zM978.0 660.5h28.2v3.3h-28.2zM1181.4 660.5h11.3v3.3h-11.3zM1379.2 660.5h56.5v3.3h-56.5zM1475.2 660.5h5.7v3.3h-5.7zM1492.2 660.5h5.7v3.3h-5.7zM1678.6 660.5h11.3v3.3h-11.3zM554.2 663.8h39.6v3.3h-39.6zM904.6 663.8h5.7v3.3h-5.7zM932.8 663.8h45.2v3.3h-45.2zM989.3 663.8h39.6v3.3h-39.6zM1221.0 663.8h11.3v3.3h-11.3zM1277.5 663.8h22.6v3.3h-22.6zM1441.3 663.8h22.6v3.3h-22.6zM1469.6 663.8h56.5v3.3h-56.5zM1622.1 663.8h11.3v3.3h-11.3zM1639.1 663.8h17.0v3.3h-17.0zM1712.5 663.8h17.0v3.3h-17.0zM333.9 667.1h33.9v3.3h-33.9zM537.3 667.1h11.3v3.3h-11.3zM554.2 667.1h5.7v3.3h-5.7zM576.9 667.1h5.7v3.3h-5.7zM593.8 667.1h11.3v3.3h-11.3zM831.1 667.1h62.2v3.3h-62.2zM915.9 667.1h17.0v3.3h-17.0zM955.4 667.1h50.9v3.3h-50.9zM1062.8 667.1h90.4v3.3h-90.4zM1271.8 667.1h28.2v3.3h-28.2zM1418.7 667.1h22.6v3.3h-22.6zM1543.0 667.1h28.2v3.3h-28.2zM384.8 670.4h33.9v3.3h-33.9zM548.6 670.4h45.2v3.3h-45.2zM831.1 670.4h79.1v3.3h-79.1zM966.7 670.4h39.6v3.3h-39.6zM1091.0 670.4h17.0v3.3h-17.0zM1260.5 670.4h39.6v3.3h-39.6zM1350.9 670.4h56.5v3.3h-56.5zM1430.0 670.4h11.3v3.3h-11.3zM1576.9 670.4h33.9v3.3h-33.9zM554.2 673.7h39.6v3.3h-39.6zM865.0 673.7h33.9v3.3h-33.9zM927.1 673.7h79.1v3.3h-79.1zM1062.8 673.7h28.2v3.3h-28.2zM1260.5 673.7h22.6v3.3h-22.6zM1328.3 673.7h113.0v3.3h-113.0zM1622.1 673.7h50.9v3.3h-50.9zM554.2 677.0h50.9v3.3h-50.9zM842.4 677.0h28.2v3.3h-28.2zM932.8 677.0h73.5v3.3h-73.5zM1023.2 677.0h5.7v3.3h-5.7zM1062.8 677.0h56.5v3.3h-56.5zM1153.2 677.0h22.6v3.3h-22.6zM1209.7 677.0h11.3v3.3h-11.3zM1283.1 677.0h107.4v3.3h-107.4zM1644.7 677.0h50.9v3.3h-50.9zM1712.5 677.0h17.0v3.3h-17.0zM537.3 680.3h11.3v3.3h-11.3zM554.2 680.3h17.0v3.3h-17.0zM582.5 680.3h11.3v3.3h-11.3zM610.8 680.3h5.7v3.3h-5.7zM831.1 680.3h79.1v3.3h-79.1zM915.9 680.3h62.2v3.3h-62.2zM1062.8 680.3h17.0v3.3h-17.0zM1158.8 680.3h33.9v3.3h-33.9zM1237.9 680.3h5.7v3.3h-5.7zM1260.5 680.3h79.1v3.3h-79.1zM1627.8 680.3h50.9v3.3h-50.9zM1701.2 680.3h28.2v3.3h-28.2zM396.0 683.6h22.6v3.3h-22.6zM554.2 683.6h39.6v3.3h-39.6zM848.1 683.6h28.2v3.3h-28.2zM932.8 683.6h62.2v3.3h-62.2zM1119.2 683.6h73.5v3.3h-73.5zM1260.5 683.6h28.2v3.3h-28.2zM1350.9 683.6h56.5v3.3h-56.5zM1452.6 683.6h28.2v3.3h-28.2zM1543.0 683.6h5.7v3.3h-5.7zM1673.0 683.6h5.7v3.3h-5.7zM1701.2 683.6h28.2v3.3h-28.2zM537.3 686.9h11.3v3.3h-11.3zM565.5 686.9h39.6v3.3h-39.6zM831.1 686.9h79.1v3.3h-79.1zM915.9 686.9h17.0v3.3h-17.0zM1006.2 686.9h22.6v3.3h-22.6zM1119.2 686.9h45.2v3.3h-45.2zM1181.4 686.9h11.3v3.3h-11.3zM1260.5 686.9h28.2v3.3h-28.2zM1554.3 686.9h33.9v3.3h-33.9zM1610.8 686.9h118.7v3.3h-118.7zM576.9 690.2h33.9v3.3h-33.9zM831.1 690.2h79.1v3.3h-79.1zM915.9 690.2h90.4v3.3h-90.4zM1102.3 690.2h22.6v3.3h-22.6zM1260.5 690.2h28.2v3.3h-28.2zM1300.1 690.2h17.0v3.3h-17.0zM1661.7 690.2h62.2v3.3h-62.2zM537.3 693.5h5.7v3.3h-5.7zM548.6 693.5h45.2v3.3h-45.2zM831.1 693.5h56.5v3.3h-56.5zM932.8 693.5h45.2v3.3h-45.2zM1062.8 693.5h56.5v3.3h-56.5zM1260.5 693.5h5.7v3.3h-5.7zM1300.1 693.5h56.5v3.3h-56.5zM1390.5 693.5h45.2v3.3h-45.2zM1452.6 693.5h56.5v3.3h-56.5zM1701.2 693.5h28.2v3.3h-28.2zM294.3 696.8h5.7v3.3h-5.7zM554.2 696.8h11.3v3.3h-11.3zM588.1 696.8h11.3v3.3h-11.3zM831.1 696.8h39.6v3.3h-39.6zM955.4 696.8h50.9v3.3h-50.9zM1260.5 696.8h11.3v3.3h-11.3zM1288.8 696.8h5.7v3.3h-5.7zM1537.3 696.8h17.0v3.3h-17.0zM537.3 700.1h5.7v3.3h-5.7zM554.2 700.1h45.2v3.3h-45.2zM656.0 700.1h11.3v3.3h-11.3zM831.1 700.1h28.2v3.3h-28.2zM898.9 700.1h11.3v3.3h-11.3zM915.9 700.1h113.0v3.3h-113.0zM1124.9 700.1h45.2v3.3h-45.2zM1181.4 700.1h11.3v3.3h-11.3zM1458.2 700.1h22.6v3.3h-22.6zM1531.7 700.1h84.8v3.3h-84.8zM1701.2 700.1h28.2v3.3h-28.2zM543.0 703.4h50.9v3.3h-50.9zM599.5 703.4h17.0v3.3h-17.0zM831.1 703.4h79.1v3.3h-79.1zM915.9 703.4h101.7v3.3h-101.7zM1260.5 703.4h17.0v3.3h-17.0zM1311.3 703.4h130.0v3.3h-130.0zM1509.1 703.4h28.2v3.3h-28.2zM1554.3 703.4h22.6v3.3h-22.6zM1701.2 703.4h28.2v3.3h-28.2zM554.2 706.7h39.6v3.3h-39.6zM882.0 706.7h28.2v3.3h-28.2zM915.9 706.7h84.8v3.3h-84.8zM1119.2 706.7h50.9v3.3h-50.9zM1283.1 706.7h17.0v3.3h-17.0zM1317.0 706.7h17.0v3.3h-17.0zM1430.0 706.7h39.6v3.3h-39.6zM1520.4 706.7h17.0v3.3h-17.0zM1650.3 706.7h62.2v3.3h-62.2zM543.0 710.0h5.7v3.3h-5.7zM559.9 710.0h33.9v3.3h-33.9zM859.4 710.0h45.2v3.3h-45.2zM932.8 710.0h45.2v3.3h-45.2zM995.0 710.0h11.3v3.3h-11.3zM1062.8 710.0h113.0v3.3h-113.0zM1209.7 710.0h17.0v3.3h-17.0zM1288.8 710.0h45.2v3.3h-45.2zM1430.0 710.0h62.2v3.3h-62.2zM294.3 713.3h62.2v3.3h-62.2zM543.0 713.3h22.6v3.3h-22.6zM571.2 713.3h22.6v3.3h-22.6zM831.1 713.3h45.2v3.3h-45.2zM893.2 713.3h17.0v3.3h-17.0zM915.9 713.3h45.2v3.3h-45.2zM972.4 713.3h33.9v3.3h-33.9zM1017.6 713.3h11.3v3.3h-11.3zM1209.7 713.3h11.3v3.3h-11.3zM1260.5 713.3h22.6v3.3h-22.6zM1300.1 713.3h62.2v3.3h-62.2zM1441.3 713.3h90.4v3.3h-90.4zM554.2 716.6h5.7v3.3h-5.7zM571.2 716.6h22.6v3.3h-22.6zM599.5 716.6h5.7v3.3h-5.7zM853.7 716.6h50.9v3.3h-50.9zM915.9 716.6h107.4v3.3h-107.4zM1215.3 716.6h22.6v3.3h-22.6zM1260.5 716.6h33.9v3.3h-33.9zM1300.1 716.6h62.2v3.3h-62.2zM1401.8 716.6h39.6v3.3h-39.6zM1497.8 716.6h39.6v3.3h-39.6zM1554.3 716.6h50.9v3.3h-50.9zM554.2 719.9h39.6v3.3h-39.6zM605.1 719.9h11.3v3.3h-11.3zM932.8 719.9h67.8v3.3h-67.8zM1006.2 719.9h22.6v3.3h-22.6zM1277.5 719.9h17.0v3.3h-17.0zM1610.8 719.9h33.9v3.3h-33.9zM1712.5 719.9h17.0v3.3h-17.0zM554.2 723.2h17.0v3.3h-17.0zM582.5 723.2h11.3v3.3h-11.3zM831.1 723.2h79.1v3.3h-79.1zM932.8 723.2h67.8v3.3h-67.8zM1158.8 723.2h33.9v3.3h-33.9zM1260.5 723.2h39.6v3.3h-39.6zM1424.3 723.2h56.5v3.3h-56.5zM1554.3 723.2h22.6v3.3h-22.6z"/>
<path fill="#e828cb" d="M514.7 380.0h33.9v3.3h-33.9zM752.0 380.0h56.5v3.3h-56.5zM819.8 380.0h11.3v3.3h-11.3zM1237.9 380.0h28.2v3.3h-28.2zM514.7 383.3h33.9v3.3h-33.9zM752.0 383.3h56.5v3.3h-56.5zM819.8 383.3h11.3v3.3h-11.3zM1237.9 383.3h28.2v3.3h-28.2zM514.7 386.6h33.9v3.3h-33.9zM752.0 386.6h56.5v3.3h-56.5zM819.8 386.6h11.3v3.3h-11.3zM1237.9 386.6h28.2v3.3h-28.2zM514.7 389.9h33.9v3.3h-33.9zM752.0 389.9h56.5v3.3h-56.5zM819.8 389.9h11.3v3.3h-11.3zM1237.9 389.9h28.2v3.3h-28.2zM514.7 393.2h33.9v3.3h-33.9zM752.0 393.2h56.5v3.3h-56.5zM819.8 393.2h11.3v3.3h-11.3zM1237.9 393.2h28.2v3.3h-28.2zM514.7 396.5h33.9v3.3h-33.9zM752.0 396.5h56.5v3.3h-56.5zM819.8 396.5h11.3v3.3h-11.3zM1237.9 396.5h28.2v3.3h-28.2zM514.7 399.8h33.9v3.3h-33.9zM752.0 399.8h56.5v3.3h-56.5zM819.8 399.8h11.3v3.3h-11.3zM1237.9 399.8h28.2v3.3h-28.2zM514.7 403.1h33.9v3.3h-33.9zM752.0 403.1h56.5v3.3h-56.5zM819.8 403.1h11.3v3.3h-11.3zM1237.9 403.1h28.2v3.3h-28.2zM497.8 406.4h79.1v3.3h-79.1zM774.6 406.4h33.9v3.3h-33.9zM819.8 406.4h11.3v3.3h-11.3zM1136.2 406.4h17.0v3.3h-17.0zM1237.9 406.4h28.2v3.3h-28.2zM1418.7 406.4h50.9v3.3h-50.9zM1480.8 406.4h33.9v3.3h-33.9zM1678.6 406.4h33.9v3.3h-33.9zM514.7 409.7h33.9v3.3h-33.9zM774.6 409.7h17.0v3.3h-17.0zM1085.3 409.7h39.6v3.3h-39.6zM1237.9 409.7h28.2v3.3h-28.2zM1345.2 409.7h39.6v3.3h-39.6zM396.0 413.0h22.6v3.3h-22.6zM452.5 413.0h17.0v3.3h-17.0zM514.7 413.0h33.9v3.3h-33.9zM774.6 413.0h17.0v3.3h-17.0zM1057.1 413.0h22.6v3.3h-22.6zM1237.9 413.0h28.2v3.3h-28.2zM1413.1 413.0h22.6v3.3h-22.6zM1656.0 413.0h56.5v3.3h-56.5zM514.7 416.3h33.9v3.3h-33.9zM752.0 416.3h22.6v3.3h-22.6zM797.2 416.3h11.3v3.3h-11.3zM814.1 416.3h17.0v3.3h-17.0zM1237.9 416.3h28.2v3.3h-28.2zM752.0 419.6h22.6v3.3h-22.6zM797.2 419.6h11.3v3.3h-11.3zM814.1 419.6h17.0v3.3h-17.0zM1237.9 419.6h28.2v3.3h-28.2zM1656.0 419.6h73.5v3.3h-73.5zM514.7 422.9h33.9v3.3h-33.9zM797.2 422.9h11.3v3.3h-11.3zM814.1 422.9h17.0v3.3h-17.0zM1237.9 422.9h28.2v3.3h-28.2zM514.7 426.2h33.9v3.3h-33.9zM752.0 426.2h56.5v3.3h-56.5zM814.1 426.2h17.0v3.3h-17.0zM1237.9 426.2h28.2v3.3h-28.2zM1695.6 426.2h28.2v3.3h-28.2zM514.7 429.5h33.9v3.3h-33.9zM701.1 429.5h28.2v3.3h-28.2zM780.2 429.5h28.2v3.3h-28.2zM814.1 429.5h17.0v3.3h-17.0zM1045.8 429.5h305.1v3.3h-305.1zM514.7 432.8h33.9v3.3h-33.9zM780.2 432.8h28.2v3.3h-28.2zM814.1 432.8h17.0v3.3h-17.0zM1237.9 432.8h28.2v3.3h-28.2zM514.7 436.1h33.9v3.3h-33.9zM780.2 436.1h28.2v3.3h-28.2zM814.1 436.1h17.0v3.3h-17.0zM1237.9 436.1h28.2v3.3h-28.2zM514.7 439.4h33.9v3.3h-33.9zM752.0 439.4h56.5v3.3h-56.5zM814.1 439.4h17.0v3.3h-17.0zM1237.9 439.4h28.2v3.3h-28.2zM514.7 442.7h33.9v3.3h-33.9zM797.2 442.7h11.3v3.3h-11.3zM814.1 442.7h17.0v3.3h-17.0zM1237.9 442.7h28.2v3.3h-28.2zM1288.8 442.7h22.6v3.3h-22.6zM514.7 446.0h33.9v3.3h-33.9zM797.2 446.0h11.3v3.3h-11.3zM814.1 446.0h17.0v3.3h-17.0zM1237.9 446.0h28.2v3.3h-28.2zM514.7 449.3h33.9v3.3h-33.9zM797.2 449.3h11.3v3.3h-11.3zM814.1 449.3h17.0v3.3h-17.0zM1237.9 449.3h28.2v3.3h-28.2zM514.7 452.6h33.9v3.3h-33.9zM797.2 452.6h11.3v3.3h-11.3zM814.1 452.6h17.0v3.3h-17.0zM1237.9 452.6h28.2v3.3h-28.2zM514.7 455.9h33.9v3.3h-33.9zM797.2 455.9h11.3v3.3h-11.3zM814.1 455.9h17.0v3.3h-17.0zM1237.9 455.9h28.2v3.3h-28.2zM514.7 459.2h33.9v3.3h-33.9zM797.2 459.2h11.3v3.3h-11.3zM814.1 459.2h17.0v3.3h-17.0zM1237.9 459.2h28.2v3.3h-28.2zM514.7 462.5h33.9v3.3h-33.9zM797.2 462.5h11.3v3.3h-11.3zM814.1 462.5h17.0v3.3h-17.0zM1237.9 462.5h28.2v3.3h-28.2zM514.7 465.8h33.9v3.3h-33.9zM797.2 465.8h11.3v3.3h-11.3zM814.1 465.8h17.0v3.3h-17.0zM1237.9 465.8h28.2v3.3h-28.2zM514.7 469.1h33.9v3.3h-33.9zM712.5 469.1h22.6v3.3h-22.6zM797.2 469.1h11.3v3.3h-11.3zM814.1 469.1h5.7v3.3h-5.7zM904.6 469.1h17.0v3.3h-17.0zM1237.9 469.1h28.2v3.3h-28.2zM514.7 472.4h33.9v3.3h-33.9zM797.2 472.4h11.3v3.3h-11.3zM814.1 472.4h5.7v3.3h-5.7zM1237.9 472.4h28.2v3.3h-28.2zM1622.1 472.4h39.6v3.3h-39.6zM514.7 475.7h33.9v3.3h-33.9zM701.1 475.7h231.7v3.3h-231.7zM1237.9 475.7h28.2v3.3h-28.2zM1356.6 475.7h22.6v3.3h-22.6zM1622.1 475.7h39.6v3.3h-39.6zM514.7 479.0h33.9v3.3h-33.9zM797.2 479.0h11.3v3.3h-11.3zM814.1 479.0h5.7v3.3h-5.7zM1237.9 479.0h28.2v3.3h-28.2zM300.0 482.3h28.2v3.3h-28.2zM514.7 482.3h33.9v3.3h-33.9zM797.2 482.3h11.3v3.3h-11.3zM814.1 482.3h5.7v3.3h-5.7zM1237.9 482.3h28.2v3.3h-28.2zM514.7 485.6h33.9v3.3h-33.9zM797.2 485.6h11.3v3.3h-11.3zM814.1 485.6h5.7v3.3h-5.7zM1237.9 485.6h28.2v3.3h-28.2zM1622.1 485.6h17.0v3.3h-17.0zM514.7 488.9h33.9v3.3h-33.9zM797.2 488.9h22.6v3.3h-22.6zM1237.9 488.9h28.2v3.3h-28.2zM1622.1 488.9h39.6v3.3h-39.6zM514.7 492.2h33.9v3.3h-33.9zM797.2 492.2h22.6v3.3h-22.6zM1237.9 492.2h28.2v3.3h-28.2zM514.7 495.5h33.9v3.3h-33.9zM797.2 495.5h22.6v3.3h-22.6zM1237.9 495.5h28.2v3.3h-28.2zM514.7 498.8h33.9v3.3h-33.9zM797.2 498.8h33.9v3.3h-33.9zM1237.9 498.8h28.2v3.3h-28.2zM339.5 502.1h45.2v3.3h-45.2zM514.7 502.1h33.9v3.3h-33.9zM819.8 502.1h11.3v3.3h-11.3zM1237.9 502.1h28.2v3.3h-28.2zM514.7 505.4h33.9v3.3h-33.9zM797.2 505.4h33.9v3.3h-33.9zM1237.9 505.4h28.2v3.3h-28.2zM407.4 508.7h11.3v3.3h-11.3zM424.3 508.7h22.6v3.3h-22.6zM514.7 508.7h33.9v3.3h-33.9zM797.2 508.7h33.9v3.3h-33.9zM1237.9 508.7h28.2v3.3h-28.2zM514.7 512.0h33.9v3.3h-33.9zM1000.6 512.0h186.5v3.3h-186.5zM1237.9 512.0h28.2v3.3h-28.2zM1288.8 512.0h33.9v3.3h-33.9zM514.7 515.3h33.9v3.3h-33.9zM1000.6 515.3h186.5v3.3h-186.5zM1237.9 515.3h28.2v3.3h-28.2zM1288.8 515.3h33.9v3.3h-33.9zM514.7 518.6h33.9v3.3h-33.9zM797.2 518.6h33.9v3.3h-33.9zM1237.9 518.6h28.2v3.3h-28.2zM514.7 521.9h33.9v3.3h-33.9zM797.2 521.9h33.9v3.3h-33.9zM1237.9 521.9h28.2v3.3h-28.2zM514.7 525.2h33.9v3.3h-33.9zM797.2 525.2h33.9v3.3h-33.9zM1237.9 525.2h28.2v3.3h-28.2zM514.7 528.5h33.9v3.3h-33.9zM797.2 528.5h33.9v3.3h-33.9zM1237.9 528.5h28.2v3.3h-28.2zM1605.2 528.5h22.6v3.3h-22.6zM514.7 531.8h33.9v3.3h-33.9zM797.2 531.8h33.9v3.3h-33.9zM1237.9 531.8h28.2v3.3h-28.2zM509.0 535.1h17.0v3.3h-17.0zM537.3 535.1h11.3v3.3h-11.3zM627.7 535.1h33.9v3.3h-33.9zM791.5 535.1h5.7v3.3h-5.7zM300.0 538.4h39.6v3.3h-39.6zM509.0 538.4h17.0v3.3h-17.0zM537.3 538.4h11.3v3.3h-11.3zM791.5 538.4h5.7v3.3h-5.7zM825.5 538.4h5.7v3.3h-5.7zM848.1 538.4h45.2v3.3h-45.2zM1034.5 538.4h33.9v3.3h-33.9zM1243.6 538.4h17.0v3.3h-17.0zM1622.1 538.4h39.6v3.3h-39.6zM509.0 541.7h17.0v3.3h-17.0zM537.3 541.7h11.3v3.3h-11.3zM785.9 541.7h11.3v3.3h-11.3zM825.5 541.7h5.7v3.3h-5.7zM509.0 545.0h17.0v3.3h-17.0zM537.3 545.0h11.3v3.3h-11.3zM808.5 545.0h11.3v3.3h-11.3zM825.5 545.0h5.7v3.3h-5.7zM1300.1 545.0h163.9v3.3h-163.9zM1469.6 545.0h107.4v3.3h-107.4zM509.0 548.3h17.0v3.3h-17.0zM537.3 548.3h11.3v3.3h-11.3zM785.9 548.3h11.3v3.3h-11.3zM808.5 548.3h22.6v3.3h-22.6zM509.0 551.6h17.0v3.3h-17.0zM537.3 551.6h11.3v3.3h-11.3zM785.9 551.6h11.3v3.3h-11.3zM808.5 551.6h124.3v3.3h-124.3zM1215.3 551.6h90.4v3.3h-90.4zM1616.5 551.6h50.9v3.3h-50.9zM509.0 554.9h17.0v3.3h-17.0zM537.3 554.9h11.3v3.3h-11.3zM808.5 554.9h22.6v3.3h-22.6zM305.6 558.2h17.0v3.3h-17.0zM509.0 558.2h17.0v3.3h-17.0zM537.3 558.2h11.3v3.3h-11.3zM785.9 558.2h5.7v3.3h-5.7zM819.8 558.2h5.7v3.3h-5.7zM1243.6 558.2h17.0v3.3h-17.0zM509.0 561.5h17.0v3.3h-17.0zM537.3 561.5h11.3v3.3h-11.3zM808.5 561.5h22.6v3.3h-22.6zM1215.3 561.5h248.6v3.3h-248.6zM1469.6 561.5h197.8v3.3h-197.8zM288.7 564.8h39.6v3.3h-39.6zM509.0 564.8h17.0v3.3h-17.0zM537.3 564.8h11.3v3.3h-11.3zM785.9 564.8h11.3v3.3h-11.3zM825.5 564.8h5.7v3.3h-5.7zM887.6 564.8h33.9v3.3h-33.9zM1011.9 564.8h180.8v3.3h-180.8zM509.0 568.1h17.0v3.3h-17.0zM537.3 568.1h11.3v3.3h-11.3zM808.5 568.1h11.3v3.3h-11.3zM509.0 571.4h17.0v3.3h-17.0zM537.3 571.4h11.3v3.3h-11.3zM650.3 571.4h39.6v3.3h-39.6zM746.4 571.4h50.9v3.3h-50.9zM808.5 571.4h22.6v3.3h-22.6zM1243.6 571.4h17.0v3.3h-17.0zM1639.1 571.4h39.6v3.3h-39.6zM509.0 574.7h17.0v3.3h-17.0zM537.3 574.7h11.3v3.3h-11.3zM785.9 574.7h11.3v3.3h-11.3zM825.5 574.7h5.7v3.3h-5.7zM1006.2 574.7h209.1v3.3h-209.1zM1441.3 574.7h22.6v3.3h-22.6zM1469.6 574.7h67.8v3.3h-67.8zM1554.3 574.7h107.4v3.3h-107.4zM509.0 578.0h17.0v3.3h-17.0zM537.3 578.0h11.3v3.3h-11.3zM785.9 578.0h11.3v3.3h-11.3zM808.5 578.0h22.6v3.3h-22.6zM1243.6 578.0h130.0v3.3h-130.0zM1396.1 578.0h45.2v3.3h-45.2zM509.0 581.3h17.0v3.3h-17.0zM537.3 581.3h11.3v3.3h-11.3zM808.5 581.3h22.6v3.3h-22.6zM1243.6 581.3h17.0v3.3h-17.0zM509.0 584.6h17.0v3.3h-17.0zM537.3 584.6h11.3v3.3h-11.3zM757.7 584.6h39.6v3.3h-39.6zM808.5 584.6h17.0v3.3h-17.0zM887.6 584.6h39.6v3.3h-39.6zM1243.6 584.6h17.0v3.3h-17.0zM1605.2 584.6h22.6v3.3h-22.6zM509.0 587.9h17.0v3.3h-17.0zM537.3 587.9h11.3v3.3h-11.3zM785.9 587.9h5.7v3.3h-5.7zM814.1 587.9h17.0v3.3h-17.0zM1051.5 587.9h28.2v3.3h-28.2zM1322.7 587.9h50.9v3.3h-50.9zM1565.6 587.9h28.2v3.3h-28.2zM509.0 591.2h17.0v3.3h-17.0zM537.3 591.2h11.3v3.3h-11.3zM661.6 591.2h39.6v3.3h-39.6zM785.9 591.2h11.3v3.3h-11.3zM819.8 591.2h11.3v3.3h-11.3zM1243.6 591.2h17.0v3.3h-17.0zM509.0 594.5h17.0v3.3h-17.0zM537.3 594.5h11.3v3.3h-11.3zM785.9 594.5h5.7v3.3h-5.7zM808.5 594.5h5.7v3.3h-5.7zM1141.8 594.5h39.6v3.3h-39.6zM1243.6 594.5h17.0v3.3h-17.0zM509.0 597.8h17.0v3.3h-17.0zM537.3 597.8h11.3v3.3h-11.3zM785.9 597.8h11.3v3.3h-11.3zM808.5 597.8h22.6v3.3h-22.6zM989.3 597.8h33.9v3.3h-33.9zM1243.6 597.8h17.0v3.3h-17.0zM1322.7 597.8h50.9v3.3h-50.9zM1616.5 597.8h50.9v3.3h-50.9zM288.7 601.1h33.9v3.3h-33.9zM509.0 601.1h17.0v3.3h-17.0zM537.3 601.1h11.3v3.3h-11.3zM808.5 601.1h11.3v3.3h-11.3zM825.5 601.1h5.7v3.3h-5.7zM509.0 604.4h17.0v3.3h-17.0zM537.3 604.4h11.3v3.3h-11.3zM785.9 604.4h5.7v3.3h-5.7zM819.8 604.4h5.7v3.3h-5.7zM1243.6 604.4h17.0v3.3h-17.0zM509.0 607.7h17.0v3.3h-17.0zM537.3 607.7h11.3v3.3h-11.3zM661.6 607.7h39.6v3.3h-39.6zM785.9 607.7h11.3v3.3h-11.3zM808.5 607.7h5.7v3.3h-5.7zM825.5 607.7h5.7v3.3h-5.7zM509.0 611.0h17.0v3.3h-17.0zM537.3 611.0h11.3v3.3h-11.3zM785.9 611.0h11.3v3.3h-11.3zM814.1 611.0h11.3v3.3h-11.3zM831.1 611.0h79.1v3.3h-79.1zM915.9 611.0h113.0v3.3h-113.0zM1034.5 611.0h163.9v3.3h-163.9zM1243.6 611.0h17.0v3.3h-17.0zM1610.8 611.0h56.5v3.3h-56.5zM288.7 614.3h22.6v3.3h-22.6zM509.0 614.3h17.0v3.3h-17.0zM537.3 614.3h11.3v3.3h-11.3zM819.8 614.3h11.3v3.3h-11.3zM1243.6 614.3h50.9v3.3h-50.9zM1627.8 614.3h22.6v3.3h-22.6zM509.0 617.6h17.0v3.3h-17.0zM537.3 617.6h11.3v3.3h-11.3zM808.5 617.6h22.6v3.3h-22.6zM1243.6 617.6h17.0v3.3h-17.0zM509.0 620.9h17.0v3.3h-17.0zM537.3 620.9h11.3v3.3h-11.3zM808.5 620.9h22.6v3.3h-22.6zM1243.6 620.9h17.0v3.3h-17.0zM1627.8 620.9h22.6v3.3h-22.6zM537.3 624.2h11.3v3.3h-11.3zM785.9 624.2h11.3v3.3h-11.3zM819.8 624.2h11.3v3.3h-11.3zM1243.6 624.2h17.0v3.3h-17.0zM514.7 627.5h11.3v3.3h-11.3zM537.3 627.5h17.0v3.3h-17.0zM1209.7 627.5h28.2v3.3h-28.2zM1554.3 627.5h28.2v3.3h-28.2zM537.3 630.8h17.0v3.3h-17.0zM791.5 630.8h5.7v3.3h-5.7zM808.5 630.8h22.6v3.3h-22.6zM1243.6 630.8h17.0v3.3h-17.0zM1644.7 630.8h22.6v3.3h-22.6zM294.3 634.1h17.0v3.3h-17.0zM509.0 634.1h17.0v3.3h-17.0zM543.0 634.1h5.7v3.3h-5.7zM791.5 634.1h5.7v3.3h-5.7zM819.8 634.1h11.3v3.3h-11.3zM1311.3 634.1h169.5v3.3h-169.5zM1492.2 634.1h45.2v3.3h-45.2zM1554.3 634.1h96.1v3.3h-96.1zM520.4 637.4h5.7v3.3h-5.7zM785.9 637.4h5.7v3.3h-5.7zM808.5 637.4h22.6v3.3h-22.6zM1091.0 637.4h22.6v3.3h-22.6zM1260.5 637.4h22.6v3.3h-22.6zM1520.4 637.4h17.0v3.3h-17.0zM509.0 640.7h17.0v3.3h-17.0zM537.3 640.7h5.7v3.3h-5.7zM548.6 640.7h5.7v3.3h-5.7zM791.5 640.7h5.7v3.3h-5.7zM808.5 640.7h22.6v3.3h-22.6zM1091.0 640.7h22.6v3.3h-22.6zM1622.1 640.7h22.6v3.3h-22.6zM316.9 644.0h39.6v3.3h-39.6zM379.1 644.0h17.0v3.3h-17.0zM520.4 644.0h5.7v3.3h-5.7zM785.9 644.0h11.3v3.3h-11.3zM819.8 644.0h11.3v3.3h-11.3zM1243.6 644.0h17.0v3.3h-17.0zM1554.3 644.0h39.6v3.3h-39.6zM520.4 647.3h5.7v3.3h-5.7zM785.9 647.3h11.3v3.3h-11.3zM808.5 647.3h22.6v3.3h-22.6zM1243.6 647.3h17.0v3.3h-17.0zM785.9 650.6h5.7v3.3h-5.7zM808.5 650.6h17.0v3.3h-17.0zM1243.6 650.6h17.0v3.3h-17.0zM1356.6 650.6h45.2v3.3h-45.2zM1463.9 650.6h17.0v3.3h-17.0zM1492.2 650.6h45.2v3.3h-45.2zM1554.3 650.6h28.2v3.3h-28.2zM345.2 653.9h17.0v3.3h-17.0zM514.7 653.9h11.3v3.3h-11.3zM537.3 653.9h5.7v3.3h-5.7zM548.6 653.9h5.7v3.3h-5.7zM1243.6 653.9h17.0v3.3h-17.0zM1430.0 653.9h28.2v3.3h-28.2zM1622.1 653.9h33.9v3.3h-33.9zM543.0 657.2h11.3v3.3h-11.3zM808.5 657.2h22.6v3.3h-22.6zM1243.6 657.2h17.0v3.3h-17.0zM520.4 660.5h5.7v3.3h-5.7zM785.9 660.5h11.3v3.3h-11.3zM808.5 660.5h22.6v3.3h-22.6zM1124.9 660.5h56.5v3.3h-56.5zM1243.6 660.5h39.6v3.3h-39.6zM1554.3 660.5h33.9v3.3h-33.9zM509.0 663.8h11.3v3.3h-11.3zM548.6 663.8h5.7v3.3h-5.7zM785.9 663.8h11.3v3.3h-11.3zM808.5 663.8h22.6v3.3h-22.6zM1124.9 663.8h56.5v3.3h-56.5zM1526.1 663.8h11.3v3.3h-11.3zM1554.3 663.8h67.8v3.3h-67.8zM1633.4 663.8h5.7v3.3h-5.7zM458.2 667.1h22.6v3.3h-22.6zM509.0 667.1h5.7v3.3h-5.7zM548.6 667.1h5.7v3.3h-5.7zM785.9 667.1h11.3v3.3h-11.3zM814.1 667.1h17.0v3.3h-17.0zM1243.6 667.1h17.0v3.3h-17.0zM1322.7 667.1h50.9v3.3h-50.9zM1667.3 667.1h62.2v3.3h-62.2zM509.0 670.4h11.3v3.3h-11.3zM537.3 670.4h11.3v3.3h-11.3zM785.9 670.4h11.3v3.3h-11.3zM808.5 670.4h22.6v3.3h-22.6zM1667.3 670.4h62.2v3.3h-62.2zM497.8 673.7h28.2v3.3h-28.2zM543.0 673.7h11.3v3.3h-11.3zM791.5 673.7h5.7v3.3h-5.7zM808.5 673.7h22.6v3.3h-22.6zM1243.6 673.7h17.0v3.3h-17.0zM1458.2 673.7h11.3v3.3h-11.3zM1475.2 673.7h146.9v3.3h-146.9zM514.7 677.0h11.3v3.3h-11.3zM537.3 677.0h5.7v3.3h-5.7zM785.9 677.0h5.7v3.3h-5.7zM808.5 677.0h22.6v3.3h-22.6zM520.4 680.3h5.7v3.3h-5.7zM548.6 680.3h5.7v3.3h-5.7zM706.8 680.3h62.2v3.3h-62.2zM1079.7 680.3h33.9v3.3h-33.9zM1339.6 680.3h141.2v3.3h-141.2zM1492.2 680.3h90.4v3.3h-90.4zM305.6 683.6h39.6v3.3h-39.6zM509.0 683.6h5.7v3.3h-5.7zM548.6 683.6h5.7v3.3h-5.7zM785.9 683.6h11.3v3.3h-11.3zM819.8 683.6h11.3v3.3h-11.3zM1243.6 683.6h17.0v3.3h-17.0zM1548.7 683.6h39.6v3.3h-39.6zM1678.6 683.6h22.6v3.3h-22.6zM294.3 686.9h11.3v3.3h-11.3zM520.4 686.9h5.7v3.3h-5.7zM548.6 686.9h5.7v3.3h-5.7zM785.9 686.9h11.3v3.3h-11.3zM808.5 686.9h22.6v3.3h-22.6zM458.2 690.2h39.6v3.3h-39.6zM509.0 690.2h17.0v3.3h-17.0zM537.3 690.2h17.0v3.3h-17.0zM808.5 690.2h22.6v3.3h-22.6zM1062.8 690.2h22.6v3.3h-22.6zM1317.0 690.2h220.4v3.3h-220.4zM1554.3 690.2h107.4v3.3h-107.4zM509.0 693.5h11.3v3.3h-11.3zM543.0 693.5h5.7v3.3h-5.7zM791.5 693.5h5.7v3.3h-5.7zM808.5 693.5h22.6v3.3h-22.6zM1243.6 693.5h17.0v3.3h-17.0zM1588.2 693.5h39.6v3.3h-39.6zM300.0 696.8h28.2v3.3h-28.2zM509.0 696.8h17.0v3.3h-17.0zM537.3 696.8h17.0v3.3h-17.0zM785.9 696.8h5.7v3.3h-5.7zM808.5 696.8h5.7v3.3h-5.7zM825.5 696.8h5.7v3.3h-5.7zM1294.4 696.8h175.2v3.3h-175.2zM1503.5 696.8h33.9v3.3h-33.9zM1554.3 696.8h73.5v3.3h-73.5zM390.4 700.1h28.2v3.3h-28.2zM452.5 700.1h11.3v3.3h-11.3zM514.7 700.1h11.3v3.3h-11.3zM543.0 700.1h5.7v3.3h-5.7zM785.9 700.1h11.3v3.3h-11.3zM814.1 700.1h5.7v3.3h-5.7zM1215.3 700.1h226.0v3.3h-226.0zM1616.5 700.1h84.8v3.3h-84.8zM537.3 703.4h5.7v3.3h-5.7zM785.9 703.4h11.3v3.3h-11.3zM808.5 703.4h22.6v3.3h-22.6zM1243.6 703.4h17.0v3.3h-17.0zM1616.5 703.4h84.8v3.3h-84.8zM294.3 706.7h11.3v3.3h-11.3zM509.0 706.7h5.7v3.3h-5.7zM537.3 706.7h11.3v3.3h-11.3zM785.9 706.7h11.3v3.3h-11.3zM808.5 706.7h22.6v3.3h-22.6zM1243.6 706.7h17.0v3.3h-17.0zM1333.9 706.7h96.1v3.3h-96.1zM548.6 710.0h5.7v3.3h-5.7zM785.9 710.0h11.3v3.3h-11.3zM808.5 710.0h22.6v3.3h-22.6zM1243.6 710.0h17.0v3.3h-17.0zM1333.9 710.0h96.1v3.3h-96.1zM1678.6 710.0h22.6v3.3h-22.6zM509.0 713.3h11.3v3.3h-11.3zM537.3 713.3h5.7v3.3h-5.7zM808.5 713.3h22.6v3.3h-22.6zM1141.8 713.3h39.6v3.3h-39.6zM1243.6 713.3h17.0v3.3h-17.0zM1554.3 713.3h39.6v3.3h-39.6zM543.0 716.6h11.3v3.3h-11.3zM701.1 716.6h96.1v3.3h-96.1zM808.5 716.6h11.3v3.3h-11.3zM825.5 716.6h5.7v3.3h-5.7zM509.0 719.9h17.0v3.3h-17.0zM537.3 719.9h17.0v3.3h-17.0zM785.9 719.9h11.3v3.3h-11.3zM808.5 719.9h101.7v3.3h-101.7zM915.9 719.9h17.0v3.3h-17.0zM1322.7 719.9h50.9v3.3h-50.9zM509.0 723.2h17.0v3.3h-17.0zM537.3 723.2h5.7v3.3h-5.7zM785.9 723.2h11.3v3.3h-11.3zM1576.9 723.2h62.2v3.3h-62.2z"/></g>
<defs><pattern id="hmg" x="277.4" y="380" width="11.3" height="9.9" patternUnits="userSpaceOnUse"><path d="M0.3,0 V9.9 M5.95,0 V9.9" stroke="#fff" stroke-width="0.7" stroke-opacity="0.28"/><path d="M0,0.4 H11.3" stroke="#fff" stroke-width="0.8" stroke-opacity="0.3"/></pattern></defs>
<rect x="277.4" y="380" width="1469" height="346.6" fill="url(#hmg)"/>
<rect x="277.4" y="380" width="1469" height="346.6" fill="none" stroke="#000" stroke-width="2.6"/>
<text x="258.6" y="398.9" font-size="20.3" text-anchor="end" fill="#000">100</text>
<text x="258.6" y="432.4" font-size="20.3" text-anchor="end" fill="#000">98</text>
<text x="258.6" y="466.1" font-size="20.3" text-anchor="end" fill="#000">84</text>
<text x="258.6" y="499.3" font-size="20.3" text-anchor="end" fill="#000">76</text>
<text x="258.6" y="533.4" font-size="20.3" text-anchor="end" fill="#000">71</text>
<text x="258.6" y="566.2" font-size="20.3" text-anchor="end" fill="#000">60</text>
<text x="258.6" y="600.2" font-size="20.3" text-anchor="end" fill="#000">58</text>
<text x="258.6" y="633.5" font-size="20.3" text-anchor="end" fill="#000">57</text>
<text x="258.6" y="667.2" font-size="20.3" text-anchor="end" fill="#000">56</text>
<text x="258.6" y="700.4" font-size="20.3" text-anchor="end" fill="#000">55</text>
<text x="242.5" y="340.0" font-size="20.5" text-anchor="middle" fill="#000">% Protein</text>
<text x="243.0" y="361.0" font-size="20.5" text-anchor="middle" fill="#000">Identity</text>
<path d="M212,372 H272" stroke="#000" stroke-width="2"/>
<g stroke="#000" stroke-width="2.4">
<path d="M553.8,726.7 V739.5"/>
<path d="M836,726.7 V739.5"/>
<path d="M1118.6,726.7 V739.5"/>
<path d="M1401,726.7 V739.5"/>
<path d="M1683.6,726.7 V739.5"/>
</g>
<text x="276.0" y="764.0" font-size="23.3" text-anchor="middle" fill="#000">0</text>
<text x="555.2" y="764.0" font-size="23.3" text-anchor="middle" fill="#000">50</text>
<text x="836.5" y="764.0" font-size="23.3" text-anchor="middle" fill="#000">100</text>
<text x="1118.6" y="764.0" font-size="23.3" text-anchor="middle" fill="#000">150</text>
<text x="1401.0" y="764.0" font-size="23.3" text-anchor="middle" fill="#000">200</text>
<text x="1683.6" y="764.0" font-size="23.3" text-anchor="middle" fill="#000">250</text>
<text x="692.6" y="797.5" font-size="29.3" fill="#000">Position Along Alignment of IS110 LE Sequences</text>
<text transform="translate(152,553) rotate(-90)" font-size="29" text-anchor="middle">RNA Structure by</text>
<text transform="translate(182,553) rotate(-90)" font-size="29" text-anchor="middle">Position</text>
<text x="1780.5" y="450.9" font-size="24.8" fill="#000">RNA Structure</text>
<rect x="1785" y="468.1" width="17.2" height="16.6" fill="#e922cc" stroke="#111" stroke-width="1.5"/>
<text x="1813.3" y="486.6" font-size="24.5" fill="#000">Hairpin</text>
<rect x="1785" y="503.7" width="17.2" height="16.6" fill="#85dbf8" stroke="#111" stroke-width="1.5"/>
<text x="1813.3" y="522.2" font-size="24.5" fill="#000">5’ Stem</text>
<rect x="1785" y="539.3" width="17.2" height="16.6" fill="#a79ff7" stroke="#111" stroke-width="1.5"/>
<text x="1813.3" y="557.8" font-size="24.5" fill="#000">3’ Stem</text>
<rect x="1785" y="574.9" width="17.2" height="16.6" fill="#bfbfbf" stroke="#111" stroke-width="1.5"/>
<text x="1813.3" y="593.4" font-size="24.5" fill="#000">Other</text>
<rect x="1785" y="610.5" width="17.2" height="16.6" fill="#ffffff" stroke="#111" stroke-width="1.5"/>
<text x="1813.3" y="629.0" font-size="24.5" fill="#000">Gap</text>
<path d="M1463.6,97.7 V727" stroke="#d9262b" stroke-width="1.9" stroke-dasharray="3.2 2.3" fill="none"/>
<g stroke="#000" stroke-width="2.2" fill="none"><path d="M328.5,1006.7 H332.9"/><path d="M328.5,998.7 H332.9"/><path d="M328.5,990.9 H332.9"/><path d="M328.5,982.0 H332.9"/><path d="M328.5,974.0 H332.9"/><path d="M328.5,892.1 H333.2"/><path d="M328.5,883.9 H333.2"/><path d="M328.5,875.9 H333.2"/><path d="M328.5,867.4 H333.2"/><path d="M710.7,1007.7 H713.9"/><path d="M710.7,999.6 H713.9"/><path d="M710.7,991.2 H713.9"/><path d="M19.8,1013 H23.6"/><path d="M19.8,1270.6 H23.6"/><path d="M79.5,1264.7 H84.1"/><path d="M79.5,1256.9 H84.1"/><path d="M79.5,1248.4 H84.1"/><path d="M79.5,1240.0 H84.1"/><path d="M79.5,1232.0 H84.1"/><path d="M79.5,1223.8 H84.1"/><path d="M137.5,1264.7 H141.8"/><path d="M137.5,1256.9 H141.8"/><path d="M137.5,1248.4 H141.8"/><path d="M137.5,1240.0 H141.8"/><path d="M137.5,1232.0 H141.8"/><path d="M137.5,1223.8 H141.8"/><path d="M137.5,1215.3 H141.8"/><path d="M137.5,1206.9 H141.8"/><path d="M137.5,1198.8 H141.8"/><path d="M137.5,1190.8 H141.8"/><path d="M137.5,1182.0 H141.8"/><path d="M137.5,1174.2 H141.8"/><path d="M137.5,1098.0 H141.8"/><path d="M137.5,1090.2 H141.8"/><path d="M137.5,1081.7 H141.8"/><path d="M137.5,1073.3 H141.8"/><path d="M137.5,1064.8 H141.8"/><path d="M443.4,1265.0 H448.0"/><path d="M443.4,1256.9 H448.0"/><path d="M443.4,1248.4 H448.0"/><path d="M443.4,1240.0 H448.0"/><path d="M443.4,1232.0 H448.0"/><path d="M827.1,1136.0 V1139.7"/><path d="M835.2,1136.0 V1139.7"/><path d="M843.5,1136.0 V1139.7"/><path d="M851.9,1136.0 V1139.7"/><path d="M860.3,1136.0 V1139.7"/><path d="M868.7,1136.0 V1139.7"/><path d="M877.0,1136.0 V1139.7"/><path d="M885.1,1136.0 V1139.7"/><path d="M893.0,1136.0 V1139.7"/><path d="M901.1,1136.0 V1139.7"/><path d="M827.1,1161.1 V1164.8"/><path d="M835.2,1161.1 V1164.8"/><path d="M843.5,1161.1 V1164.8"/><path d="M851.9,1161.1 V1164.8"/><path d="M860.3,1161.1 V1164.8"/><path d="M868.7,1161.1 V1164.8"/><path d="M877.0,1161.1 V1164.8"/><path d="M885.1,1161.1 V1164.8"/><path d="M893.0,1161.1 V1164.8"/><path d="M901.1,1161.1 V1164.8"/><path d="M909.9,1161.1 V1164.8"/><path d="M917.8,1161.1 V1164.8"/><path d="M925.9,1161.1 V1164.8"/><path d="M1002.5,1161.1 V1164.5"/><path d="M1011.0,1161.1 V1164.5"/><path d="M1018.8,1161.1 V1164.5"/><path d="M1027.1,1161.1 V1164.5"/><path d="M1035.4,1161.1 V1164.5"/><path d="M827.1,1235.6 V1239.4"/><path d="M842.4,1235.6 V1239.4"/><path d="M850.6,1235.6 V1239.4"/><path d="M859.2,1235.6 V1239.4"/><path d="M867.4,1235.6 V1239.4"/><path d="M888.3,1235.6 V1239.4"/><path d="M896.4,1235.6 V1239.4"/><path d="M904.0,1235.6 V1239.4"/><path d="M985.9,1235.6 V1239.4"/><path d="M994.2,1235.6 V1239.4"/><path d="M1002.5,1235.6 V1239.4"/><path d="M1010.6,1235.6 V1239.4"/><path d="M1018.8,1235.6 V1239.4"/><path d="M1027.1,1235.6 V1239.4"/><path d="M821.3,1100.3 V1104.5"/><path d="M1150.4,1140.5 V1144.8"/><path d="M1158.9,1140.5 V1144.8"/><path d="M1167.6,1140.5 V1144.8"/><path d="M1176.1,1140.5 V1144.8"/><path d="M1184.6,1140.5 V1144.8"/><path d="M1193.0,1140.5 V1144.8"/><path d="M1201.4,1140.5 V1144.8"/><path d="M1210.2,1140.5 V1144.8"/><path d="M1218.9,1140.5 V1144.8"/><path d="M1227.3,1140.5 V1144.8"/><path d="M1236.4,1140.5 V1144.8"/><path d="M1150.4,1166.5 V1171.0"/><path d="M1158.9,1166.5 V1171.0"/><path d="M1167.6,1166.5 V1171.0"/><path d="M1176.1,1166.5 V1171.0"/><path d="M1184.6,1166.5 V1171.0"/><path d="M1193.0,1166.5 V1171.0"/><path d="M1201.4,1166.5 V1171.0"/><path d="M1209.9,1166.5 V1171.0"/><path d="M1218.2,1166.5 V1171.0"/><path d="M1226.9,1166.5 V1171.0"/><path d="M1236.1,1166.5 V1171.0"/><path d="M1244.4,1166.5 V1171.0"/><path d="M1253.1,1166.5 V1171.0"/><path d="M1281.6,1166.5 V1171.0"/><path d="M1290.0,1166.5 V1171.0"/><path d="M1298.3,1166.5 V1171.0"/><path d="M1314.3,1166.5 V1171.0"/><path d="M1323.1,1166.5 V1171.0"/><path d="M1344.9,1166.5 V1171.0"/><path d="M1353.4,1166.5 V1171.0"/><path d="M1361.7,1166.5 V1171.0"/><path d="M1370.5,1166.5 V1171.0"/><path d="M1379.2,1166.5 V1171.0"/><path d="M1150.4,1235.7 V1239.9"/><path d="M1158.9,1235.7 V1239.9"/><path d="M1167.6,1235.7 V1239.9"/><path d="M1176.1,1235.7 V1239.9"/><path d="M1184.6,1235.7 V1239.9"/><path d="M1193.0,1235.7 V1239.9"/><path d="M1201.4,1235.7 V1239.9"/><path d="M1210.2,1235.7 V1239.9"/><path d="M1218.2,1235.7 V1239.9"/><path d="M1226.9,1235.7 V1239.9"/><path d="M1236.1,1235.7 V1239.9"/><path d="M1244.4,1235.7 V1239.9"/><path d="M1318.0,1235.7 V1239.9"/><path d="M1326.7,1235.7 V1239.9"/><path d="M1334.7,1235.7 V1239.9"/><path d="M1343.5,1235.7 V1239.9"/><path d="M1352.2,1235.7 V1239.9"/><path d="M1360.5,1235.7 V1239.9"/><path d="M1369.0,1235.7 V1239.9"/><path d="M1377.7,1235.7 V1239.9"/><path d="M1144.3,1105.3 V1108.5"/><path d="M1465.5,1100.7 H1469.5"/><path d="M1465.5,1108.7 H1469.5"/><path d="M1465.5,1116.4 H1469.5"/><path d="M1465.5,1124.2 H1469.5"/><path d="M1465.5,1132.3 H1469.5"/><path d="M1465.5,1140.3 H1469.5"/><path d="M1465.5,1148.0 H1469.5"/><path d="M1465.5,1156.2 H1469.5"/><path d="M1465.5,1163.9 H1469.5"/><path d="M1465.5,1171.6 H1469.5"/><path d="M1465.5,1179.6 H1469.5"/><path d="M1465.5,1187.3 H1469.5"/><path d="M1485.8,1203.7 V1206.6"/><path d="M1493.1,1203.7 V1206.6"/><path d="M1501.2,1203.7 V1206.6"/><path d="M1508.8,1203.7 V1206.6"/><path d="M1516.9,1203.7 V1206.6"/><path d="M1524.7,1203.7 V1206.6"/><path d="M1532.4,1203.7 V1206.6"/><path d="M1540.5,1203.7 V1206.6"/><path d="M1548.1,1203.7 V1206.6"/><path d="M1555.8,1203.7 V1206.6"/><path d="M1564.4,1203.7 V1206.6"/><path d="M1572.1,1203.7 V1206.6"/><path d="M1579.7,1203.7 V1206.6"/><path d="M1605.7,1203.7 V1206.6"/><path d="M1613.4,1203.7 V1206.6"/><path d="M1621.6,1203.7 V1206.6"/><path d="M1628.8,1203.7 V1206.6"/><path d="M1637.0,1203.7 V1206.6"/><path d="M1645.2,1203.7 V1206.6"/><path d="M1667.2,1203.7 V1206.6"/><path d="M1675.1,1203.7 V1206.6"/><path d="M1683.1,1203.7 V1206.6"/><path d="M1690.8,1203.7 V1206.6"/><path d="M1698.5,1203.7 V1206.6"/><path d="M1485.3,1243.0 V1246.5"/><path d="M1493.1,1243.0 V1246.5"/><path d="M1501.2,1243.0 V1246.5"/><path d="M1508.5,1243.0 V1246.5"/><path d="M1516.9,1243.0 V1246.5"/><path d="M1524.7,1243.0 V1246.5"/><path d="M1532.4,1243.0 V1246.5"/><path d="M1540.5,1243.0 V1246.5"/><path d="M1548.1,1243.0 V1246.5"/><path d="M1556.2,1243.0 V1246.5"/><path d="M1564.0,1243.0 V1246.5"/><path d="M1571.7,1243.0 V1246.5"/><path d="M1579.7,1243.0 V1246.5"/><path d="M1587.4,1243.0 V1246.5"/><path d="M1595.5,1243.0 V1246.5"/><path d="M1603.7,1243.0 V1246.5"/><path d="M1626.4,1243.0 V1246.5"/><path d="M1633.6,1243.0 V1246.5"/><path d="M1641.3,1243.0 V1246.5"/><path d="M1661.8,1243.0 V1246.5"/><path d="M1669.4,1243.0 V1246.5"/><path d="M1677.5,1243.0 V1246.5"/><path d="M1685.2,1243.0 V1246.5"/><path d="M1693.0,1243.0 V1246.5"/><path d="M1701.1,1243.0 V1246.5"/><path d="M1709.1,1243.0 V1246.5"/><path d="M1717.3,1243.0 V1246.5"/><path d="M1725.0,1243.0 V1246.5"/><path d="M1448.2,1193.4 H1452.5"/></g>
<g stroke="#111" stroke-width="1.1"><circle cx="27.4" cy="1013.0" r="2.9" fill="#ffffff"/><circle cx="35.7" cy="1013.0" r="2.9" fill="#808080"/><circle cx="43.9" cy="1013.0" r="2.9" fill="#000000"/><circle cx="52.2" cy="1013.0" r="2.9" fill="#000000"/><circle cx="60.5" cy="1013.0" r="2.9" fill="#000000"/><circle cx="68.8" cy="1013.0" r="2.9" fill="#000000"/><circle cx="77.0" cy="1013.0" r="2.9" fill="#c40d0d"/><circle cx="85.3" cy="1013.0" r="2.9" fill="#c40d0d"/><circle cx="110.1" cy="1013.0" r="2.9" fill="#c40d0d"/><circle cx="134.9" cy="1013.0" r="2.9" fill="#808080"/><circle cx="143.2" cy="1013.0" r="2.9" fill="#ffffff"/><circle cx="151.4" cy="1013.0" r="2.9" fill="#ffffff"/><circle cx="159.7" cy="1013.0" r="2.9" fill="#808080"/><circle cx="192.8" cy="1013.0" r="2.9" fill="#c40d0d"/><circle cx="201.1" cy="1013.0" r="2.9" fill="#c40d0d"/><circle cx="209.3" cy="1013.0" r="2.9" fill="#c40d0d"/><circle cx="225.9" cy="1013.0" r="2.9" fill="#808080"/><circle cx="234.2" cy="1013.0" r="2.9" fill="#ffffff"/><circle cx="242.4" cy="1013.0" r="2.9" fill="#ffffff"/><circle cx="250.7" cy="1013.0" r="2.9" fill="#ffffff"/><circle cx="275.5" cy="1013.0" r="2.9" fill="#000000"/><circle cx="283.8" cy="1013.0" r="2.9" fill="#000000"/><circle cx="292.0" cy="1013.0" r="2.9" fill="#c40d0d"/><circle cx="300.3" cy="1013.0" r="2.9" fill="#c40d0d"/><circle cx="358.2" cy="1013.0" r="2.9" fill="#c40d0d"/><circle cx="399.5" cy="1013.0" r="2.9" fill="#808080"/><circle cx="407.8" cy="1013.0" r="2.9" fill="#808080"/><circle cx="416.1" cy="1013.0" r="2.9" fill="#808080"/><circle cx="424.4" cy="1013.0" r="2.9" fill="#ffffff"/><circle cx="432.6" cy="1013.0" r="2.9" fill="#ffffff"/><circle cx="440.9" cy="1013.0" r="2.9" fill="#ffffff"/><circle cx="449.2" cy="1013.0" r="2.9" fill="#ffffff"/><circle cx="457.4" cy="1013.0" r="2.9" fill="#808080"/><circle cx="474.0" cy="1013.0" r="2.9" fill="#808080"/><circle cx="482.2" cy="1013.0" r="2.9" fill="#808080"/><circle cx="507.1" cy="1013.0" r="2.9" fill="#000000"/><circle cx="515.3" cy="1013.0" r="2.9" fill="#808080"/><circle cx="523.6" cy="1013.0" r="2.9" fill="#808080"/><circle cx="606.3" cy="1013.0" r="2.9" fill="#808080"/><circle cx="622.8" cy="1013.0" r="2.9" fill="#808080"/><circle cx="655.9" cy="1013.0" r="2.9" fill="#000000"/><circle cx="672.5" cy="1013.0" r="2.9" fill="#000000"/><circle cx="730.3" cy="1013.0" r="2.9" fill="#000000"/><circle cx="887.5" cy="1013.0" r="2.9" fill="#000000"/><circle cx="920.6" cy="1013.0" r="2.9" fill="#808080"/><circle cx="978.4" cy="1013.0" r="2.9" fill="#808080"/><circle cx="986.7" cy="1013.0" r="2.9" fill="#ffffff"/><circle cx="995.0" cy="1013.0" r="2.9" fill="#ffffff"/><circle cx="1003.3" cy="1013.0" r="2.9" fill="#ffffff"/><circle cx="337.4" cy="998.7" r="2.9" fill="#000000"/><circle cx="296.5" cy="956.5" r="2.9" fill="#c40d0d"/><circle cx="289.1" cy="932.9" r="2.9" fill="#c40d0d"/><circle cx="292.3" cy="917.0" r="2.9" fill="#c40d0d"/><circle cx="315.9" cy="894.5" r="2.9" fill="#c40d0d"/><circle cx="324.0" cy="892.1" r="2.9" fill="#c40d0d"/><circle cx="361.3" cy="898.3" r="2.9" fill="#000000"/><circle cx="367.7" cy="903.3" r="2.9" fill="#000000"/><circle cx="367.7" cy="963.0" r="2.9" fill="#ffffff"/><circle cx="361.3" cy="967.7" r="2.9" fill="#ffffff"/><circle cx="353.5" cy="971.9" r="2.9" fill="#ffffff"/><circle cx="321.2" cy="860.1" r="2.9" fill="#808080"/><circle cx="326.5" cy="852.7" r="2.9" fill="#808080"/><circle cx="334.9" cy="852.7" r="2.9" fill="#808080"/><circle cx="708.4" cy="975.6" r="2.9" fill="#808080"/><circle cx="716.9" cy="975.6" r="2.9" fill="#808080"/><circle cx="721.8" cy="982.7" r="2.9" fill="#808080"/><circle cx="27.4" cy="1270.6" r="2.9" fill="#ffffff"/><circle cx="35.6" cy="1270.6" r="2.9" fill="#808080"/><circle cx="43.9" cy="1270.6" r="2.9" fill="#000000"/><circle cx="52.1" cy="1270.6" r="2.9" fill="#000000"/><circle cx="60.4" cy="1270.6" r="2.9" fill="#000000"/><circle cx="68.7" cy="1270.6" r="2.9" fill="#000000"/><circle cx="93.4" cy="1270.6" r="2.9" fill="#808080"/><circle cx="101.7" cy="1270.6" r="2.9" fill="#ffffff"/><circle cx="109.9" cy="1270.6" r="2.9" fill="#ffffff"/><circle cx="118.2" cy="1270.6" r="2.9" fill="#ffffff"/><circle cx="151.2" cy="1270.6" r="2.9" fill="#808080"/><circle cx="159.4" cy="1270.6" r="2.9" fill="#808080"/><circle cx="167.7" cy="1270.6" r="2.9" fill="#808080"/><circle cx="175.9" cy="1270.6" r="2.9" fill="#ffffff"/><circle cx="184.2" cy="1270.6" r="2.9" fill="#ffffff"/><circle cx="192.4" cy="1270.6" r="2.9" fill="#ffffff"/><circle cx="200.7" cy="1270.6" r="2.9" fill="#ffffff"/><circle cx="208.9" cy="1270.6" r="2.9" fill="#808080"/><circle cx="225.4" cy="1270.6" r="2.9" fill="#808080"/><circle cx="233.7" cy="1270.6" r="2.9" fill="#808080"/><circle cx="258.4" cy="1270.6" r="2.9" fill="#000000"/><circle cx="266.6" cy="1270.6" r="2.9" fill="#808080"/><circle cx="274.9" cy="1270.6" r="2.9" fill="#808080"/><circle cx="357.4" cy="1270.6" r="2.9" fill="#808080"/><circle cx="373.9" cy="1270.6" r="2.9" fill="#808080"/><circle cx="406.9" cy="1270.6" r="2.9" fill="#000000"/><circle cx="423.4" cy="1270.6" r="2.9" fill="#000000"/><circle cx="604.9" cy="1270.6" r="2.9" fill="#000000"/><circle cx="637.9" cy="1270.6" r="2.9" fill="#808080"/><circle cx="695.6" cy="1270.6" r="2.9" fill="#808080"/><circle cx="703.9" cy="1270.6" r="2.9" fill="#ffffff"/><circle cx="712.1" cy="1270.6" r="2.9" fill="#ffffff"/><circle cx="720.4" cy="1270.6" r="2.9" fill="#ffffff"/><circle cx="75.0" cy="1264.7" r="2.9" fill="#c40d0d"/><circle cx="75.0" cy="1256.9" r="2.9" fill="#c40d0d"/><circle cx="88.6" cy="1256.9" r="2.9" fill="#c40d0d"/><circle cx="88.6" cy="1248.4" r="2.9" fill="#c40d0d"/><circle cx="88.6" cy="1240.0" r="2.9" fill="#c40d0d"/><circle cx="75.0" cy="1232.0" r="2.9" fill="#c40d0d"/><circle cx="71.3" cy="1209.0" r="2.9" fill="#808080"/><circle cx="77.7" cy="1203.1" r="2.9" fill="#ffffff"/><circle cx="85.5" cy="1203.1" r="2.9" fill="#ffffff"/><circle cx="91.8" cy="1209.0" r="2.9" fill="#808080"/><circle cx="133.0" cy="1256.9" r="2.9" fill="#000000"/><circle cx="133.0" cy="1248.4" r="2.9" fill="#000000"/><circle cx="133.0" cy="1240.0" r="2.9" fill="#c40d0d"/><circle cx="133.0" cy="1232.0" r="2.9" fill="#c40d0d"/><circle cx="146.3" cy="1232.0" r="2.9" fill="#c40d0d"/><circle cx="146.3" cy="1198.8" r="2.9" fill="#000000"/><circle cx="106.6" cy="1156.0" r="2.9" fill="#c40d0d"/><circle cx="101.3" cy="1131.9" r="2.9" fill="#c40d0d"/><circle cx="106.6" cy="1116.1" r="2.9" fill="#c40d0d"/><circle cx="133.0" cy="1098.0" r="2.9" fill="#c40d0d"/><circle cx="162.5" cy="1100.7" r="2.9" fill="#000000"/><circle cx="169.9" cy="1104.3" r="2.9" fill="#000000"/><circle cx="176.2" cy="1162.5" r="2.9" fill="#ffffff"/><circle cx="169.9" cy="1167.6" r="2.9" fill="#ffffff"/><circle cx="162.5" cy="1171.4" r="2.9" fill="#ffffff"/><circle cx="133.0" cy="1090.2" r="2.9" fill="#c40d0d"/><circle cx="130.4" cy="1057.0" r="2.9" fill="#808080"/><circle cx="135.7" cy="1050.5" r="2.9" fill="#808080"/><circle cx="143.9" cy="1050.5" r="2.9" fill="#808080"/><circle cx="452.5" cy="1265.0" r="2.9" fill="#000000"/><circle cx="441.6" cy="1217.4" r="2.9" fill="#808080"/><circle cx="449.7" cy="1217.4" r="2.9" fill="#808080"/><circle cx="454.8" cy="1223.8" r="2.9" fill="#808080"/><circle cx="821.3" cy="1108.5" r="2.9" fill="#ffffff"/><circle cx="821.3" cy="1117.1" r="2.9" fill="#808080"/><circle cx="821.3" cy="1125.4" r="2.9" fill="#000000"/><circle cx="821.3" cy="1150.5" r="2.9" fill="#ffffff"/><circle cx="821.3" cy="1175.6" r="2.9" fill="#808080"/><circle cx="821.3" cy="1183.8" r="2.9" fill="#808080"/><circle cx="821.3" cy="1191.9" r="2.9" fill="#ffffff"/><circle cx="821.3" cy="1200.2" r="2.9" fill="#ffffff"/><circle cx="821.3" cy="1208.6" r="2.9" fill="#ffffff"/><circle cx="821.3" cy="1216.7" r="2.9" fill="#ffffff"/><circle cx="821.3" cy="1225.3" r="2.9" fill="#808080"/><circle cx="821.3" cy="1250.4" r="2.9" fill="#ffffff"/><circle cx="821.3" cy="1258.8" r="2.9" fill="#ffffff"/><circle cx="821.3" cy="1266.9" r="2.9" fill="#ffffff"/><circle cx="827.1" cy="1131.2" r="2.9" fill="#000000"/><circle cx="835.2" cy="1131.2" r="2.9" fill="#000000"/><circle cx="843.5" cy="1131.2" r="2.9" fill="#000000"/><circle cx="851.9" cy="1131.2" r="2.9" fill="#c40d0d"/><circle cx="860.3" cy="1131.2" r="2.9" fill="#c40d0d"/><circle cx="885.1" cy="1131.2" r="2.9" fill="#c40d0d"/><circle cx="909.9" cy="1128.8" r="2.9" fill="#808080"/><circle cx="916.5" cy="1133.6" r="2.9" fill="#ffffff"/><circle cx="916.5" cy="1142.2" r="2.9" fill="#ffffff"/><circle cx="909.9" cy="1146.9" r="2.9" fill="#808080"/><circle cx="827.1" cy="1144.5" r="2.9" fill="#ffffff"/><circle cx="835.2" cy="1144.5" r="2.9" fill="#ffffff"/><circle cx="843.5" cy="1144.5" r="2.9" fill="#808080"/><circle cx="860.3" cy="1144.5" r="2.9" fill="#c40d0d"/><circle cx="868.7" cy="1144.5" r="2.9" fill="#c40d0d"/><circle cx="877.0" cy="1144.5" r="2.9" fill="#c40d0d"/><circle cx="843.5" cy="1156.3" r="2.9" fill="#000000"/><circle cx="851.9" cy="1156.3" r="2.9" fill="#000000"/><circle cx="860.3" cy="1156.3" r="2.9" fill="#c40d0d"/><circle cx="868.7" cy="1156.3" r="2.9" fill="#c40d0d"/><circle cx="827.1" cy="1169.6" r="2.9" fill="#808080"/><circle cx="868.7" cy="1169.6" r="2.9" fill="#c40d0d"/><circle cx="901.1" cy="1169.6" r="2.9" fill="#000000"/><circle cx="944.7" cy="1129.6" r="2.9" fill="#c40d0d"/><circle cx="969.1" cy="1124.5" r="2.9" fill="#c40d0d"/><circle cx="984.3" cy="1129.6" r="2.9" fill="#c40d0d"/><circle cx="1002.5" cy="1156.3" r="2.9" fill="#c40d0d"/><circle cx="1011.0" cy="1156.3" r="2.9" fill="#c40d0d"/><circle cx="1044.1" cy="1154.0" r="2.9" fill="#808080"/><circle cx="1050.7" cy="1159.0" r="2.9" fill="#808080"/><circle cx="1050.7" cy="1167.3" r="2.9" fill="#808080"/><circle cx="1000.4" cy="1185.8" r="2.9" fill="#000000"/><circle cx="996.5" cy="1193.7" r="2.9" fill="#000000"/><circle cx="945.5" cy="1196.3" r="2.9" fill="#808080"/><circle cx="929.1" cy="1185.8" r="2.9" fill="#ffffff"/><circle cx="933.5" cy="1193.2" r="2.9" fill="#ffffff"/><circle cx="938.5" cy="1199.5" r="2.9" fill="#ffffff"/><circle cx="929.8" cy="1199.8" r="2.9" fill="#808080"/><circle cx="975.3" cy="1208.9" r="2.9" fill="#000000"/><circle cx="984.0" cy="1223.0" r="2.9" fill="#000000"/><circle cx="834.6" cy="1227.7" r="2.9" fill="#808080"/><circle cx="842.4" cy="1230.8" r="2.9" fill="#808080"/><circle cx="867.4" cy="1230.8" r="2.9" fill="#000000"/><circle cx="867.4" cy="1222.7" r="2.9" fill="#808080"/><circle cx="873.8" cy="1217.0" r="2.9" fill="#808080"/><circle cx="827.1" cy="1244.2" r="2.9" fill="#808080"/><circle cx="882.0" cy="1249.4" r="2.9" fill="#808080"/><circle cx="905.5" cy="1252.8" r="2.9" fill="#000000"/><circle cx="1042.3" cy="1233.7" r="2.9" fill="#808080"/><circle cx="1042.3" cy="1241.8" r="2.9" fill="#808080"/><circle cx="1035.8" cy="1247.3" r="2.9" fill="#808080"/><circle cx="994.6" cy="1244.2" r="2.9" fill="#000000"/><circle cx="1144.3" cy="1112.6" r="2.9" fill="#ffffff"/><circle cx="1144.3" cy="1120.9" r="2.9" fill="#808080"/><circle cx="1144.3" cy="1129.6" r="2.9" fill="#000000"/><circle cx="1144.3" cy="1156.1" r="2.9" fill="#ffffff"/><circle cx="1144.3" cy="1182.1" r="2.9" fill="#808080"/><circle cx="1144.3" cy="1190.4" r="2.9" fill="#808080"/><circle cx="1144.3" cy="1199.1" r="2.9" fill="#ffffff"/><circle cx="1144.3" cy="1207.9" r="2.9" fill="#ffffff"/><circle cx="1144.3" cy="1216.3" r="2.9" fill="#ffffff"/><circle cx="1144.3" cy="1225.1" r="2.9" fill="#ffffff"/><circle cx="1144.3" cy="1250.6" r="2.9" fill="#ffffff"/><circle cx="1144.3" cy="1259.3" r="2.9" fill="#ffffff"/><circle cx="1150.4" cy="1135.7" r="2.9" fill="#000000"/><circle cx="1158.9" cy="1135.7" r="2.9" fill="#000000"/><circle cx="1167.6" cy="1135.7" r="2.9" fill="#000000"/><circle cx="1176.1" cy="1135.7" r="2.9" fill="#c40d0d"/><circle cx="1184.6" cy="1135.7" r="2.9" fill="#c40d0d"/><circle cx="1210.2" cy="1135.7" r="2.9" fill="#c40d0d"/><circle cx="1236.4" cy="1135.7" r="2.9" fill="#808080"/><circle cx="1244.4" cy="1138.4" r="2.9" fill="#ffffff"/><circle cx="1244.4" cy="1147.1" r="2.9" fill="#ffffff"/><circle cx="1150.4" cy="1149.6" r="2.9" fill="#ffffff"/><circle cx="1158.9" cy="1149.6" r="2.9" fill="#ffffff"/><circle cx="1167.6" cy="1149.6" r="2.9" fill="#808080"/><circle cx="1184.6" cy="1149.6" r="2.9" fill="#c40d0d"/><circle cx="1193.0" cy="1149.6" r="2.9" fill="#c40d0d"/><circle cx="1201.4" cy="1149.6" r="2.9" fill="#c40d0d"/><circle cx="1236.4" cy="1149.6" r="2.9" fill="#808080"/><circle cx="1167.6" cy="1161.7" r="2.9" fill="#000000"/><circle cx="1176.1" cy="1161.7" r="2.9" fill="#000000"/><circle cx="1184.6" cy="1161.7" r="2.9" fill="#c40d0d"/><circle cx="1193.0" cy="1161.7" r="2.9" fill="#c40d0d"/><circle cx="1150.4" cy="1175.8" r="2.9" fill="#808080"/><circle cx="1193.0" cy="1175.8" r="2.9" fill="#c40d0d"/><circle cx="1226.9" cy="1175.8" r="2.9" fill="#000000"/><circle cx="1281.6" cy="1161.7" r="2.9" fill="#c40d0d"/><circle cx="1306.6" cy="1158.3" r="2.9" fill="#c40d0d"/><circle cx="1323.1" cy="1161.7" r="2.9" fill="#c40d0d"/><circle cx="1344.9" cy="1161.7" r="2.9" fill="#c40d0d"/><circle cx="1353.4" cy="1161.7" r="2.9" fill="#c40d0d"/><circle cx="1387.6" cy="1159.5" r="2.9" fill="#808080"/><circle cx="1394.5" cy="1164.6" r="2.9" fill="#808080"/><circle cx="1394.5" cy="1172.9" r="2.9" fill="#808080"/><circle cx="1323.1" cy="1175.8" r="2.9" fill="#000000"/><circle cx="1329.9" cy="1181.1" r="2.9" fill="#000000"/><circle cx="1263.3" cy="1188.9" r="2.9" fill="#ffffff"/><circle cx="1271.6" cy="1188.9" r="2.9" fill="#ffffff"/><circle cx="1278.9" cy="1184.3" r="2.9" fill="#ffffff"/><circle cx="1272.8" cy="1201.0" r="2.9" fill="#808080"/><circle cx="1290.3" cy="1201.5" r="2.9" fill="#808080"/><circle cx="1315.8" cy="1222.5" r="2.9" fill="#000000"/><circle cx="1150.4" cy="1230.9" r="2.9" fill="#808080"/><circle cx="1167.6" cy="1230.9" r="2.9" fill="#808080"/><circle cx="1176.1" cy="1230.9" r="2.9" fill="#808080"/><circle cx="1201.4" cy="1230.9" r="2.9" fill="#000000"/><circle cx="1210.2" cy="1230.9" r="2.9" fill="#808080"/><circle cx="1210.9" cy="1222.2" r="2.9" fill="#808080"/><circle cx="1150.4" cy="1244.7" r="2.9" fill="#ffffff"/><circle cx="1158.9" cy="1244.7" r="2.9" fill="#808080"/><circle cx="1218.2" cy="1244.7" r="2.9" fill="#808080"/><circle cx="1245.1" cy="1253.5" r="2.9" fill="#000000"/><circle cx="1326.7" cy="1230.9" r="2.9" fill="#000000"/><circle cx="1393.5" cy="1233.8" r="2.9" fill="#808080"/><circle cx="1393.5" cy="1242.3" r="2.9" fill="#808080"/><circle cx="1386.5" cy="1246.9" r="2.9" fill="#808080"/><circle cx="1343.5" cy="1244.7" r="2.9" fill="#000000"/><circle cx="1464.1" cy="1093.3" r="2.9" fill="#ffffff"/><circle cx="1472.1" cy="1093.3" r="2.9" fill="#ffffff"/><circle cx="1461.0" cy="1100.7" r="2.9" fill="#808080"/><circle cx="1474.0" cy="1100.7" r="2.9" fill="#808080"/><circle cx="1461.0" cy="1124.2" r="2.9" fill="#c40d0d"/><circle cx="1474.0" cy="1132.3" r="2.9" fill="#c40d0d"/><circle cx="1474.0" cy="1140.3" r="2.9" fill="#c40d0d"/><circle cx="1461.0" cy="1148.0" r="2.9" fill="#c40d0d"/><circle cx="1474.0" cy="1148.0" r="2.9" fill="#c40d0d"/><circle cx="1461.0" cy="1156.2" r="2.9" fill="#c40d0d"/><circle cx="1461.0" cy="1163.9" r="2.9" fill="#000000"/><circle cx="1474.0" cy="1163.9" r="2.9" fill="#808080"/><circle cx="1461.0" cy="1171.6" r="2.9" fill="#000000"/><circle cx="1474.0" cy="1171.6" r="2.9" fill="#ffffff"/><circle cx="1461.0" cy="1179.6" r="2.9" fill="#000000"/><circle cx="1474.0" cy="1179.6" r="2.9" fill="#ffffff"/><circle cx="1461.0" cy="1187.3" r="2.9" fill="#808080"/><circle cx="1474.0" cy="1187.3" r="2.9" fill="#ffffff"/><circle cx="1454.2" cy="1183.5" r="2.9" fill="#000000"/><circle cx="1455.9" cy="1193.4" r="2.9" fill="#ffffff"/><circle cx="1501.2" cy="1198.9" r="2.9" fill="#000000"/><circle cx="1508.8" cy="1198.9" r="2.9" fill="#000000"/><circle cx="1516.9" cy="1198.9" r="2.9" fill="#c40d0d"/><circle cx="1524.7" cy="1198.9" r="2.9" fill="#c40d0d"/><circle cx="1605.7" cy="1198.9" r="2.9" fill="#c40d0d"/><circle cx="1628.8" cy="1198.9" r="2.9" fill="#c40d0d"/><circle cx="1645.2" cy="1198.9" r="2.9" fill="#c40d0d"/><circle cx="1667.2" cy="1198.9" r="2.9" fill="#c40d0d"/><circle cx="1675.1" cy="1198.9" r="2.9" fill="#c40d0d"/><circle cx="1706.7" cy="1196.3" r="2.9" fill="#808080"/><circle cx="1713.0" cy="1200.6" r="2.9" fill="#808080"/><circle cx="1713.0" cy="1209.1" r="2.9" fill="#808080"/><circle cx="1485.8" cy="1211.4" r="2.9" fill="#808080"/><circle cx="1524.7" cy="1211.4" r="2.9" fill="#c40d0d"/><circle cx="1555.8" cy="1211.4" r="2.9" fill="#000000"/><circle cx="1645.2" cy="1211.4" r="2.9" fill="#000000"/><circle cx="1652.7" cy="1211.4" r="2.9" fill="#000000"/><circle cx="1588.8" cy="1223.7" r="2.9" fill="#ffffff"/><circle cx="1596.5" cy="1223.7" r="2.9" fill="#ffffff"/><circle cx="1602.8" cy="1219.1" r="2.9" fill="#ffffff"/><circle cx="1479.8" cy="1216.8" r="2.9" fill="#808080"/><circle cx="1479.8" cy="1224.5" r="2.9" fill="#808080"/><circle cx="1479.8" cy="1232.7" r="2.9" fill="#ffffff"/><circle cx="1479.8" cy="1257.0" r="2.9" fill="#ffffff"/><circle cx="1485.3" cy="1238.2" r="2.9" fill="#ffffff"/><circle cx="1493.1" cy="1238.2" r="2.9" fill="#ffffff"/><circle cx="1501.2" cy="1238.2" r="2.9" fill="#808080"/><circle cx="1516.9" cy="1238.2" r="2.9" fill="#808080"/><circle cx="1524.7" cy="1238.2" r="2.9" fill="#808080"/><circle cx="1548.1" cy="1238.2" r="2.9" fill="#000000"/><circle cx="1556.2" cy="1238.2" r="2.9" fill="#808080"/><circle cx="1618.5" cy="1234.8" r="2.9" fill="#808080"/><circle cx="1633.6" cy="1238.2" r="2.9" fill="#808080"/><circle cx="1556.2" cy="1230.0" r="2.9" fill="#808080"/><circle cx="1497.2" cy="1231.4" r="2.9" fill="#ffffff"/><circle cx="1661.8" cy="1238.2" r="2.9" fill="#000000"/><circle cx="1677.5" cy="1238.2" r="2.9" fill="#000000"/><circle cx="1738.6" cy="1240.8" r="2.9" fill="#808080"/><circle cx="1738.6" cy="1248.8" r="2.9" fill="#808080"/><circle cx="1732.7" cy="1253.6" r="2.9" fill="#808080"/><circle cx="1485.3" cy="1251.3" r="2.9" fill="#ffffff"/><circle cx="1493.1" cy="1251.3" r="2.9" fill="#ffffff"/><circle cx="1501.2" cy="1251.3" r="2.9" fill="#ffffff"/><circle cx="1508.5" cy="1251.3" r="2.9" fill="#808080"/><circle cx="1564.0" cy="1251.3" r="2.9" fill="#808080"/><circle cx="1595.5" cy="1251.3" r="2.9" fill="#000000"/><circle cx="1693.0" cy="1251.3" r="2.9" fill="#000000"/></g>
<g font-size="8.6" text-anchor="middle" font-family="Liberation Sans,Arial,sans-serif"><text x="93.6" y="1016.0" fill="#8e8e8e">Y</text><text x="101.8" y="1016.0" fill="#8e8e8e">Y</text><text x="118.4" y="1016.0" fill="#8e8e8e">R</text><text x="126.6" y="1016.0" fill="#2a2a2a" font-weight="bold">R</text><text x="168.0" y="1016.0" fill="#8e8e8e">Y</text><text x="176.3" y="1016.0" fill="#8e8e8e">Y</text><text x="184.5" y="1016.0" fill="#2a2a2a" font-weight="bold">Y</text><text x="217.6" y="1016.0" fill="#8e8e8e">Y</text><text x="259.0" y="1016.0" fill="#8e8e8e">R</text><text x="267.2" y="1016.0" fill="#8e8e8e">R</text><text x="308.6" y="1016.0" fill="#8e8e8e">Y</text><text x="316.8" y="1016.0" fill="#2a2a2a" font-weight="bold">Y</text><text x="341.7" y="1016.0" fill="#8e8e8e">R</text><text x="349.9" y="1016.0" fill="#2a2a2a" font-weight="bold">R</text><text x="366.5" y="1016.0" fill="#8e8e8e">Y</text><text x="374.7" y="1016.0" fill="#8e8e8e">R</text><text x="383.0" y="1016.0" fill="#8e8e8e">Y</text><text x="391.3" y="1016.0" fill="#8e8e8e">Y</text><text x="465.7" y="1016.0" fill="#8e8e8e">Y</text><text x="490.5" y="1016.0" fill="#8e8e8e">G</text><text x="498.8" y="1016.0" fill="#8e8e8e">Y</text><text x="531.9" y="1016.0" fill="#8e8e8e">R</text><text x="540.1" y="1016.0" fill="#8e8e8e">R</text><text x="548.4" y="1016.0" fill="#8e8e8e">R</text><text x="556.7" y="1016.0" fill="#2a2a2a" font-weight="bold">Y</text><text x="564.9" y="1016.0" fill="#2a2a2a" font-weight="bold">C</text><text x="573.2" y="1016.0" fill="#2a2a2a" font-weight="bold">G</text><text x="581.5" y="1016.0" fill="#8e8e8e">R</text><text x="589.8" y="1016.0" fill="#8e8e8e">A</text><text x="598.0" y="1016.0" fill="#8e8e8e">C</text><text x="614.6" y="1016.0" fill="#8e8e8e">G</text><text x="631.1" y="1016.0" fill="#8e8e8e">A</text><text x="639.4" y="1016.0" fill="#8e8e8e">U</text><text x="647.6" y="1016.0" fill="#8e8e8e">C</text><text x="664.2" y="1016.0" fill="#2a2a2a" font-weight="bold">Y</text><text x="680.7" y="1016.0" fill="#8e8e8e">G</text><text x="689.0" y="1016.0" fill="#8e8e8e">G</text><text x="697.3" y="1016.0" fill="#8e8e8e">C</text><text x="722.1" y="1016.0" fill="#8e8e8e">R</text><text x="738.6" y="1016.0" fill="#8e8e8e">A</text><text x="746.9" y="1016.0" fill="#8e8e8e">R</text><text x="755.2" y="1016.0" fill="#8e8e8e">Y</text><text x="763.4" y="1016.0" fill="#8e8e8e">C</text><text x="771.7" y="1016.0" fill="#8e8e8e">Y</text><text x="780.0" y="1016.0" fill="#8e8e8e">G</text><text x="788.2" y="1016.0" fill="#8e8e8e">C</text><text x="796.5" y="1016.0" fill="#8e8e8e">A</text><text x="804.8" y="1016.0" fill="#8e8e8e">U</text><text x="813.0" y="1016.0" fill="#8e8e8e">U</text><text x="821.3" y="1016.0" fill="#8e8e8e">Y</text><text x="829.6" y="1016.0" fill="#8e8e8e">A</text><text x="837.9" y="1016.0" fill="#2a2a2a" font-weight="bold">C</text><text x="846.1" y="1016.0" fill="#8e8e8e">A</text><text x="854.4" y="1016.0" fill="#8e8e8e">A</text><text x="862.7" y="1016.0" fill="#8e8e8e">G</text><text x="870.9" y="1016.0" fill="#2a2a2a" font-weight="bold">G</text><text x="879.2" y="1016.0" fill="#8e8e8e">U</text><text x="895.7" y="1016.0" fill="#8e8e8e">G</text><text x="904.0" y="1016.0" fill="#8e8e8e">R</text><text x="912.3" y="1016.0" fill="#8e8e8e">U</text><text x="928.8" y="1016.0" fill="#8e8e8e">R</text><text x="937.1" y="1016.0" fill="#8e8e8e">C</text><text x="945.4" y="1016.0" fill="#2a2a2a" font-weight="bold">R</text><text x="953.6" y="1016.0" fill="#8e8e8e">Y</text><text x="961.9" y="1016.0" fill="#8e8e8e">R</text><text x="970.2" y="1016.0" fill="#8e8e8e">A</text><text x="324.0" y="1009.7" fill="#8e8e8e">G</text><text x="337.4" y="1009.7" fill="#8e8e8e">C</text><text x="324.0" y="1001.7" fill="#8e8e8e">G</text><text x="324.0" y="993.9" fill="#2a2a2a" font-weight="bold">Y</text><text x="337.4" y="993.9" fill="#2a2a2a" font-weight="bold">R</text><text x="324.0" y="985.0" fill="#8e8e8e">G</text><text x="337.4" y="985.0" fill="#8e8e8e">C</text><text x="324.0" y="977.0" fill="#8e8e8e">C</text><text x="337.4" y="977.0" fill="#8e8e8e">G</text><text x="316.6" y="998.0" fill="#8e8e8e">A</text><text x="315.5" y="974.9" fill="#8e8e8e">G</text><text x="308.1" y="970.7" fill="#8e8e8e">G</text><text x="301.8" y="965.4" fill="#2a2a2a" font-weight="bold">Y</text><text x="292.3" y="951.7" fill="#8e8e8e">Y</text><text x="289.6" y="943.9" fill="#8e8e8e">Y</text><text x="290.2" y="927.8" fill="#8e8e8e">R</text><text x="297.2" y="912.6" fill="#8e8e8e">C</text><text x="301.8" y="905.9" fill="#2a2a2a" font-weight="bold">C</text><text x="308.6" y="901.0" fill="#8e8e8e">U</text><text x="337.7" y="895.1" fill="#2a2a2a" font-weight="bold">Y</text><text x="345.1" y="896.8" fill="#2a2a2a" font-weight="bold">G</text><text x="353.5" y="898.3" fill="#8e8e8e">Y</text><text x="372.5" y="912.6" fill="#8e8e8e">Y</text><text x="376.7" y="920.0" fill="#8e8e8e">G</text><text x="379.3" y="927.8" fill="#8e8e8e">U</text><text x="379.9" y="935.9" fill="#8e8e8e">A</text><text x="379.9" y="943.9" fill="#8e8e8e">G</text><text x="377.8" y="951.7" fill="#2a2a2a" font-weight="bold">A</text><text x="373.1" y="959.5" fill="#8e8e8e">U</text><text x="345.7" y="976.6" fill="#2a2a2a" font-weight="bold">Y</text><text x="324.0" y="886.9" fill="#2a2a2a" font-weight="bold">R</text><text x="337.7" y="886.9" fill="#8e8e8e">Y</text><text x="324.0" y="878.9" fill="#8e8e8e">R</text><text x="337.7" y="878.9" fill="#8e8e8e">Y</text><text x="324.0" y="870.4" fill="#8e8e8e">Y</text><text x="337.7" y="870.4" fill="#8e8e8e">R</text><text x="339.8" y="863.1" fill="#8e8e8e">A</text><text x="706.2" y="1010.7" fill="#d01010">Y</text><text x="718.4" y="1010.7" fill="#2a2a2a" font-weight="bold">G</text><text x="706.2" y="1002.6" fill="#2a2a2a" font-weight="bold">G</text><text x="718.4" y="1002.6" fill="#8e8e8e">C</text><text x="706.2" y="994.2" fill="#8e8e8e">G</text><text x="718.4" y="994.2" fill="#8e8e8e">Y</text><text x="703.8" y="985.7" fill="#8e8e8e">Y</text><text x="12" y="1015.8" font-size="6.5" fill="#222">5′</text><text x="126.4" y="1273.6" fill="#8e8e8e">R</text><text x="217.2" y="1273.6" fill="#8e8e8e">Y</text><text x="241.9" y="1273.6" fill="#8e8e8e">G</text><text x="250.2" y="1273.6" fill="#8e8e8e">Y</text><text x="283.1" y="1273.6" fill="#8e8e8e">R</text><text x="291.4" y="1273.6" fill="#8e8e8e">R</text><text x="299.6" y="1273.6" fill="#8e8e8e">R</text><text x="307.9" y="1273.6" fill="#2a2a2a" font-weight="bold">Y</text><text x="316.1" y="1273.6" fill="#2a2a2a" font-weight="bold">C</text><text x="324.4" y="1273.6" fill="#2a2a2a" font-weight="bold">G</text><text x="332.6" y="1273.6" fill="#8e8e8e">R</text><text x="340.9" y="1273.6" fill="#8e8e8e">A</text><text x="349.1" y="1273.6" fill="#8e8e8e">C</text><text x="365.6" y="1273.6" fill="#8e8e8e">G</text><text x="382.1" y="1273.6" fill="#8e8e8e">A</text><text x="390.4" y="1273.6" fill="#8e8e8e">U</text><text x="398.6" y="1273.6" fill="#8e8e8e">C</text><text x="415.1" y="1273.6" fill="#2a2a2a" font-weight="bold">Y</text><text x="431.6" y="1273.6" fill="#8e8e8e">G</text><text x="456.4" y="1273.6" fill="#8e8e8e">A</text><text x="464.6" y="1273.6" fill="#8e8e8e">R</text><text x="472.9" y="1273.6" fill="#8e8e8e">Y</text><text x="481.1" y="1273.6" fill="#8e8e8e">C</text><text x="489.4" y="1273.6" fill="#8e8e8e">Y</text><text x="497.6" y="1273.6" fill="#8e8e8e">G</text><text x="505.9" y="1273.6" fill="#8e8e8e">C</text><text x="514.1" y="1273.6" fill="#8e8e8e">A</text><text x="522.4" y="1273.6" fill="#8e8e8e">U</text><text x="530.6" y="1273.6" fill="#8e8e8e">U</text><text x="538.9" y="1273.6" fill="#8e8e8e">Y</text><text x="547.1" y="1273.6" fill="#8e8e8e">A</text><text x="555.4" y="1273.6" fill="#2a2a2a" font-weight="bold">C</text><text x="563.6" y="1273.6" fill="#8e8e8e">A</text><text x="571.9" y="1273.6" fill="#8e8e8e">A</text><text x="580.1" y="1273.6" fill="#8e8e8e">G</text><text x="588.4" y="1273.6" fill="#2a2a2a" font-weight="bold">G</text><text x="596.6" y="1273.6" fill="#8e8e8e">U</text><text x="613.1" y="1273.6" fill="#8e8e8e">G</text><text x="621.4" y="1273.6" fill="#8e8e8e">R</text><text x="629.6" y="1273.6" fill="#8e8e8e">U</text><text x="646.1" y="1273.6" fill="#8e8e8e">R</text><text x="654.4" y="1273.6" fill="#8e8e8e">C</text><text x="662.6" y="1273.6" fill="#2a2a2a" font-weight="bold">R</text><text x="670.9" y="1273.6" fill="#2a2a2a" font-weight="bold">Y</text><text x="679.1" y="1273.6" fill="#8e8e8e">R</text><text x="687.4" y="1273.6" fill="#8e8e8e">A</text><text x="12" y="1273.4" font-size="6.5" fill="#222">5′</text><text x="88.6" y="1267.7" fill="#8e8e8e">Y</text><text x="75.0" y="1251.4" fill="#8e8e8e">Y</text><text x="75.0" y="1243.0" fill="#8e8e8e">Y</text><text x="88.6" y="1235.0" fill="#2a2a2a" font-weight="bold">Y</text><text x="75.0" y="1226.8" fill="#8e8e8e">R</text><text x="88.6" y="1226.8" fill="#8e8e8e">Y</text><text x="69.6" y="1219.8" fill="#2a2a2a" font-weight="bold">R</text><text x="92.4" y="1219.8" fill="#8e8e8e">Y</text><text x="133.0" y="1267.7" fill="#8e8e8e">R</text><text x="146.3" y="1267.7" fill="#8e8e8e">Y</text><text x="146.3" y="1259.9" fill="#8e8e8e">Y</text><text x="146.3" y="1251.4" fill="#8e8e8e">R</text><text x="146.3" y="1243.0" fill="#8e8e8e">Y</text><text x="133.0" y="1226.8" fill="#8e8e8e">Y</text><text x="146.3" y="1226.8" fill="#2a2a2a" font-weight="bold">R</text><text x="133.0" y="1218.3" fill="#2a2a2a" font-weight="bold">Y</text><text x="146.3" y="1218.3" fill="#8e8e8e">R</text><text x="133.0" y="1209.9" fill="#8e8e8e">G</text><text x="146.3" y="1209.9" fill="#8e8e8e">C</text><text x="133.0" y="1201.8" fill="#8e8e8e">G</text><text x="133.0" y="1193.8" fill="#2a2a2a" font-weight="bold">Y</text><text x="146.3" y="1193.8" fill="#2a2a2a" font-weight="bold">R</text><text x="133.0" y="1185.0" fill="#8e8e8e">G</text><text x="146.3" y="1185.0" fill="#8e8e8e">C</text><text x="133.0" y="1177.2" fill="#8e8e8e">C</text><text x="146.3" y="1177.2" fill="#8e8e8e">G</text><text x="125.6" y="1198.7" fill="#8e8e8e">A</text><text x="117.8" y="1171.2" fill="#8e8e8e">G</text><text x="111.4" y="1164.9" fill="#2a2a2a" font-weight="bold">Y</text><text x="102.4" y="1150.8" fill="#8e8e8e">Y</text><text x="101.7" y="1142.7" fill="#8e8e8e">Y</text><text x="102.8" y="1126.9" fill="#8e8e8e">R</text><text x="111.9" y="1112.8" fill="#8e8e8e">C</text><text x="117.8" y="1106.9" fill="#2a2a2a" font-weight="bold">C</text><text x="124.9" y="1104.3" fill="#8e8e8e">U</text><text x="146.1" y="1101.0" fill="#2a2a2a" font-weight="bold">G</text><text x="154.7" y="1101.6" fill="#8e8e8e">Y</text><text x="176.9" y="1112.8" fill="#8e8e8e">Y</text><text x="181.1" y="1119.1" fill="#8e8e8e">G</text><text x="184.7" y="1126.9" fill="#8e8e8e">U</text><text x="186.2" y="1134.9" fill="#8e8e8e">A</text><text x="186.2" y="1142.7" fill="#8e8e8e">G</text><text x="184.7" y="1150.8" fill="#2a2a2a" font-weight="bold">A</text><text x="181.1" y="1159.0" fill="#8e8e8e">U</text><text x="155.1" y="1177.2" fill="#2a2a2a" font-weight="bold">Y</text><text x="146.1" y="1093.2" fill="#2a2a2a" font-weight="bold">Y</text><text x="133.0" y="1084.7" fill="#2a2a2a" font-weight="bold">R</text><text x="146.1" y="1084.7" fill="#8e8e8e">Y</text><text x="133.0" y="1076.3" fill="#8e8e8e">R</text><text x="146.1" y="1076.3" fill="#8e8e8e">Y</text><text x="133.0" y="1067.8" fill="#8e8e8e">Y</text><text x="146.1" y="1067.8" fill="#8e8e8e">R</text><text x="148.8" y="1060.0" fill="#8e8e8e">A</text><text x="438.9" y="1268.0" fill="#8e8e8e">G</text><text x="438.9" y="1259.9" fill="#8e8e8e">C</text><text x="452.5" y="1259.9" fill="#8e8e8e">R</text><text x="438.9" y="1251.4" fill="#d01010">Y</text><text x="452.5" y="1251.4" fill="#2a2a2a" font-weight="bold">G</text><text x="438.9" y="1243.0" fill="#2a2a2a" font-weight="bold">G</text><text x="452.5" y="1243.0" fill="#8e8e8e">C</text><text x="438.9" y="1235.0" fill="#8e8e8e">G</text><text x="452.5" y="1235.0" fill="#8e8e8e">Y</text><text x="436.7" y="1226.8" fill="#8e8e8e">Y</text><text x="868.7" y="1134.2" fill="#8e8e8e">Y</text><text x="877.0" y="1134.2" fill="#8e8e8e">Y</text><text x="893.0" y="1134.2" fill="#8e8e8e">R</text><text x="901.1" y="1134.2" fill="#2a2a2a" font-weight="bold">R</text><text x="905.5" y="1152.2" fill="#8e8e8e">A</text><text x="851.9" y="1147.5" fill="#8e8e8e">Y</text><text x="885.1" y="1147.5" fill="#2a2a2a" font-weight="bold">Y</text><text x="893.0" y="1147.5" fill="#8e8e8e">Y</text><text x="901.1" y="1147.5" fill="#8e8e8e">Y</text><text x="827.1" y="1159.3" fill="#8e8e8e">R</text><text x="835.2" y="1159.3" fill="#8e8e8e">R</text><text x="877.0" y="1159.3" fill="#8e8e8e">Y</text><text x="885.1" y="1159.3" fill="#2a2a2a" font-weight="bold">Y</text><text x="893.0" y="1159.3" fill="#8e8e8e">G</text><text x="901.1" y="1159.3" fill="#8e8e8e">G</text><text x="909.9" y="1159.3" fill="#2a2a2a" font-weight="bold">Y</text><text x="917.8" y="1159.3" fill="#8e8e8e">G</text><text x="925.9" y="1159.3" fill="#8e8e8e">C</text><text x="835.2" y="1172.6" fill="#8e8e8e">Y</text><text x="843.5" y="1172.6" fill="#8e8e8e">Y</text><text x="851.9" y="1172.6" fill="#8e8e8e">R</text><text x="860.3" y="1172.6" fill="#8e8e8e">Y</text><text x="877.0" y="1172.6" fill="#2a2a2a" font-weight="bold">R</text><text x="885.1" y="1172.6" fill="#8e8e8e">R</text><text x="893.0" y="1172.6" fill="#8e8e8e">C</text><text x="909.9" y="1172.6" fill="#2a2a2a" font-weight="bold">R</text><text x="917.8" y="1172.6" fill="#8e8e8e">C</text><text x="925.9" y="1172.6" fill="#8e8e8e">G</text><text x="928.7" y="1150.7" fill="#8e8e8e">C</text><text x="932.2" y="1144.4" fill="#8e8e8e">G</text><text x="937.7" y="1136.9" fill="#2a2a2a" font-weight="bold">Y</text><text x="951.8" y="1129.0" fill="#8e8e8e">Y</text><text x="959.7" y="1127.1" fill="#8e8e8e">Y</text><text x="976.9" y="1129.0" fill="#8e8e8e">R</text><text x="991.0" y="1136.9" fill="#8e8e8e">C</text><text x="996.2" y="1144.4" fill="#2a2a2a" font-weight="bold">C</text><text x="999.7" y="1150.7" fill="#8e8e8e">U</text><text x="1018.8" y="1159.3" fill="#2a2a2a" font-weight="bold">R</text><text x="1027.1" y="1159.3" fill="#8e8e8e">R</text><text x="1035.4" y="1159.3" fill="#8e8e8e">Y</text><text x="1043.6" y="1175.0" fill="#8e8e8e">A</text><text x="1002.5" y="1172.3" fill="#2a2a2a" font-weight="bold">G</text><text x="1011.0" y="1172.3" fill="#2a2a2a" font-weight="bold">Y</text><text x="1018.8" y="1172.3" fill="#8e8e8e">Y</text><text x="1027.1" y="1172.3" fill="#8e8e8e">Y</text><text x="1035.4" y="1172.3" fill="#8e8e8e">R</text><text x="1001.5" y="1180.5" fill="#8e8e8e">Y</text><text x="990.3" y="1202.1" fill="#8e8e8e">Y</text><text x="984.0" y="1206.8" fill="#8e8e8e">G</text><text x="969.1" y="1205.6" fill="#8e8e8e">C</text><text x="961.7" y="1202.1" fill="#8e8e8e">U</text><text x="953.4" y="1200.1" fill="#8e8e8e">A</text><text x="926.7" y="1180.5" fill="#2a2a2a" font-weight="bold">Y</text><text x="922.0" y="1206.4" fill="#8e8e8e">C</text><text x="916.2" y="1212.3" fill="#8e8e8e">A</text><text x="911.0" y="1218.1" fill="#8e8e8e">R</text><text x="907.4" y="1225.7" fill="#2a2a2a" font-weight="bold">G</text><text x="944.7" y="1207.2" fill="#8e8e8e">U</text><text x="951.8" y="1211.6" fill="#2a2a2a" font-weight="bold">A</text><text x="960.1" y="1213.4" fill="#8e8e8e">G</text><text x="968.3" y="1213.4" fill="#8e8e8e">A</text><text x="979.6" y="1218.1" fill="#2a2a2a" font-weight="bold">Y</text><text x="827.1" y="1233.8" fill="#8e8e8e">Y</text><text x="850.6" y="1233.8" fill="#8e8e8e">G</text><text x="859.2" y="1233.8" fill="#8e8e8e">Y</text><text x="882.0" y="1219.7" fill="#8e8e8e">R</text><text x="888.3" y="1224.7" fill="#8e8e8e">R</text><text x="888.3" y="1233.8" fill="#8e8e8e">R</text><text x="896.4" y="1233.8" fill="#2a2a2a" font-weight="bold">Y</text><text x="904.0" y="1233.8" fill="#2a2a2a" font-weight="bold">C</text><text x="834.1" y="1251.1" fill="#8e8e8e">A</text><text x="842.4" y="1247.2" fill="#8e8e8e">R</text><text x="850.6" y="1247.2" fill="#2a2a2a" font-weight="bold">Y</text><text x="859.2" y="1247.2" fill="#2a2a2a" font-weight="bold">R</text><text x="867.4" y="1247.2" fill="#8e8e8e">C</text><text x="873.4" y="1251.9" fill="#8e8e8e">R</text><text x="888.3" y="1247.2" fill="#8e8e8e">U</text><text x="896.4" y="1247.2" fill="#8e8e8e">R</text><text x="904.0" y="1247.2" fill="#8e8e8e">G</text><text x="906.8" y="1263.3" fill="#8e8e8e">U</text><text x="909.9" y="1271.5" fill="#2a2a2a" font-weight="bold">G</text><text x="916.2" y="1277.0" fill="#8e8e8e">G</text><text x="921.2" y="1282.5" fill="#8e8e8e">A</text><text x="928.3" y="1287.2" fill="#8e8e8e">A</text><text x="936.9" y="1289.2" fill="#2a2a2a" font-weight="bold">C</text><text x="945.5" y="1289.5" fill="#8e8e8e">A</text><text x="953.4" y="1288.8" fill="#8e8e8e">Y</text><text x="961.7" y="1287.2" fill="#8e8e8e">U</text><text x="969.1" y="1283.3" fill="#8e8e8e">U</text><text x="974.6" y="1277.0" fill="#8e8e8e">A</text><text x="979.6" y="1271.2" fill="#8e8e8e">C</text><text x="984.0" y="1262.9" fill="#8e8e8e">G</text><text x="990.3" y="1259.7" fill="#8e8e8e">R</text><text x="996.2" y="1255.5" fill="#8e8e8e">A</text><text x="984.8" y="1254.2" fill="#8e8e8e">W</text><text x="985.9" y="1233.8" fill="#8e8e8e">G</text><text x="994.2" y="1233.8" fill="#8e8e8e">G</text><text x="1002.5" y="1233.8" fill="#8e8e8e">C</text><text x="1010.6" y="1233.8" fill="#d01010">Y</text><text x="1018.8" y="1233.8" fill="#2a2a2a" font-weight="bold">G</text><text x="1027.1" y="1233.8" fill="#8e8e8e">G</text><text x="1035.4" y="1231.0" fill="#8e8e8e">Y</text><text x="1027.6" y="1247.2" fill="#8e8e8e">Y</text><text x="1018.8" y="1247.2" fill="#8e8e8e">C</text><text x="1011.0" y="1247.2" fill="#2a2a2a" font-weight="bold">G</text><text x="1002.8" y="1247.2" fill="#8e8e8e">R</text><text x="985.9" y="1247.2" fill="#8e8e8e">C</text><text x="817.7" y="1099.0" font-size="6.5" fill="#222">5′</text><text x="1193.0" y="1138.7" fill="#8e8e8e">Y</text><text x="1201.4" y="1138.7" fill="#8e8e8e">Y</text><text x="1218.9" y="1138.7" fill="#8e8e8e">R</text><text x="1227.3" y="1138.7" fill="#2a2a2a" font-weight="bold">R</text><text x="1176.1" y="1152.6" fill="#8e8e8e">Y</text><text x="1210.2" y="1152.6" fill="#2a2a2a" font-weight="bold">Y</text><text x="1218.9" y="1152.6" fill="#8e8e8e">Y</text><text x="1227.3" y="1152.6" fill="#8e8e8e">Y</text><text x="1232.0" y="1157.4" fill="#8e8e8e">A</text><text x="1150.4" y="1164.7" fill="#8e8e8e">R</text><text x="1158.9" y="1164.7" fill="#8e8e8e">R</text><text x="1201.4" y="1164.7" fill="#8e8e8e">Y</text><text x="1209.9" y="1164.7" fill="#2a2a2a" font-weight="bold">Y</text><text x="1218.2" y="1164.7" fill="#8e8e8e">G</text><text x="1226.9" y="1164.7" fill="#8e8e8e">G</text><text x="1236.1" y="1164.7" fill="#2a2a2a" font-weight="bold">Y</text><text x="1244.4" y="1164.7" fill="#8e8e8e">G</text><text x="1253.1" y="1164.7" fill="#8e8e8e">C</text><text x="1158.9" y="1178.8" fill="#8e8e8e">Y</text><text x="1167.6" y="1178.8" fill="#8e8e8e">Y</text><text x="1176.1" y="1178.8" fill="#8e8e8e">R</text><text x="1184.6" y="1178.8" fill="#8e8e8e">Y</text><text x="1201.4" y="1178.8" fill="#2a2a2a" font-weight="bold">R</text><text x="1209.9" y="1178.8" fill="#8e8e8e">R</text><text x="1218.2" y="1178.8" fill="#8e8e8e">C</text><text x="1236.1" y="1178.8" fill="#2a2a2a" font-weight="bold">R</text><text x="1244.4" y="1178.8" fill="#8e8e8e">C</text><text x="1253.1" y="1178.8" fill="#8e8e8e">G</text><text x="1259.0" y="1158.1" fill="#8e8e8e">C</text><text x="1267.0" y="1156.4" fill="#8e8e8e">G</text><text x="1275.7" y="1158.1" fill="#2a2a2a" font-weight="bold">Y</text><text x="1290.0" y="1164.7" fill="#8e8e8e">Y</text><text x="1298.3" y="1164.7" fill="#8e8e8e">Y</text><text x="1314.3" y="1164.7" fill="#8e8e8e">R</text><text x="1326.0" y="1157.4" fill="#8e8e8e">C</text><text x="1334.7" y="1152.6" fill="#2a2a2a" font-weight="bold">C</text><text x="1340.6" y="1157.4" fill="#8e8e8e">U</text><text x="1361.7" y="1164.7" fill="#2a2a2a" font-weight="bold">R</text><text x="1370.5" y="1164.7" fill="#8e8e8e">R</text><text x="1379.2" y="1164.7" fill="#8e8e8e">Y</text><text x="1386.5" y="1181.4" fill="#8e8e8e">A</text><text x="1281.6" y="1178.8" fill="#8e8e8e">U</text><text x="1290.0" y="1178.8" fill="#2a2a2a" font-weight="bold">A</text><text x="1298.3" y="1178.8" fill="#8e8e8e">G</text><text x="1314.3" y="1178.8" fill="#8e8e8e">Y</text><text x="1337.7" y="1184.1" fill="#8e8e8e">Y</text><text x="1343.9" y="1178.8" fill="#2a2a2a" font-weight="bold">G</text><text x="1352.7" y="1178.8" fill="#2a2a2a" font-weight="bold">Y</text><text x="1361.4" y="1178.8" fill="#8e8e8e">Y</text><text x="1370.2" y="1178.8" fill="#8e8e8e">Y</text><text x="1378.5" y="1178.8" fill="#8e8e8e">R</text><text x="1255.3" y="1187.3" fill="#2a2a2a" font-weight="bold">Y</text><text x="1298.8" y="1187.3" fill="#8e8e8e">A</text><text x="1306.0" y="1191.6" fill="#8e8e8e">U</text><text x="1313.3" y="1187.3" fill="#8e8e8e">G</text><text x="1281.6" y="1203.3" fill="#8e8e8e">G</text><text x="1297.6" y="1207.7" fill="#8e8e8e">A</text><text x="1304.9" y="1212.0" fill="#8e8e8e">U</text><text x="1310.7" y="1217.9" fill="#8e8e8e">C</text><text x="1264.1" y="1207.7" fill="#8e8e8e">C</text><text x="1257.5" y="1212.3" fill="#8e8e8e">A</text><text x="1251.2" y="1218.6" fill="#8e8e8e">R</text><text x="1247.3" y="1225.2" fill="#2a2a2a" font-weight="bold">G</text><text x="1158.9" y="1233.9" fill="#8e8e8e">Y</text><text x="1184.6" y="1233.9" fill="#8e8e8e">G</text><text x="1193.0" y="1233.9" fill="#8e8e8e">Y</text><text x="1218.2" y="1233.9" fill="#8e8e8e">R</text><text x="1226.9" y="1233.9" fill="#8e8e8e">R</text><text x="1236.1" y="1233.9" fill="#2a2a2a" font-weight="bold">Y</text><text x="1244.4" y="1233.9" fill="#2a2a2a" font-weight="bold">C</text><text x="1219.2" y="1225.2" fill="#8e8e8e">R</text><text x="1167.6" y="1247.7" fill="#8e8e8e">A</text><text x="1176.1" y="1247.7" fill="#8e8e8e">R</text><text x="1184.6" y="1247.7" fill="#2a2a2a" font-weight="bold">Y</text><text x="1193.0" y="1247.7" fill="#2a2a2a" font-weight="bold">R</text><text x="1201.4" y="1247.7" fill="#8e8e8e">C</text><text x="1210.2" y="1247.7" fill="#8e8e8e">R</text><text x="1226.9" y="1247.7" fill="#8e8e8e">U</text><text x="1236.1" y="1247.7" fill="#8e8e8e">R</text><text x="1244.4" y="1247.7" fill="#8e8e8e">G</text><text x="1246.6" y="1264.5" fill="#8e8e8e">U</text><text x="1251.0" y="1272.1" fill="#2a2a2a" font-weight="bold">G</text><text x="1257.1" y="1277.6" fill="#8e8e8e">G</text><text x="1264.8" y="1282.7" fill="#8e8e8e">A</text><text x="1272.8" y="1285.6" fill="#8e8e8e">A</text><text x="1280.8" y="1287.1" fill="#2a2a2a" font-weight="bold">C</text><text x="1289.6" y="1285.6" fill="#8e8e8e">A</text><text x="1297.6" y="1282.7" fill="#8e8e8e">Y</text><text x="1304.9" y="1278.4" fill="#8e8e8e">U</text><text x="1310.7" y="1272.5" fill="#8e8e8e">U</text><text x="1314.3" y="1264.2" fill="#8e8e8e">A</text><text x="1316.8" y="1256.5" fill="#8e8e8e">C</text><text x="1318.0" y="1233.9" fill="#2a2a2a" font-weight="bold">Y</text><text x="1334.7" y="1233.9" fill="#8e8e8e">G</text><text x="1343.5" y="1233.9" fill="#8e8e8e">G</text><text x="1352.2" y="1233.9" fill="#8e8e8e">C</text><text x="1360.5" y="1233.9" fill="#d01010">Y</text><text x="1369.0" y="1233.9" fill="#2a2a2a" font-weight="bold">G</text><text x="1377.7" y="1233.9" fill="#8e8e8e">G</text><text x="1385.8" y="1230.3" fill="#8e8e8e">Y</text><text x="1318.0" y="1247.7" fill="#8e8e8e">G</text><text x="1326.7" y="1247.7" fill="#8e8e8e">Y</text><text x="1334.7" y="1247.7" fill="#8e8e8e">C</text><text x="1352.2" y="1247.7" fill="#8e8e8e">R</text><text x="1360.5" y="1247.7" fill="#2a2a2a" font-weight="bold">G</text><text x="1369.0" y="1247.7" fill="#8e8e8e">C</text><text x="1377.7" y="1247.7" fill="#8e8e8e">Y</text><text x="1332.6" y="1256.5" fill="#8e8e8e">Y</text><text x="1339.1" y="1260.9" fill="#8e8e8e">R</text><text x="1345.7" y="1256.5" fill="#8e8e8e">A</text><text x="1141.4" y="1100.5" font-size="6.5" fill="#222">5′</text><text x="1461.0" y="1111.7" fill="#2a2a2a" font-weight="bold">R</text><text x="1474.0" y="1111.7" fill="#8e8e8e">Y</text><text x="1461.0" y="1119.4" fill="#8e8e8e">R</text><text x="1474.0" y="1119.4" fill="#8e8e8e">Y</text><text x="1474.0" y="1127.2" fill="#2a2a2a" font-weight="bold">Y</text><text x="1461.0" y="1135.3" fill="#8e8e8e">Y</text><text x="1461.0" y="1143.3" fill="#8e8e8e">Y</text><text x="1474.0" y="1159.2" fill="#8e8e8e">Y</text><text x="1485.8" y="1201.9" fill="#8e8e8e">R</text><text x="1493.1" y="1201.9" fill="#8e8e8e">R</text><text x="1532.4" y="1201.9" fill="#8e8e8e">Y</text><text x="1540.5" y="1201.9" fill="#2a2a2a" font-weight="bold">Y</text><text x="1548.1" y="1201.9" fill="#8e8e8e">G</text><text x="1555.8" y="1201.9" fill="#8e8e8e">G</text><text x="1564.4" y="1201.9" fill="#2a2a2a" font-weight="bold">Y</text><text x="1572.1" y="1201.9" fill="#8e8e8e">G</text><text x="1579.7" y="1201.9" fill="#8e8e8e">C</text><text x="1560.1" y="1195.1" fill="#8e8e8e">A</text><text x="1584.0" y="1196.3" fill="#8e8e8e">C</text><text x="1592.9" y="1194.2" fill="#8e8e8e">G</text><text x="1600.3" y="1195.6" fill="#2a2a2a" font-weight="bold">Y</text><text x="1613.4" y="1201.9" fill="#8e8e8e">Y</text><text x="1621.6" y="1201.9" fill="#8e8e8e">Y</text><text x="1637.0" y="1201.9" fill="#8e8e8e">R</text><text x="1652.7" y="1201.9" fill="#8e8e8e">C</text><text x="1655.4" y="1194.2" fill="#2a2a2a" font-weight="bold">C</text><text x="1663.5" y="1194.2" fill="#8e8e8e">U</text><text x="1683.1" y="1201.9" fill="#2a2a2a" font-weight="bold">R</text><text x="1690.8" y="1201.9" fill="#8e8e8e">R</text><text x="1698.5" y="1201.9" fill="#8e8e8e">Y</text><text x="1706.5" y="1217.3" fill="#8e8e8e">A</text><text x="1493.1" y="1214.4" fill="#8e8e8e">Y</text><text x="1501.2" y="1214.4" fill="#8e8e8e">Y</text><text x="1508.8" y="1214.4" fill="#8e8e8e">R</text><text x="1516.9" y="1214.4" fill="#8e8e8e">Y</text><text x="1532.4" y="1214.4" fill="#2a2a2a" font-weight="bold">R</text><text x="1540.5" y="1214.4" fill="#8e8e8e">R</text><text x="1548.1" y="1214.4" fill="#8e8e8e">C</text><text x="1564.4" y="1214.4" fill="#2a2a2a" font-weight="bold">R</text><text x="1572.1" y="1214.4" fill="#8e8e8e">C</text><text x="1579.7" y="1214.4" fill="#8e8e8e">G</text><text x="1605.7" y="1214.4" fill="#8e8e8e">U</text><text x="1613.4" y="1214.4" fill="#2a2a2a" font-weight="bold">A</text><text x="1621.6" y="1214.4" fill="#8e8e8e">G</text><text x="1629.3" y="1214.4" fill="#8e8e8e">G</text><text x="1637.3" y="1214.4" fill="#8e8e8e">Y</text><text x="1660.1" y="1218.1" fill="#8e8e8e">Y</text><text x="1667.2" y="1214.4" fill="#2a2a2a" font-weight="bold">G</text><text x="1675.1" y="1214.4" fill="#2a2a2a" font-weight="bold">Y</text><text x="1683.1" y="1214.4" fill="#8e8e8e">Y</text><text x="1690.8" y="1214.4" fill="#8e8e8e">Y</text><text x="1698.5" y="1214.4" fill="#8e8e8e">R</text><text x="1582.3" y="1222.1" fill="#2a2a2a" font-weight="bold">Y</text><text x="1621.6" y="1222.4" fill="#8e8e8e">A</text><text x="1629.3" y="1222.4" fill="#8e8e8e">U</text><text x="1508.5" y="1241.2" fill="#8e8e8e">Y</text><text x="1532.4" y="1241.2" fill="#8e8e8e">G</text><text x="1540.5" y="1241.2" fill="#8e8e8e">Y</text><text x="1564.0" y="1241.2" fill="#8e8e8e">R</text><text x="1571.7" y="1241.2" fill="#8e8e8e">R</text><text x="1579.7" y="1241.2" fill="#2a2a2a" font-weight="bold">Y</text><text x="1587.4" y="1241.2" fill="#2a2a2a" font-weight="bold">C</text><text x="1595.5" y="1241.2" fill="#2a2a2a" font-weight="bold">G</text><text x="1603.7" y="1241.2" fill="#8e8e8e">A</text><text x="1611.4" y="1241.2" fill="#8e8e8e">C</text><text x="1626.4" y="1241.2" fill="#8e8e8e">G</text><text x="1641.3" y="1241.2" fill="#8e8e8e">A</text><text x="1647.2" y="1236.1" fill="#8e8e8e">U</text><text x="1655.4" y="1236.1" fill="#8e8e8e">C</text><text x="1564.0" y="1233.0" fill="#8e8e8e">R</text><text x="1599.4" y="1234.4" fill="#8e8e8e">R</text><text x="1669.4" y="1241.2" fill="#2a2a2a" font-weight="bold">Y</text><text x="1685.2" y="1241.2" fill="#8e8e8e">G</text><text x="1693.0" y="1241.2" fill="#8e8e8e">G</text><text x="1701.1" y="1241.2" fill="#8e8e8e">C</text><text x="1709.1" y="1241.2" fill="#d01010">Y</text><text x="1717.3" y="1241.2" fill="#2a2a2a" font-weight="bold">G</text><text x="1725.0" y="1241.2" fill="#8e8e8e">G</text><text x="1732.7" y="1238.6" fill="#8e8e8e">Y</text><text x="1516.9" y="1254.3" fill="#8e8e8e">A</text><text x="1524.7" y="1254.3" fill="#8e8e8e">R</text><text x="1532.4" y="1254.3" fill="#2a2a2a" font-weight="bold">Y</text><text x="1540.5" y="1254.3" fill="#2a2a2a" font-weight="bold">R</text><text x="1548.1" y="1254.3" fill="#8e8e8e">C</text><text x="1556.2" y="1254.3" fill="#8e8e8e">R</text><text x="1571.7" y="1254.3" fill="#8e8e8e">U</text><text x="1579.7" y="1254.3" fill="#8e8e8e">R</text><text x="1587.4" y="1254.3" fill="#8e8e8e">G</text><text x="1603.7" y="1254.3" fill="#8e8e8e">U</text><text x="1611.4" y="1254.3" fill="#2a2a2a" font-weight="bold">G</text><text x="1625.9" y="1254.3" fill="#2a2a2a" font-weight="bold">C</text><text x="1633.6" y="1254.3" fill="#8e8e8e">A</text><text x="1641.3" y="1254.3" fill="#8e8e8e">Y</text><text x="1661.8" y="1254.3" fill="#8e8e8e">C</text><text x="1669.4" y="1254.3" fill="#8e8e8e">G</text><text x="1677.5" y="1254.3" fill="#8e8e8e">Y</text><text x="1685.2" y="1254.3" fill="#8e8e8e">C</text><text x="1701.1" y="1254.3" fill="#8e8e8e">R</text><text x="1709.1" y="1254.3" fill="#2a2a2a" font-weight="bold">G</text><text x="1717.3" y="1254.3" fill="#8e8e8e">C</text><text x="1725.0" y="1254.3" fill="#8e8e8e">Y</text><text x="1612.2" y="1262.5" fill="#8e8e8e">G</text><text x="1618.5" y="1266.0" fill="#8e8e8e">A</text><text x="1625.9" y="1262.5" fill="#8e8e8e">A</text><text x="1644.7" y="1261.4" fill="#8e8e8e">U</text><text x="1651.5" y="1264.3" fill="#8e8e8e">U</text><text x="1658.3" y="1261.4" fill="#8e8e8e">A</text><text x="1682.3" y="1261.4" fill="#8e8e8e">Y</text><text x="1689.6" y="1266.0" fill="#8e8e8e">R</text><text x="1695.4" y="1261.4" fill="#8e8e8e">A</text><text x="1440.8" y="1194.6" font-size="6.5" fill="#222">5′</text></g>
<text x="21" y="992" font-size="24.2">γ = 2</text>
<text x="23" y="1180" font-size="24.2">γ = 4</text>
<text x="827" y="1077" font-size="24.2">γ = 8</text>
<text x="1147.5" y="1079.6" font-size="24.2">γ = 16</text>
<text x="1440.5" y="1080" font-size="24.2">γ = 64</text>
<rect x="794.4" y="1044.9" width="271.2" height="262.1" fill="none" stroke="#d7262e" stroke-width="2.2"/>
<g font-size="29" text-anchor="middle"><text x="1840" y="1046.8">Nucleotide</text><text x="1840.6" y="1075.5">Present</text><text x="2001" y="1046.8">Nucleotide</text><text x="2000.7" y="1075.5">Identity</text></g>
<circle cx="1808.8" cy="1107.4" r="9.5" fill="#d40d0d" stroke="#111" stroke-width="1.1"/>
<text x="1826.8" y="1113.7" font-size="24">97%</text>
<circle cx="1808.8" cy="1144.9" r="9.5" fill="#000000" stroke="#111" stroke-width="1.1"/>
<text x="1826.8" y="1151.2" font-size="24">90%</text>
<circle cx="1808.8" cy="1182.4" r="9.5" fill="#808087" stroke="#111" stroke-width="1.1"/>
<text x="1826.8" y="1188.7" font-size="24">75%</text>
<circle cx="1808.8" cy="1219.9" r="9.5" fill="#ffffff" stroke="#111" stroke-width="1.1"/>
<text x="1826.8" y="1226.2" font-size="24">50%</text>
<text x="1966.2" y="1113.7" font-size="24" fill="#cc1010">N</text><text x="1994.3" y="1113.7" font-size="24">97%</text>
<text x="1966.2" y="1151.2" font-size="24" fill="#000">N</text><text x="1994.3" y="1151.2" font-size="24">90%</text>
<text x="1966.2" y="1188.7" font-size="24" fill="#8a8a90">N</text><text x="1994.3" y="1188.7" font-size="24">75%</text>
<text x="1966.2" y="1226.2" font-size="24.6">R = A or G</text>
<text x="1966.2" y="1263" font-size="24.6">Y = C or U</text>
<g class="lg" font-family="Liberation Sans,Arial,sans-serif" font-weight="bold" font-size="100" stroke="#1a1a1a" stroke-width="0.8">
<text transform="matrix(0.2201,0,0,0.0252,129.27,1745.80)" fill="#d92a3b" stroke-width="1.0">T</text>
<text transform="matrix(0.1982,0,0,0.0313,128.71,1744.04)" fill="#2b63ad" stroke-width="1.0">C</text>
<text transform="matrix(0.2201,0,0,0.0322,129.27,1741.85)" fill="#d92a3b" stroke-width="1.0">T</text>
<text transform="matrix(0.1932,0,0,0.1599,129.04,1739.64)" fill="#1f9448">A</text>
<text transform="matrix(0.1921,0,0,0.3107,128.73,1728.34)" fill="#f5b02c">G</text>
<text transform="matrix(0.2201,0,0,0.0359,142.83,1745.80)" fill="#d92a3b" stroke-width="1.0">T</text>
<text transform="matrix(0.1932,0,0,0.0241,142.60,1743.33)" fill="#1f9448" stroke-width="1.0">A</text>
<text transform="matrix(0.1921,0,0,0.0222,142.29,1741.65)" fill="#f5b02c" stroke-width="1.0">G</text>
<text transform="matrix(0.1982,0,0,0.0358,142.27,1740.07)" fill="#2b63ad" stroke-width="1.0">C</text>
<text transform="matrix(0.1921,0,0,0.0565,142.29,1737.51)" fill="#f5b02c" stroke-width="1.0">G</text>
<text transform="matrix(0.1932,0,0,0.0412,156.16,1745.80)" fill="#1f9448" stroke-width="1.0">A</text>
<text transform="matrix(0.1982,0,0,0.0213,155.83,1742.94)" fill="#2b63ad" stroke-width="1.0">C</text>
<text transform="matrix(0.1932,0,0,0.0367,156.16,1741.46)" fill="#1f9448" stroke-width="1.0">A</text>
<text transform="matrix(0.1982,0,0,0.0443,155.83,1738.89)" fill="#2b63ad" stroke-width="1.0">C</text>
<text transform="matrix(0.2201,0,0,0.0654,169.95,1745.80)" fill="#d92a3b" stroke-width="1.0">T</text>
<text transform="matrix(0.1932,0,0,0.0872,169.72,1741.30)" fill="#1f9448">A</text>
<text transform="matrix(0.1982,0,0,0.1059,169.39,1735.20)" fill="#2b63ad">C</text>
<text transform="matrix(0.1921,0,0,0.3390,169.41,1727.47)" fill="#f5b02c">G</text>
<text transform="matrix(0.2201,0,0,0.0654,183.51,1745.80)" fill="#d92a3b" stroke-width="1.0">T</text>
<text transform="matrix(0.1932,0,0,0.0727,183.28,1741.30)" fill="#1f9448">A</text>
<text transform="matrix(0.1921,0,0,0.1271,182.97,1736.18)" fill="#f5b02c">G</text>
<text transform="matrix(0.1921,0,0,0.0396,196.53,1745.76)" fill="#f5b02c" stroke-width="1.0">G</text>
<text transform="matrix(0.1921,0,0,0.0326,210.09,1745.77)" fill="#f5b02c" stroke-width="1.0">G</text>
<text transform="matrix(0.1982,0,0,0.0310,210.07,1743.46)" fill="#2b63ad" stroke-width="1.0">C</text>
<text transform="matrix(0.2201,0,0,0.0654,210.63,1741.30)" fill="#d92a3b" stroke-width="1.0">T</text>
<text transform="matrix(0.1921,0,0,0.1271,210.09,1736.68)" fill="#f5b02c">G</text>
<text transform="matrix(0.2201,0,0,0.1977,224.19,1745.80)" fill="#d92a3b">T</text>
<text transform="matrix(0.1932,0,0,0.1977,223.96,1732.20)" fill="#1f9448">A</text>
<text transform="matrix(0.1921,0,0,0.9181,223.65,1717.70)" fill="#f5b02c">G</text>
<text transform="matrix(0.2201,0,0,0.1090,237.75,1745.80)" fill="#d92a3b">T</text>
<text transform="matrix(0.1982,0,0,0.1059,237.19,1738.20)" fill="#2b63ad">C</text>
<text transform="matrix(0.1921,0,0,0.2260,237.21,1730.58)" fill="#f5b02c">G</text>
<text transform="matrix(0.2201,0,0,0.0654,251.31,1745.80)" fill="#d92a3b" stroke-width="1.0">T</text>
<text transform="matrix(0.1982,0,0,0.0847,250.75,1741.22)" fill="#2b63ad">C</text>
<text transform="matrix(0.1921,0,0,0.1921,250.77,1735.11)" fill="#f5b02c">G</text>
<text transform="matrix(0.1932,0,0,1.4244,251.08,1721.70)" fill="#1f9448">A</text>
<text transform="matrix(0.2201,0,0,0.0654,264.87,1745.80)" fill="#d92a3b" stroke-width="1.0">T</text>
<text transform="matrix(0.1982,0,0,0.0636,264.31,1741.24)" fill="#2b63ad" stroke-width="1.0">C</text>
<text transform="matrix(0.1932,0,0,0.1453,264.64,1736.80)" fill="#1f9448">A</text>
<text transform="matrix(0.1921,0,0,0.3531,264.33,1726.45)" fill="#f5b02c">G</text>
<text transform="matrix(0.1921,0,0,0.0378,277.89,1745.76)" fill="#f5b02c" stroke-width="1.0">G</text>
<text transform="matrix(0.1932,0,0,0.0310,278.20,1743.13)" fill="#1f9448" stroke-width="1.0">A</text>
<text transform="matrix(0.1921,0,0,0.0314,277.89,1740.96)" fill="#f5b02c" stroke-width="1.0">G</text>
<text transform="matrix(0.1932,0,0,0.0334,278.20,1738.77)" fill="#1f9448" stroke-width="1.0">A</text>
<text transform="matrix(0.1921,0,0,0.1059,277.89,1736.37)" fill="#f5b02c">G</text>
<text transform="matrix(0.1932,0,0,0.0727,291.76,1745.80)" fill="#1f9448">A</text>
<text transform="matrix(0.2201,0,0,0.3634,291.99,1740.80)" fill="#d92a3b">T</text>
<text transform="matrix(0.1982,0,0,0.7768,291.43,1715.04)" fill="#2b63ad">C</text>
<text transform="matrix(0.1932,0,0,0.0727,305.32,1745.80)" fill="#1f9448">A</text>
<text transform="matrix(0.2201,0,0,0.3488,305.55,1740.80)" fill="#d92a3b">T</text>
<text transform="matrix(0.1982,0,0,1.2712,304.99,1715.55)" fill="#2b63ad">C</text>
<text transform="matrix(0.1932,0,0,0.1090,318.88,1745.80)" fill="#1f9448">A</text>
<text transform="matrix(0.1982,0,0,0.1271,318.55,1738.18)" fill="#2b63ad">C</text>
<text transform="matrix(0.1921,0,0,2.2740,318.57,1727.07)" fill="#f5b02c">G</text>
<text transform="matrix(0.1921,0,0,0.0300,332.13,1745.77)" fill="#f5b02c" stroke-width="1.0">G</text>
<text transform="matrix(0.1932,0,0,0.0211,332.44,1743.68)" fill="#1f9448" stroke-width="1.0">A</text>
<text transform="matrix(0.1921,0,0,0.0390,332.13,1742.19)" fill="#f5b02c" stroke-width="1.0">G</text>
<text transform="matrix(0.1932,0,0,0.1599,332.44,1739.46)" fill="#1f9448">A</text>
<text transform="matrix(0.2201,0,0,0.3416,332.67,1728.46)" fill="#d92a3b">T</text>
<text transform="matrix(0.1932,0,0,0.0305,346.00,1745.80)" fill="#1f9448" stroke-width="1.0">A</text>
<text transform="matrix(0.1932,0,0,0.0425,359.56,1745.80)" fill="#1f9448" stroke-width="1.0">A</text>
<text transform="matrix(0.2201,0,0,0.0727,359.79,1742.87)" fill="#d92a3b">T</text>
<text transform="matrix(0.1982,0,0,0.0706,359.23,1737.81)" fill="#2b63ad">C</text>
<text transform="matrix(0.2201,0,0,0.0177,373.35,1745.80)" fill="#d92a3b" stroke-width="1.0">T</text>
<text transform="matrix(0.1932,0,0,0.0259,373.12,1744.58)" fill="#1f9448" stroke-width="1.0">A</text>
<text transform="matrix(0.2201,0,0,0.0727,373.35,1742.80)" fill="#d92a3b">T</text>
<text transform="matrix(0.1921,0,0,0.1059,372.81,1737.70)" fill="#f5b02c">G</text>
<text transform="matrix(0.1982,0,0,0.2034,372.79,1730.10)" fill="#2b63ad">C</text>
<text transform="matrix(0.1982,0,0,0.0304,386.35,1745.77)" fill="#2b63ad" stroke-width="1.0">C</text>
<text transform="matrix(0.2201,0,0,0.0727,386.91,1743.64)" fill="#d92a3b">T</text>
<text transform="matrix(0.1921,0,0,0.1059,386.37,1738.54)" fill="#f5b02c">G</text>
<text transform="matrix(0.1982,0,0,0.2034,386.35,1730.95)" fill="#2b63ad">C</text>
<text transform="matrix(0.2201,0,0,0.0436,400.47,1745.80)" fill="#d92a3b" stroke-width="1.0">T</text>
<text transform="matrix(0.1921,0,0,0.0424,399.93,1742.76)" fill="#f5b02c" stroke-width="1.0">G</text>
<text transform="matrix(0.1982,0,0,0.0565,399.91,1739.74)" fill="#2b63ad" stroke-width="1.0">C</text>
<text transform="matrix(0.1932,0,0,0.0581,400.24,1735.80)" fill="#1f9448" stroke-width="1.0">A</text>
<text transform="matrix(0.1921,0,0,0.0283,413.49,1745.77)" fill="#f5b02c" stroke-width="1.0">G</text>
<text transform="matrix(0.1921,0,0,0.0396,413.49,1743.75)" fill="#f5b02c" stroke-width="1.0">G</text>
<text transform="matrix(0.2201,0,0,0.0872,414.03,1740.99)" fill="#d92a3b">T</text>
<text transform="matrix(0.1982,0,0,0.0989,413.47,1734.90)" fill="#2b63ad">C</text>
<text transform="matrix(0.1932,0,0,0.0291,427.36,1745.80)" fill="#1f9448" stroke-width="1.0">A</text>
<text transform="matrix(0.2201,0,0,0.0291,427.59,1743.80)" fill="#d92a3b" stroke-width="1.0">T</text>
<text transform="matrix(0.2201,0,0,0.1163,427.59,1741.80)" fill="#d92a3b">T</text>
<text transform="matrix(0.1921,0,0,0.1695,427.05,1733.63)" fill="#f5b02c">G</text>
<text transform="matrix(0.1982,0,0,1.4689,427.03,1720.36)" fill="#2b63ad">C</text>
<text transform="matrix(0.1932,0,0,0.0239,440.92,1745.80)" fill="#1f9448" stroke-width="1.0">A</text>
<text transform="matrix(0.1932,0,0,0.0872,440.92,1744.16)" fill="#1f9448">A</text>
<text transform="matrix(0.2201,0,0,0.1977,441.15,1738.16)" fill="#d92a3b">T</text>
<text transform="matrix(0.1982,0,0,1.8785,440.59,1722.72)" fill="#2b63ad">C</text>
<text transform="matrix(0.1982,0,0,0.0364,454.15,1745.76)" fill="#2b63ad" stroke-width="1.0">C</text>
<text transform="matrix(0.2201,0,0,0.0206,454.71,1743.22)" fill="#d92a3b" stroke-width="1.0">T</text>
<text transform="matrix(0.1932,0,0,0.1163,454.48,1741.80)" fill="#1f9448">A</text>
<text transform="matrix(0.1982,0,0,0.1695,454.15,1733.63)" fill="#2b63ad">C</text>
<text transform="matrix(0.2201,0,0,1.1628,454.71,1721.80)" fill="#d92a3b">T</text>
<text transform="matrix(0.1982,0,0,0.0371,467.71,1745.76)" fill="#2b63ad" stroke-width="1.0">C</text>
<text transform="matrix(0.1932,0,0,0.0654,468.04,1743.17)" fill="#1f9448" stroke-width="1.0">A</text>
<text transform="matrix(0.1921,0,0,0.1059,467.73,1738.57)" fill="#f5b02c">G</text>
<text transform="matrix(0.2201,0,0,0.1453,468.27,1731.17)" fill="#d92a3b">T</text>
<text transform="matrix(0.2201,0,0,0.0654,481.83,1745.80)" fill="#d92a3b" stroke-width="1.0">T</text>
<text transform="matrix(0.1932,0,0,0.4360,481.60,1741.30)" fill="#1f9448">A</text>
<text transform="matrix(0.1921,0,0,0.5028,481.29,1710.81)" fill="#f5b02c">G</text>
<text transform="matrix(0.2201,0,0,0.0654,495.39,1745.80)" fill="#d92a3b" stroke-width="1.0">T</text>
<text transform="matrix(0.1932,0,0,0.3416,495.16,1741.30)" fill="#1f9448">A</text>
<text transform="matrix(0.1921,0,0,1.2994,494.85,1716.53)" fill="#f5b02c">G</text>
<text transform="matrix(0.1982,0,0,0.0311,508.39,1745.77)" fill="#2b63ad" stroke-width="1.0">C</text>
<text transform="matrix(0.1982,0,0,0.0636,508.39,1743.53)" fill="#2b63ad" stroke-width="1.0">C</text>
<text transform="matrix(0.2201,0,0,0.1541,508.95,1739.09)" fill="#d92a3b">T</text>
<text transform="matrix(0.1921,0,0,0.2782,508.41,1728.22)" fill="#f5b02c">G</text>
<text transform="matrix(0.1982,0,0,0.0424,521.95,1745.76)" fill="#2b63ad" stroke-width="1.0">C</text>
<text transform="matrix(0.1921,0,0,0.0636,521.97,1742.74)" fill="#f5b02c" stroke-width="1.0">G</text>
<text transform="matrix(0.2201,0,0,0.1657,522.51,1738.30)" fill="#d92a3b">T</text>
<text transform="matrix(0.1982,0,0,0.3206,521.95,1726.59)" fill="#2b63ad">C</text>
<text transform="matrix(0.2201,0,0,0.0313,536.07,1745.80)" fill="#d92a3b" stroke-width="1.0">T</text>
<text transform="matrix(0.1921,0,0,0.0424,535.53,1743.60)" fill="#f5b02c" stroke-width="1.0">G</text>
<text transform="matrix(0.1982,0,0,0.0706,535.51,1740.58)" fill="#2b63ad">C</text>
<text transform="matrix(0.2201,0,0,0.1599,536.07,1735.65)" fill="#d92a3b">T</text>
<text transform="matrix(0.1982,0,0,0.1059,549.07,1745.70)" fill="#2b63ad">C</text>
<text transform="matrix(0.1932,0,0,0.1977,549.40,1738.30)" fill="#1f9448">A</text>
<text transform="matrix(0.2201,0,0,0.4942,549.63,1724.70)" fill="#d92a3b">T</text>
<text transform="matrix(0.1932,0,0,0.0202,562.96,1745.80)" fill="#1f9448" stroke-width="1.0">A</text>
<text transform="matrix(0.2201,0,0,0.0234,563.19,1744.41)" fill="#d92a3b" stroke-width="1.0">T</text>
<text transform="matrix(0.1982,0,0,0.0989,576.19,1745.70)" fill="#2b63ad">C</text>
<text transform="matrix(0.1921,0,0,0.0847,576.21,1738.72)" fill="#f5b02c">G</text>
<text transform="matrix(0.1932,0,0,2.6017,576.52,1732.80)" fill="#1f9448">A</text>
<text transform="matrix(0.1921,0,0,0.0266,589.77,1745.77)" fill="#f5b02c" stroke-width="1.0">G</text>
<text transform="matrix(0.1982,0,0,0.0847,589.75,1743.83)" fill="#2b63ad">C</text>
<text transform="matrix(0.1932,0,0,0.1977,590.08,1737.91)" fill="#1f9448">A</text>
<text transform="matrix(0.1921,0,0,0.5565,589.77,1723.77)" fill="#f5b02c">G</text>
<text transform="matrix(0.1932,0,0,0.0436,603.64,1745.80)" fill="#1f9448" stroke-width="1.0">A</text>
<text transform="matrix(0.1921,0,0,0.0565,603.33,1742.74)" fill="#f5b02c" stroke-width="1.0">G</text>
<text transform="matrix(0.1932,0,0,0.1308,603.64,1738.80)" fill="#1f9448">A</text>
<text transform="matrix(0.1982,0,0,0.3743,603.31,1729.43)" fill="#2b63ad">C</text>
<text transform="matrix(0.1932,0,0,0.0654,617.20,1745.80)" fill="#1f9448" stroke-width="1.0">A</text>
<text transform="matrix(0.2201,0,0,0.3852,617.43,1741.30)" fill="#d92a3b">T</text>
<text transform="matrix(0.1982,0,0,1.2429,616.87,1713.58)" fill="#2b63ad">C</text>
<text transform="matrix(0.1932,0,0,0.0323,630.76,1745.80)" fill="#1f9448" stroke-width="1.0">A</text>
<text transform="matrix(0.2201,0,0,0.0259,630.99,1743.58)" fill="#d92a3b" stroke-width="1.0">T</text>
<text transform="matrix(0.2201,0,0,0.4506,630.99,1741.80)" fill="#d92a3b">T</text>
<text transform="matrix(0.1982,0,0,0.5452,630.43,1710.27)" fill="#2b63ad">C</text>
<text transform="matrix(0.2201,0,0,0.1017,644.55,1745.80)" fill="#d92a3b">T</text>
<text transform="matrix(0.1982,0,0,0.1921,643.99,1738.61)" fill="#2b63ad">C</text>
<text transform="matrix(0.1921,0,0,2.0438,644.01,1723.20)" fill="#f5b02c">G</text>
<text transform="matrix(0.1921,0,0,0.0200,657.57,1745.78)" fill="#f5b02c" stroke-width="1.0">G</text>
<text transform="matrix(0.1921,0,0,0.0252,657.57,1744.36)" fill="#f5b02c" stroke-width="1.0">G</text>
<text transform="matrix(0.1982,0,0,0.0208,657.55,1742.58)" fill="#2b63ad" stroke-width="1.0">C</text>
<text transform="matrix(0.1982,0,0,0.1271,657.55,1741.00)" fill="#2b63ad">C</text>
<text transform="matrix(0.2201,0,0,0.2529,658.11,1732.12)" fill="#d92a3b">T</text>
<text transform="matrix(0.2201,0,0,0.0199,671.67,1745.80)" fill="#d92a3b" stroke-width="1.0">T</text>
<text transform="matrix(0.1921,0,0,0.0202,671.13,1744.41)" fill="#f5b02c" stroke-width="1.0">G</text>
<text transform="matrix(0.1982,0,0,0.0251,671.11,1742.98)" fill="#2b63ad" stroke-width="1.0">C</text>
<text transform="matrix(0.1932,0,0,0.0223,671.44,1741.23)" fill="#1f9448" stroke-width="1.0">A</text>
<text transform="matrix(0.2201,0,0,0.0421,671.67,1739.69)" fill="#d92a3b" stroke-width="1.0">T</text>
<text transform="matrix(0.2201,0,0,0.0237,685.23,1745.80)" fill="#d92a3b" stroke-width="1.0">T</text>
<text transform="matrix(0.1982,0,0,0.0409,698.23,1745.76)" fill="#2b63ad" stroke-width="1.0">C</text>
<text transform="matrix(0.2201,0,0,0.0727,698.79,1742.90)" fill="#d92a3b">T</text>
<text transform="matrix(0.1982,0,0,0.0706,698.23,1737.83)" fill="#2b63ad">C</text>
<text transform="matrix(0.1982,0,0,0.0418,711.79,1745.76)" fill="#2b63ad" stroke-width="1.0">C</text>
<text transform="matrix(0.2201,0,0,0.1308,712.35,1742.84)" fill="#d92a3b">T</text>
<text transform="matrix(0.1932,0,0,0.1541,712.12,1733.84)" fill="#1f9448">A</text>
<text transform="matrix(0.1921,0,0,0.6638,711.81,1722.59)" fill="#f5b02c">G</text>
<text transform="matrix(0.1921,0,0,0.0357,725.37,1745.76)" fill="#f5b02c" stroke-width="1.0">G</text>
<text transform="matrix(0.1932,0,0,0.1090,725.68,1743.27)" fill="#1f9448">A</text>
<text transform="matrix(0.1921,0,0,0.1695,725.37,1735.60)" fill="#f5b02c">G</text>
<text transform="matrix(0.2201,0,0,0.9157,725.91,1723.77)" fill="#d92a3b">T</text>
<text transform="matrix(0.1982,0,0,0.0429,738.91,1745.76)" fill="#2b63ad" stroke-width="1.0">C</text>
<text transform="matrix(0.1921,0,0,0.2260,738.93,1742.54)" fill="#f5b02c">G</text>
<text transform="matrix(0.1932,0,0,1.8721,739.24,1726.76)" fill="#1f9448">A</text>
<text transform="matrix(0.1982,0,0,0.0382,752.47,1745.76)" fill="#2b63ad" stroke-width="1.0">C</text>
<text transform="matrix(0.1932,0,0,0.2762,752.80,1743.09)" fill="#1f9448">A</text>
<text transform="matrix(0.1921,0,0,2.0198,752.49,1722.11)" fill="#f5b02c">G</text>
<text transform="matrix(0.1921,0,0,0.1271,766.05,1745.68)" fill="#f5b02c">G</text>
<text transform="matrix(0.1982,0,0,0.2542,766.03,1736.55)" fill="#2b63ad">C</text>
<text transform="matrix(0.1932,0,0,0.6250,766.36,1718.80)" fill="#1f9448">A</text>
<text transform="matrix(0.1982,0,0,0.0386,779.59,1745.76)" fill="#2b63ad" stroke-width="1.0">C</text>
<text transform="matrix(0.1982,0,0,0.1271,779.59,1742.94)" fill="#2b63ad">C</text>
<text transform="matrix(0.1921,0,0,0.1497,779.61,1733.92)" fill="#f5b02c">G</text>
<text transform="matrix(0.2201,0,0,0.6831,780.15,1723.47)" fill="#d92a3b">T</text>
<text transform="matrix(0.2201,0,0,0.0383,793.71,1745.80)" fill="#d92a3b" stroke-width="1.0">T</text>
<text transform="matrix(0.1921,0,0,0.0847,793.17,1743.08)" fill="#f5b02c">G</text>
<text transform="matrix(0.1982,0,0,0.0847,793.15,1737.08)" fill="#2b63ad">C</text>
<text transform="matrix(0.2201,0,0,0.1017,793.71,1731.16)" fill="#d92a3b">T</text>
<text transform="matrix(0.2201,0,0,0.0183,807.27,1745.80)" fill="#d92a3b" stroke-width="1.0">T</text>
<text transform="matrix(0.1921,0,0,0.0225,806.73,1744.52)" fill="#f5b02c" stroke-width="1.0">G</text>
<text transform="matrix(0.1932,0,0,0.0314,807.04,1742.95)" fill="#1f9448" stroke-width="1.0">A</text>
<text transform="matrix(0.1932,0,0,0.0434,807.04,1740.79)" fill="#1f9448" stroke-width="1.0">A</text>
<text transform="matrix(0.1932,0,0,0.0176,820.60,1745.80)" fill="#1f9448" stroke-width="1.0">A</text>
<text transform="matrix(0.1982,0,0,0.0272,820.27,1744.56)" fill="#2b63ad" stroke-width="1.0">C</text>
<text transform="matrix(0.2201,0,0,0.0271,820.83,1742.66)" fill="#d92a3b" stroke-width="1.0">T</text>
<text transform="matrix(0.1932,0,0,0.0300,834.16,1745.80)" fill="#1f9448" stroke-width="1.0">A</text>
<text transform="matrix(0.1982,0,0,0.0269,833.83,1743.71)" fill="#2b63ad" stroke-width="1.0">C</text>
<text transform="matrix(0.1932,0,0,0.0350,834.16,1741.83)" fill="#1f9448" stroke-width="1.0">A</text>
<text transform="matrix(0.2201,0,0,0.0237,834.39,1739.43)" fill="#d92a3b" stroke-width="1.0">T</text>
<text transform="matrix(0.2201,0,0,0.0872,847.95,1745.80)" fill="#d92a3b">T</text>
<text transform="matrix(0.1932,0,0,0.3299,847.72,1739.80)" fill="#1f9448">A</text>
<text transform="matrix(0.1921,0,0,0.8559,847.41,1716.26)" fill="#f5b02c">G</text>
<text transform="matrix(0.2201,0,0,0.0654,861.51,1745.80)" fill="#d92a3b" stroke-width="1.0">T</text>
<text transform="matrix(0.1921,0,0,0.0989,860.97,1741.20)" fill="#f5b02c">G</text>
<text transform="matrix(0.1982,0,0,0.0989,860.95,1734.20)" fill="#2b63ad">C</text>
<text transform="matrix(0.1932,0,0,0.0872,874.84,1745.80)" fill="#1f9448">A</text>
<text transform="matrix(0.2201,0,0,0.1090,875.07,1739.80)" fill="#d92a3b">T</text>
<text transform="matrix(0.1982,0,0,0.2359,874.51,1732.07)" fill="#2b63ad">C</text>
<text transform="matrix(0.2201,0,0,0.0872,888.63,1745.80)" fill="#d92a3b">T</text>
<text transform="matrix(0.1921,0,0,0.2260,888.09,1739.58)" fill="#f5b02c">G</text>
<text transform="matrix(0.1982,0,0,0.2966,888.07,1723.51)" fill="#2b63ad">C</text>
<text transform="matrix(0.1932,0,0,0.1090,901.96,1745.80)" fill="#1f9448">A</text>
<text transform="matrix(0.2201,0,0,0.2180,902.19,1738.30)" fill="#d92a3b">T</text>
<text transform="matrix(0.1982,0,0,1.2952,901.63,1722.03)" fill="#2b63ad">C</text>
<text transform="matrix(0.2201,0,0,0.0274,915.75,1745.80)" fill="#d92a3b" stroke-width="1.0">T</text>
<text transform="matrix(0.2201,0,0,0.0654,915.75,1743.92)" fill="#d92a3b" stroke-width="1.0">T</text>
<text transform="matrix(0.1921,0,0,0.1271,915.21,1739.29)" fill="#f5b02c">G</text>
<text transform="matrix(0.1982,0,0,0.3390,915.19,1730.08)" fill="#2b63ad">C</text>
<text transform="matrix(0.1932,0,0,0.0269,929.08,1745.80)" fill="#1f9448" stroke-width="1.0">A</text>
<text transform="matrix(0.1921,0,0,0.0636,928.77,1743.89)" fill="#f5b02c" stroke-width="1.0">G</text>
<text transform="matrix(0.1982,0,0,0.1497,928.75,1739.30)" fill="#2b63ad">C</text>
<text transform="matrix(0.1982,0,0,0.0322,942.31,1745.77)" fill="#2b63ad" stroke-width="1.0">C</text>
<text transform="matrix(0.1921,0,0,0.0243,942.33,1743.49)" fill="#f5b02c" stroke-width="1.0">G</text>
<text transform="matrix(0.1921,0,0,0.0203,955.89,1745.78)" fill="#f5b02c" stroke-width="1.0">G</text>
<text transform="matrix(0.1982,0,0,0.0221,955.87,1744.34)" fill="#2b63ad" stroke-width="1.0">C</text>
<text transform="matrix(0.2201,0,0,0.1090,956.43,1742.80)" fill="#d92a3b">T</text>
<text transform="matrix(0.1982,0,0,0.1412,955.87,1735.16)" fill="#2b63ad">C</text>
<text transform="matrix(0.1982,0,0,0.0365,969.43,1745.76)" fill="#2b63ad" stroke-width="1.0">C</text>
<text transform="matrix(0.1921,0,0,0.0847,969.45,1743.13)" fill="#f5b02c">G</text>
<text transform="matrix(0.2201,0,0,0.1017,969.99,1737.22)" fill="#d92a3b">T</text>
<text transform="matrix(0.1982,0,0,0.3390,969.43,1729.89)" fill="#2b63ad">C</text>
<text transform="matrix(0.1932,0,0,0.0209,983.32,1745.80)" fill="#1f9448" stroke-width="1.0">A</text>
<text transform="matrix(0.1932,0,0,0.0387,983.32,1744.36)" fill="#1f9448" stroke-width="1.0">A</text>
<text transform="matrix(0.1921,0,0,0.0318,983.01,1741.67)" fill="#f5b02c" stroke-width="1.0">G</text>
<text transform="matrix(0.1932,0,0,0.0358,983.32,1739.45)" fill="#1f9448" stroke-width="1.0">A</text>
<text transform="matrix(0.1921,0,0,0.0320,996.57,1745.77)" fill="#f5b02c" stroke-width="1.0">G</text>
<text transform="matrix(0.2201,0,0,0.0872,997.11,1743.53)" fill="#d92a3b">T</text>
<text transform="matrix(0.1982,0,0,0.1130,996.55,1737.42)" fill="#2b63ad">C</text>
<text transform="matrix(0.1932,0,0,0.0287,1010.44,1745.80)" fill="#1f9448" stroke-width="1.0">A</text>
<text transform="matrix(0.2201,0,0,0.2093,1010.67,1743.83)" fill="#d92a3b">T</text>
<text transform="matrix(0.1982,0,0,0.2542,1010.11,1729.18)" fill="#2b63ad">C</text>
<text transform="matrix(0.1982,0,0,0.0207,1023.67,1745.78)" fill="#2b63ad" stroke-width="1.0">C</text>
<text transform="matrix(0.1921,0,0,0.0217,1023.69,1744.31)" fill="#f5b02c" stroke-width="1.0">G</text>
<text transform="matrix(0.2201,0,0,0.0654,1024.23,1742.80)" fill="#d92a3b" stroke-width="1.0">T</text>
<text transform="matrix(0.1982,0,0,0.0847,1023.67,1738.22)" fill="#2b63ad">C</text>
<text transform="matrix(0.2201,0,0,0.0311,1037.79,1745.80)" fill="#d92a3b" stroke-width="1.0">T</text>
<text transform="matrix(0.2201,0,0,0.0296,1037.79,1743.66)" fill="#d92a3b" stroke-width="1.0">T</text>
<text transform="matrix(0.1921,0,0,0.0399,1037.25,1741.59)" fill="#f5b02c" stroke-width="1.0">G</text>
<text transform="matrix(0.1932,0,0,0.0436,1051.12,1745.80)" fill="#1f9448" stroke-width="1.0">A</text>
<text transform="matrix(0.1982,0,0,0.1059,1050.79,1742.70)" fill="#2b63ad">C</text>
<text transform="matrix(0.2201,0,0,0.1453,1051.35,1735.30)" fill="#d92a3b">T</text>
<text transform="matrix(0.1932,0,0,0.0654,1064.68,1745.80)" fill="#1f9448" stroke-width="1.0">A</text>
<text transform="matrix(0.1982,0,0,0.2825,1064.35,1741.02)" fill="#2b63ad">C</text>
<text transform="matrix(0.2201,0,0,0.5669,1064.91,1721.30)" fill="#d92a3b">T</text>
<text transform="matrix(0.1932,0,0,0.0654,1078.24,1745.80)" fill="#1f9448" stroke-width="1.0">A</text>
<text transform="matrix(0.1982,0,0,0.2825,1077.91,1741.02)" fill="#2b63ad">C</text>
<text transform="matrix(0.2201,0,0,0.5669,1078.47,1721.30)" fill="#d92a3b">T</text>
<text transform="matrix(0.1921,0,0,0.0424,1091.49,1745.76)" fill="#f5b02c" stroke-width="1.0">G</text>
<text transform="matrix(0.2201,0,0,0.2616,1092.03,1742.80)" fill="#d92a3b">T</text>
<text transform="matrix(0.1982,0,0,0.6215,1091.47,1724.19)" fill="#2b63ad">C</text>
<text transform="matrix(0.1932,0,0,0.0429,1105.36,1745.80)" fill="#1f9448" stroke-width="1.0">A</text>
<text transform="matrix(0.1932,0,0,0.0436,1105.36,1742.85)" fill="#1f9448" stroke-width="1.0">A</text>
<text transform="matrix(0.2201,0,0,0.1453,1105.59,1739.85)" fill="#d92a3b">T</text>
<text transform="matrix(0.1982,0,0,0.2260,1105.03,1729.62)" fill="#2b63ad">C</text>
<text transform="matrix(0.2201,0,0,0.0367,1119.15,1745.80)" fill="#d92a3b" stroke-width="1.0">T</text>
<text transform="matrix(0.1932,0,0,0.0436,1118.92,1743.28)" fill="#1f9448" stroke-width="1.0">A</text>
<text transform="matrix(0.1982,0,0,0.1059,1118.59,1740.17)" fill="#2b63ad">C</text>
<text transform="matrix(0.2201,0,0,0.1017,1119.15,1732.78)" fill="#d92a3b">T</text>
<text transform="matrix(0.1932,0,0,0.0303,1132.48,1745.80)" fill="#1f9448" stroke-width="1.0">A</text>
<text transform="matrix(0.1932,0,0,0.0581,1132.48,1743.72)" fill="#1f9448" stroke-width="1.0">A</text>
<text transform="matrix(0.2201,0,0,0.1090,1132.71,1739.72)" fill="#d92a3b">T</text>
<text transform="matrix(0.1982,0,0,0.3206,1132.15,1731.90)" fill="#2b63ad">C</text>
<text transform="matrix(0.1932,0,0,0.0363,1146.04,1745.80)" fill="#1f9448" stroke-width="1.0">A</text>
<text transform="matrix(0.1982,0,0,0.0847,1145.71,1743.22)" fill="#2b63ad">C</text>
<text transform="matrix(0.1932,0,0,0.1541,1146.04,1737.30)" fill="#1f9448">A</text>
<text transform="matrix(0.2201,0,0,0.3779,1146.27,1726.70)" fill="#d92a3b">T</text>
<text transform="matrix(0.2201,0,0,0.0209,1159.83,1745.80)" fill="#d92a3b" stroke-width="1.0">T</text>
<text transform="matrix(0.1932,0,0,0.0227,1159.60,1744.36)" fill="#1f9448" stroke-width="1.0">A</text>
<text transform="matrix(0.2201,0,0,0.0581,1159.83,1742.80)" fill="#d92a3b" stroke-width="1.0">T</text>
<text transform="matrix(0.1982,0,0,0.0706,1159.27,1738.73)" fill="#2b63ad">C</text>
<text transform="matrix(0.2201,0,0,0.0394,1173.39,1745.80)" fill="#d92a3b" stroke-width="1.0">T</text>
<text transform="matrix(0.2201,0,0,0.0436,1186.95,1745.80)" fill="#d92a3b" stroke-width="1.0">T</text>
<text transform="matrix(0.2201,0,0,0.1017,1186.95,1742.80)" fill="#d92a3b">T</text>
<text transform="matrix(0.1982,0,0,0.1059,1186.39,1735.70)" fill="#2b63ad">C</text>
<text transform="matrix(0.1932,0,0,0.0319,1200.28,1745.80)" fill="#1f9448" stroke-width="1.0">A</text>
<text transform="matrix(0.1932,0,0,0.0339,1213.84,1745.80)" fill="#1f9448" stroke-width="1.0">A</text>
<text transform="matrix(0.1932,0,0,0.1017,1213.84,1743.47)" fill="#1f9448">A</text>
<text transform="matrix(0.1932,0,0,0.0285,1227.40,1745.80)" fill="#1f9448" stroke-width="1.0">A</text>
<text transform="matrix(0.1982,0,0,0.0320,1240.63,1745.77)" fill="#2b63ad" stroke-width="1.0">C</text>
<text transform="matrix(0.1921,0,0,0.0847,1240.65,1743.45)" fill="#f5b02c">G</text>
<text transform="matrix(0.1982,0,0,0.1695,1240.63,1737.37)" fill="#2b63ad">C</text>
<text transform="matrix(0.1932,0,0,1.5407,1240.96,1725.53)" fill="#1f9448">A</text>
<text transform="matrix(0.2201,0,0,0.0654,1254.75,1745.80)" fill="#d92a3b" stroke-width="1.0">T</text>
<text transform="matrix(0.1921,0,0,0.1921,1254.21,1741.11)" fill="#f5b02c">G</text>
<text transform="matrix(0.1932,0,0,0.1977,1254.52,1727.70)" fill="#1f9448">A</text>
<text transform="matrix(0.1932,0,0,0.0436,1268.08,1745.80)" fill="#1f9448" stroke-width="1.0">A</text>
<text transform="matrix(0.2201,0,0,0.1017,1268.31,1742.80)" fill="#d92a3b">T</text>
<text transform="matrix(0.1932,0,0,0.1977,1268.08,1735.80)" fill="#1f9448">A</text>
<text transform="matrix(0.1982,0,0,0.2966,1267.75,1721.91)" fill="#2b63ad">C</text>
<text transform="matrix(0.2201,0,0,0.4360,1281.87,1745.80)" fill="#d92a3b">T</text>
<text transform="matrix(0.1982,0,0,1.4760,1281.31,1714.35)" fill="#2b63ad">C</text>
<text transform="matrix(0.2201,0,0,0.4651,1295.43,1745.80)" fill="#d92a3b">T</text>
<text transform="matrix(0.1982,0,0,1.6949,1294.87,1712.14)" fill="#2b63ad">C</text>
<text transform="matrix(0.1921,0,0,3.4605,1308.45,1742.41)" fill="#f5b02c">G</text>
<text transform="matrix(0.2201,0,0,0.1090,1322.55,1745.80)" fill="#d92a3b">T</text>
<text transform="matrix(0.1921,0,0,0.2359,1322.01,1738.07)" fill="#f5b02c">G</text>
<text transform="matrix(0.1932,0,0,0.8808,1322.32,1721.60)" fill="#1f9448">A</text>
<text transform="matrix(0.2201,0,0,0.0436,1336.11,1745.80)" fill="#d92a3b" stroke-width="1.0">T</text>
<text transform="matrix(0.1921,0,0,0.1130,1335.57,1742.69)" fill="#f5b02c">G</text>
<text transform="matrix(0.1932,0,0,2.5291,1335.88,1734.80)" fill="#1f9448">A</text>
<text transform="matrix(0.1921,0,0,0.0424,1349.13,1745.76)" fill="#f5b02c" stroke-width="1.0">G</text>
<text transform="matrix(0.2201,0,0,0.3198,1349.67,1742.80)" fill="#d92a3b">T</text>
<text transform="matrix(0.1982,0,0,1.3912,1349.11,1719.44)" fill="#2b63ad">C</text>
<text transform="matrix(0.1921,0,0,0.5367,1362.69,1745.27)" fill="#f5b02c">G</text>
<text transform="matrix(0.1932,0,0,1.3227,1363.00,1707.80)" fill="#1f9448">A</text>
<text transform="matrix(0.1921,0,0,3.2768,1376.25,1742.59)" fill="#f5b02c">G</text>
<text transform="matrix(0.1932,0,0,0.1977,1390.12,1745.80)" fill="#1f9448">A</text>
<text transform="matrix(0.2201,0,0,2.5291,1390.35,1732.20)" fill="#d92a3b">T</text>
<text transform="matrix(0.1982,0,0,0.1836,1403.35,1745.62)" fill="#2b63ad">C</text>
<text transform="matrix(0.1932,0,0,0.3416,1403.68,1732.80)" fill="#1f9448">A</text>
<text transform="matrix(0.2201,0,0,0.3924,1403.91,1709.30)" fill="#d92a3b">T</text>
<text transform="matrix(0.2201,0,0,0.0334,1417.47,1745.80)" fill="#d92a3b" stroke-width="1.0">T</text>
<text transform="matrix(0.2201,0,0,0.1308,1417.47,1743.50)" fill="#d92a3b">T</text>
<text transform="matrix(0.1921,0,0,0.1271,1416.93,1734.38)" fill="#f5b02c">G</text>
<text transform="matrix(0.1932,0,0,0.0270,1430.80,1745.80)" fill="#1f9448" stroke-width="1.0">A</text>
<text transform="matrix(0.1921,0,0,0.1130,1430.49,1743.83)" fill="#f5b02c">G</text>
<text transform="matrix(0.1932,0,0,0.1744,1430.80,1735.94)" fill="#1f9448">A</text>
<text transform="matrix(0.1982,0,0,0.9605,1430.47,1723.00)" fill="#2b63ad">C</text>
<text transform="matrix(0.1921,0,0,0.0327,1444.05,1745.77)" fill="#f5b02c" stroke-width="1.0">G</text>
<text transform="matrix(0.1982,0,0,0.0370,1444.03,1743.45)" fill="#2b63ad" stroke-width="1.0">C</text>
<text transform="matrix(0.1982,0,0,0.0291,1444.03,1740.83)" fill="#2b63ad" stroke-width="1.0">C</text>
<text transform="matrix(0.2201,0,0,0.0376,1458.15,1745.80)" fill="#d92a3b" stroke-width="1.0">T</text>
<text transform="matrix(0.1932,0,0,0.1017,1457.92,1743.21)" fill="#1f9448">A</text>
<text transform="matrix(0.2201,0,0,0.2180,1458.15,1736.21)" fill="#d92a3b">T</text>
<text transform="matrix(0.2201,0,0,0.1017,1471.71,1745.80)" fill="#d92a3b">T</text>
<text transform="matrix(0.1932,0,0,0.2326,1471.48,1738.80)" fill="#1f9448">A</text>
<text transform="matrix(0.1921,0,0,0.8333,1471.17,1721.98)" fill="#f5b02c">G</text>
<text transform="matrix(0.1982,0,0,0.0424,1484.71,1745.76)" fill="#2b63ad" stroke-width="1.0">C</text>
<text transform="matrix(0.2201,0,0,0.0654,1485.27,1742.80)" fill="#d92a3b" stroke-width="1.0">T</text>
<text transform="matrix(0.1932,0,0,0.2326,1485.04,1738.30)" fill="#1f9448">A</text>
<text transform="matrix(0.1921,0,0,0.9746,1484.73,1721.34)" fill="#f5b02c">G</text>
<text transform="matrix(0.1982,0,0,0.0324,1498.27,1745.77)" fill="#2b63ad" stroke-width="1.0">C</text>
<text transform="matrix(0.1982,0,0,0.0424,1498.27,1743.46)" fill="#2b63ad" stroke-width="1.0">C</text>
<text transform="matrix(0.1932,0,0,0.1977,1498.60,1740.50)" fill="#1f9448">A</text>
<text transform="matrix(0.1921,0,0,1.1667,1498.29,1725.76)" fill="#f5b02c">G</text>
<text transform="matrix(0.1921,0,0,0.0281,1511.85,1745.77)" fill="#f5b02c" stroke-width="1.0">G</text>
<text transform="matrix(0.1921,0,0,0.0424,1511.85,1743.77)" fill="#f5b02c" stroke-width="1.0">G</text>
<text transform="matrix(0.2201,0,0,0.2180,1512.39,1740.81)" fill="#d92a3b">T</text>
<text transform="matrix(0.1982,0,0,0.8136,1511.83,1725.01)" fill="#2b63ad">C</text>
<text transform="matrix(0.1982,0,0,0.0176,1525.39,1745.78)" fill="#2b63ad" stroke-width="1.0">C</text>
<text transform="matrix(0.2201,0,0,0.0255,1525.95,1744.56)" fill="#d92a3b" stroke-width="1.0">T</text>
<text transform="matrix(0.1932,0,0,0.0436,1525.72,1742.80)" fill="#1f9448" stroke-width="1.0">A</text>
<text transform="matrix(0.2201,0,0,0.2471,1525.95,1739.80)" fill="#d92a3b">T</text>
<text transform="matrix(0.1982,0,0,0.8051,1525.39,1722.01)" fill="#2b63ad">C</text>
<text transform="matrix(0.2201,0,0,0.0434,1539.51,1745.80)" fill="#d92a3b" stroke-width="1.0">T</text>
<text transform="matrix(0.1982,0,0,0.0565,1538.95,1742.76)" fill="#2b63ad" stroke-width="1.0">C</text>
<text transform="matrix(0.2201,0,0,0.1977,1539.51,1738.82)" fill="#d92a3b">T</text>
<text transform="matrix(0.1921,0,0,0.6497,1538.97,1724.58)" fill="#f5b02c">G</text>
<text transform="matrix(0.1982,0,0,0.0170,1552.51,1745.78)" fill="#2b63ad" stroke-width="1.0">C</text>
<text transform="matrix(0.1921,0,0,0.0254,1552.53,1744.57)" fill="#f5b02c" stroke-width="1.0">G</text>
<text transform="matrix(0.1932,0,0,0.0436,1552.84,1742.80)" fill="#1f9448" stroke-width="1.0">A</text>
<text transform="matrix(0.1982,0,0,0.1412,1552.51,1739.66)" fill="#2b63ad">C</text>
<text transform="matrix(0.1921,0,0,0.2458,1552.53,1729.56)" fill="#f5b02c">G</text>
<text transform="matrix(0.1932,0,0,0.0333,1566.40,1745.80)" fill="#1f9448" stroke-width="1.0">A</text>
<text transform="matrix(0.2201,0,0,0.0872,1566.63,1743.51)" fill="#d92a3b">T</text>
<text transform="matrix(0.1982,0,0,0.1497,1566.07,1737.36)" fill="#2b63ad">C</text>
<text transform="matrix(0.1932,0,0,0.0419,1579.96,1745.80)" fill="#1f9448" stroke-width="1.0">A</text>
<text transform="matrix(0.1921,0,0,0.0379,1579.65,1742.88)" fill="#f5b02c" stroke-width="1.0">G</text>
<text transform="matrix(0.1921,0,0,0.0312,1593.21,1745.77)" fill="#f5b02c" stroke-width="1.0">G</text>
<text transform="matrix(0.1982,0,0,0.1497,1593.19,1743.44)" fill="#2b63ad">C</text>
<text transform="matrix(0.2201,0,0,0.1541,1593.75,1732.99)" fill="#d92a3b">T</text>
<text transform="matrix(0.2201,0,0,0.0436,1607.31,1745.80)" fill="#d92a3b" stroke-width="1.0">T</text>
<text transform="matrix(0.1932,0,0,0.0872,1607.08,1742.80)" fill="#1f9448">A</text>
<text transform="matrix(0.2201,0,0,0.1453,1607.31,1736.80)" fill="#d92a3b">T</text>
<text transform="matrix(0.2201,0,0,0.0379,1620.87,1745.80)" fill="#d92a3b" stroke-width="1.0">T</text>
<text transform="matrix(0.2201,0,0,0.0304,1620.87,1743.19)" fill="#d92a3b" stroke-width="1.0">T</text>
<text transform="matrix(0.1932,0,0,0.0287,1634.20,1745.80)" fill="#1f9448" stroke-width="1.0">A</text>
<text transform="matrix(0.1921,0,0,0.1271,1633.89,1743.70)" fill="#f5b02c">G</text>
<text transform="matrix(0.1982,0,0,0.1695,1633.87,1734.66)" fill="#2b63ad">C</text>
<text transform="matrix(0.1932,0,0,0.0276,1647.76,1745.80)" fill="#1f9448" stroke-width="1.0">A</text>
<text transform="matrix(0.1932,0,0,0.0436,1647.76,1743.90)" fill="#1f9448" stroke-width="1.0">A</text>
<text transform="matrix(0.2201,0,0,0.2180,1647.99,1740.90)" fill="#d92a3b">T</text>
<text transform="matrix(0.1982,0,0,0.5650,1647.43,1725.35)" fill="#2b63ad">C</text>
<text transform="matrix(0.1921,0,0,0.0370,1661.01,1745.76)" fill="#f5b02c" stroke-width="1.0">G</text>
<text transform="matrix(0.2201,0,0,0.1163,1661.55,1743.18)" fill="#d92a3b">T</text>
<text transform="matrix(0.1932,0,0,0.1657,1661.32,1735.18)" fill="#1f9448">A</text>
<text transform="matrix(0.1921,0,0,0.9421,1661.01,1722.86)" fill="#f5b02c">G</text>
<text transform="matrix(0.1932,0,0,0.0373,1674.88,1745.80)" fill="#1f9448" stroke-width="1.0">A</text>
<text transform="matrix(0.1921,0,0,0.0343,1674.57,1743.20)" fill="#f5b02c" stroke-width="1.0">G</text>
<text transform="matrix(0.2201,0,0,0.0371,1688.67,1745.80)" fill="#d92a3b" stroke-width="1.0">T</text>
<text transform="matrix(0.1932,0,0,0.0436,1688.44,1743.25)" fill="#1f9448" stroke-width="1.0">A</text>
<text transform="matrix(0.1982,0,0,0.1836,1688.11,1740.07)" fill="#2b63ad">C</text>
<text transform="matrix(0.1921,0,0,0.5989,1688.13,1726.66)" fill="#f5b02c">G</text>
<text transform="matrix(0.1932,0,0,3.1105,1702.00,1745.80)" fill="#1f9448">A</text>
<text transform="matrix(0.1932,0,0,0.0322,1715.56,1745.80)" fill="#1f9448" stroke-width="1.0">A</text>
<text transform="matrix(0.2201,0,0,0.0436,1715.79,1743.58)" fill="#d92a3b" stroke-width="1.0">T</text>
<text transform="matrix(0.1982,0,0,0.1271,1715.23,1740.46)" fill="#2b63ad">C</text>
<text transform="matrix(0.1921,0,0,0.4237,1715.25,1731.17)" fill="#f5b02c">G</text>
<text transform="matrix(0.1921,0,0,0.0393,1728.81,1745.76)" fill="#f5b02c" stroke-width="1.0">G</text>
<text transform="matrix(0.1932,0,0,0.0436,1729.12,1743.02)" fill="#1f9448" stroke-width="1.0">A</text>
<text transform="matrix(0.2201,0,0,0.1977,1729.35,1740.02)" fill="#d92a3b">T</text>
<text transform="matrix(0.1982,0,0,0.8757,1728.79,1725.56)" fill="#2b63ad">C</text>
<text transform="matrix(0.1982,0,0,0.0258,1742.35,1745.77)" fill="#2b63ad" stroke-width="1.0">C</text>
<text transform="matrix(0.2201,0,0,0.3052,1742.91,1743.97)" fill="#d92a3b">T</text>
<text transform="matrix(0.1982,0,0,0.8475,1742.35,1722.14)" fill="#2b63ad">C</text>
<text transform="matrix(0.2201,0,0,0.4360,1756.47,1745.80)" fill="#d92a3b">T</text>
<text transform="matrix(0.1982,0,0,1.6243,1755.91,1714.21)" fill="#2b63ad">C</text>
<text transform="matrix(0.1921,0,0,3.3277,1769.49,1742.54)" fill="#f5b02c">G</text>
<text transform="matrix(0.1932,0,0,0.0412,1783.36,1745.80)" fill="#1f9448" stroke-width="1.0">A</text>
<text transform="matrix(0.1932,0,0,0.0436,1783.36,1742.97)" fill="#1f9448" stroke-width="1.0">A</text>
<text transform="matrix(0.2201,0,0,0.3052,1783.59,1739.97)" fill="#d92a3b">T</text>
<text transform="matrix(0.1982,0,0,0.5989,1783.03,1718.38)" fill="#2b63ad">C</text>
<text transform="matrix(0.1921,0,0,0.0311,1796.61,1745.77)" fill="#f5b02c" stroke-width="1.0">G</text>
<text transform="matrix(0.2201,0,0,0.1977,1797.15,1743.60)" fill="#d92a3b">T</text>
<text transform="matrix(0.1932,0,0,2.2674,1796.92,1730.00)" fill="#1f9448">A</text>
<text transform="matrix(0.1982,0,0,0.0424,1810.15,1745.76)" fill="#2b63ad" stroke-width="1.0">C</text>
<text transform="matrix(0.1982,0,0,0.1921,1810.15,1742.61)" fill="#2b63ad">C</text>
<text transform="matrix(0.2201,0,0,2.0203,1810.71,1729.20)" fill="#d92a3b">T</text>
<text transform="matrix(0.1932,0,0,0.0180,1824.04,1745.80)" fill="#1f9448" stroke-width="1.0">A</text>
<text transform="matrix(0.2201,0,0,0.0256,1824.27,1744.56)" fill="#d92a3b" stroke-width="1.0">T</text>
<text transform="matrix(0.1982,0,0,0.0636,1823.71,1742.74)" fill="#2b63ad" stroke-width="1.0">C</text>
<text transform="matrix(0.1921,0,0,0.1059,1823.73,1738.20)" fill="#f5b02c">G</text>
<text transform="matrix(0.2201,0,0,0.2863,1824.27,1730.80)" fill="#d92a3b">T</text>
<text transform="matrix(0.1932,0,0,0.0401,1837.60,1745.80)" fill="#1f9448" stroke-width="1.0">A</text>
<text transform="matrix(0.2201,0,0,0.1090,1837.83,1743.04)" fill="#d92a3b">T</text>
<text transform="matrix(0.1982,0,0,0.1172,1837.27,1735.43)" fill="#2b63ad">C</text>
<text transform="matrix(0.1921,0,0,0.6638,1850.85,1745.15)" fill="#f5b02c">G</text>
<text transform="matrix(0.1932,0,0,0.9448,1851.16,1698.80)" fill="#1f9448">A</text>
<text transform="matrix(0.1982,0,0,0.0180,1864.39,1745.78)" fill="#2b63ad" stroke-width="1.0">C</text>
<text transform="matrix(0.1921,0,0,0.0243,1864.41,1744.50)" fill="#f5b02c" stroke-width="1.0">G</text>
<text transform="matrix(0.2201,0,0,0.1977,1864.95,1742.80)" fill="#d92a3b">T</text>
<text transform="matrix(0.1982,0,0,2.2316,1864.39,1727.01)" fill="#2b63ad">C</text>
<text transform="matrix(0.1982,0,0,0.0298,1877.95,1745.77)" fill="#2b63ad" stroke-width="1.0">C</text>
<text transform="matrix(0.1921,0,0,0.0847,1877.97,1743.61)" fill="#f5b02c">G</text>
<text transform="matrix(0.1932,0,0,2.7413,1878.28,1737.69)" fill="#1f9448">A</text>
<text transform="matrix(0.2201,0,0,0.0210,1892.07,1745.80)" fill="#d92a3b" stroke-width="1.0">T</text>
<text transform="matrix(0.2201,0,0,0.0226,1892.07,1744.36)" fill="#d92a3b" stroke-width="1.0">T</text>
<text transform="matrix(0.1921,0,0,0.0636,1891.53,1742.74)" fill="#f5b02c" stroke-width="1.0">G</text>
<text transform="matrix(0.1932,0,0,2.9070,1891.84,1738.30)" fill="#1f9448">A</text>
<text transform="matrix(0.1921,0,0,0.0176,1905.09,1745.78)" fill="#f5b02c" stroke-width="1.0">G</text>
<text transform="matrix(0.1932,0,0,0.0255,1905.40,1744.55)" fill="#1f9448" stroke-width="1.0">A</text>
<text transform="matrix(0.1982,0,0,0.0424,1905.07,1742.76)" fill="#2b63ad" stroke-width="1.0">C</text>
<text transform="matrix(0.2201,0,0,0.1977,1905.63,1739.80)" fill="#d92a3b">T</text>
<text transform="matrix(0.1921,0,0,2.0763,1905.09,1724.17)" fill="#f5b02c">G</text>
<text transform="matrix(0.1982,0,0,0.0316,1918.63,1745.77)" fill="#2b63ad" stroke-width="1.0">C</text>
<text transform="matrix(0.1932,0,0,0.0436,1918.96,1743.57)" fill="#1f9448" stroke-width="1.0">A</text>
<text transform="matrix(0.1982,0,0,0.1695,1918.63,1740.40)" fill="#2b63ad">C</text>
<text transform="matrix(0.1921,0,0,1.7444,1918.65,1726.86)" fill="#f5b02c">G</text>
<text transform="matrix(0.2201,0,0,0.0207,1932.75,1745.80)" fill="#d92a3b" stroke-width="1.0">T</text>
<text transform="matrix(0.1932,0,0,0.0229,1932.52,1744.38)" fill="#1f9448" stroke-width="1.0">A</text>
<text transform="matrix(0.2201,0,0,0.0872,1932.75,1742.80)" fill="#d92a3b">T</text>
<text transform="matrix(0.1982,0,0,0.1497,1932.19,1736.65)" fill="#2b63ad">C</text>
<text transform="matrix(0.1932,0,0,0.1890,1932.52,1726.20)" fill="#1f9448">A</text>
<text transform="matrix(0.1921,0,0,0.0424,1945.77,1745.76)" fill="#f5b02c" stroke-width="1.0">G</text>
<text transform="matrix(0.1932,0,0,0.1308,1946.08,1742.80)" fill="#1f9448">A</text>
<text transform="matrix(0.2201,0,0,0.1090,1946.31,1733.80)" fill="#d92a3b">T</text>
<text transform="matrix(0.1932,0,0,0.4651,1959.64,1745.80)" fill="#1f9448">A</text>
<text transform="matrix(0.1921,0,0,1.6949,1959.33,1712.14)" fill="#f5b02c">G</text>
<text transform="matrix(0.1932,0,0,0.4288,1973.20,1745.80)" fill="#1f9448">A</text>
<text transform="matrix(0.1921,0,0,1.5537,1972.89,1714.78)" fill="#f5b02c">G</text>
<text transform="matrix(0.1921,0,0,0.0334,1986.45,1745.77)" fill="#f5b02c" stroke-width="1.0">G</text>
<text transform="matrix(0.1932,0,0,0.0654,1986.76,1743.43)" fill="#1f9448" stroke-width="1.0">A</text>
<text transform="matrix(0.2201,0,0,0.1744,1986.99,1738.93)" fill="#d92a3b">T</text>
<text transform="matrix(0.1921,0,0,0.3390,1986.45,1726.60)" fill="#f5b02c">G</text>
<text transform="matrix(0.1932,0,0,0.0272,2000.32,1745.80)" fill="#1f9448" stroke-width="1.0">A</text>
<text transform="matrix(0.1932,0,0,0.0872,2000.32,1743.93)" fill="#1f9448">A</text>
<text transform="matrix(0.2201,0,0,0.0872,2000.55,1737.93)" fill="#d92a3b">T</text>
<text transform="matrix(0.1921,0,0,0.0207,2013.57,1745.78)" fill="#f5b02c" stroke-width="1.0">G</text>
<text transform="matrix(0.1932,0,0,0.0295,2013.88,1744.33)" fill="#1f9448" stroke-width="1.0">A</text>
<text transform="matrix(0.1932,0,0,0.0234,2027.44,1745.80)" fill="#1f9448" stroke-width="1.0">A</text>
<text transform="matrix(0.1921,0,0,0.0338,2027.13,1744.16)" fill="#f5b02c" stroke-width="1.0">G</text>
<text transform="matrix(0.1932,0,0,0.0175,2041.00,1745.80)" fill="#1f9448" stroke-width="1.0">A</text>
<text transform="matrix(0.1932,0,0,0.0261,2041.00,1744.59)" fill="#1f9448" stroke-width="1.0">A</text>
<text transform="matrix(0.1921,0,0,0.0847,2040.69,1742.72)" fill="#f5b02c">G</text>
<text transform="matrix(0.1932,0,0,0.1541,2041.00,1736.80)" fill="#1f9448">A</text>
<text transform="matrix(0.1982,0,0,0.0323,2054.23,1745.77)" fill="#2b63ad" stroke-width="1.0">C</text>
<text transform="matrix(0.1921,0,0,0.0242,2054.25,1743.49)" fill="#f5b02c" stroke-width="1.0">G</text>
<text transform="matrix(0.2201,0,0,0.0327,2068.35,1745.80)" fill="#d92a3b" stroke-width="1.0">T</text>
<text transform="matrix(0.2201,0,0,0.0436,2068.35,1743.55)" fill="#d92a3b" stroke-width="1.0">T</text>
<text transform="matrix(0.1932,0,0,0.1308,2068.12,1740.55)" fill="#1f9448">A</text>
<text transform="matrix(0.1921,0,0,0.1921,2067.81,1731.36)" fill="#f5b02c">G</text>
</g>
<g stroke="#000" stroke-width="2.4" fill="none">
<path d="M129.4,1493.2 V1747 M128.2,1745.8 H2080.5"/>
<path d="M117,1745.8 H129.4"/>
<path d="M117,1682.9 H129.4"/>
<path d="M117,1620.0 H129.4"/>
<path d="M117,1557.2 H129.4"/>
<path d="M117,1494.3 H129.4"/>
<path d="M129,1877 H2080.5"/>
<path d="M216.3,1877 V1887"/>
<path d="M349.8,1877 V1887"/>
<path d="M483.3,1877 V1887"/>
<path d="M616.8,1877 V1887"/>
<path d="M750.3,1877 V1887"/>
<path d="M883.8,1877 V1887"/>
<path d="M1017.3,1877 V1887"/>
<path d="M1150.8,1877 V1887"/>
<path d="M1284.3,1877 V1887"/>
<path d="M1417.8,1877 V1887"/>
<path d="M1551.3,1877 V1887"/>
<path d="M1684.8,1877 V1887"/>
<path d="M1818.3,1877 V1887"/>
<path d="M1951.8,1877 V1887"/>
</g>
<text x="112.6" y="1754.1" font-size="24.2" text-anchor="end">0.0</text>
<text x="112.6" y="1691.2" font-size="24.2" text-anchor="end">0.5</text>
<text x="112.6" y="1628.3" font-size="24.2" text-anchor="end">1.0</text>
<text x="112.6" y="1565.5" font-size="24.2" text-anchor="end">1.5</text>
<text x="112.6" y="1502.6" font-size="24.2" text-anchor="end">2.0</text>
<text x="216.3" y="1906" font-size="20" text-anchor="middle">40</text>
<text x="349.8" y="1906" font-size="20" text-anchor="middle">50</text>
<text x="483.3" y="1906" font-size="20" text-anchor="middle">60</text>
<text x="616.8" y="1906" font-size="20" text-anchor="middle">70</text>
<text x="750.3" y="1906" font-size="20" text-anchor="middle">80</text>
<text x="883.8" y="1906" font-size="20" text-anchor="middle">90</text>
<text x="1017.3" y="1906" font-size="20" text-anchor="middle">100</text>
<text x="1150.8" y="1906" font-size="20" text-anchor="middle">110</text>
<text x="1284.3" y="1906" font-size="20" text-anchor="middle">120</text>
<text x="1417.8" y="1906" font-size="20" text-anchor="middle">130</text>
<text x="1551.3" y="1906" font-size="20" text-anchor="middle">140</text>
<text x="1684.8" y="1906" font-size="20" text-anchor="middle">150</text>
<text x="1818.3" y="1906" font-size="20" text-anchor="middle">160</text>
<text x="1951.8" y="1906" font-size="20" text-anchor="middle">170</text>
<text transform="translate(50,1615.7) rotate(-90)" font-size="28.4" text-anchor="middle">Bits</text>
<path d="M304.3,1494.3 V1795" stroke="#e0262c" stroke-width="1.9" stroke-dasharray="3.2 2.4" fill="none"/>
<path d="M467.8,1494.3 V1795" stroke="#e0262c" stroke-width="1.9" stroke-dasharray="3.2 2.4" fill="none"/>
<path d="M656.5,1494.3 V1795" stroke="#e0262c" stroke-width="1.9" stroke-dasharray="3.2 2.4" fill="none"/>
<path d="M848.7,1494.3 V1795" stroke="#e0262c" stroke-width="1.9" stroke-dasharray="3.2 2.4" fill="none"/>
<path d="M1308.5,1494.3 V1795" stroke="#e0262c" stroke-width="1.9" stroke-dasharray="3.2 2.4" fill="none"/>
<path d="M1485.3,1494.3 V1795" stroke="#e0262c" stroke-width="1.9" stroke-dasharray="3.2 2.4" fill="none"/>
<path d="M1756.2,1494.3 V1795" stroke="#e0262c" stroke-width="1.9" stroke-dasharray="3.2 2.4" fill="none"/>
<path d="M1959.8,1494.3 V1795" stroke="#e0262c" stroke-width="1.9" stroke-dasharray="3.2 2.4" fill="none"/>
<path d="M304.3,1466.2 H346.5 M425.6,1466.2 H467.8 M304.3,1457.2 V1475.2 M467.8,1457.2 V1475.2" stroke="#000" stroke-width="2.2" fill="none"/>
<text x="386.2" y="1461.6" font-size="24.2" text-anchor="middle">First</text>
<text x="386.2" y="1482.7" font-size="24.2" text-anchor="middle">Loop</text>
<path d="M656.3,1468 H713.3 M792.5,1468 H848.7 M656.3,1459 V1477 M848.7,1459 V1477" stroke="#000" stroke-width="2.2" fill="none"/>
<text x="753.6" y="1468.6" font-size="24.2" text-anchor="middle">First</text>
<text x="753.6" y="1489.7" font-size="24.2" text-anchor="middle">Loop</text>
<path d="M1308,1467.2 H1347.9 M1442.7,1467.2 H1485.3 M1308,1458.2 V1476.2 M1485.3,1458.2 V1476.2" stroke="#000" stroke-width="2.2" fill="none"/>
<text x="1395.4" y="1466" font-size="24.2" text-anchor="middle">Second</text>
<text x="1395.4" y="1486.6" font-size="24.2" text-anchor="middle">Loop</text>
<path d="M1756.2,1470 H1815 M1910.3,1470 H1959.8 M1756.2,1461 V1479 M1959.8,1461 V1479" stroke="#000" stroke-width="2.2" fill="none"/>
<text x="1862" y="1471.2" font-size="24.2" text-anchor="middle">Second</text>
<text x="1862" y="1491.5" font-size="24.2" text-anchor="middle">Loop</text>
<text font-family="Liberation Mono,Courier New,monospace" font-size="21" y="1773.7" text-anchor="middle" fill="#444"><tspan x="136.0 149.6 163.1 176.7 190.2 203.8 217.4 230.9 244.5 258.0 271.6 285.2 298.7 312.3 325.8 339.4">GCAGUCCGCAUGCCGU</tspan><tspan x="353.0 366.5 380.1" font-weight="bold" fill="#000">AUC</tspan><tspan x="393.6">G</tspan><tspan x="407.2 420.8 434.3 447.9 461.4" font-weight="bold" fill="#000">GGCCU</tspan><tspan x="475.0 488.6 502.1 515.7 529.2 542.8 556.4 569.9 583.5 597.0 610.6 624.2 637.7 651.3 664.8 678.4 692.0 705.5">UGGGUUCUAACCUGUUGC</tspan><tspan x="719.1 732.6 746.2 759.8" font-weight="bold" fill="#000">GUAG</tspan><tspan x="773.3 786.9 800.4 814.0 827.6 841.1 854.7 868.2 881.8 895.4 908.9 922.5 936.0 949.6 963.2 976.7 990.3 1003.8 1017.4 1031.0 1044.5 1058.1 1071.6 1085.2 1098.8 1112.3 1125.9 1139.4 1153.0 1166.6 1180.1 1193.7 1207.2 1220.8 1234.4 1247.9 1261.5 1275.0 1288.6 1302.2 1315.7 1329.3">AUUUAUGCAGCGGACUGCCUUUCUCCCAAAGUGAUAAACCGG</tspan><tspan x="1342.8 1356.4 1370.0 1383.5 1397.1 1410.6 1424.2 1437.8" font-weight="bold" fill="#000">ACAGUAUC</tspan><tspan x="1451.3 1464.9 1478.4 1492.0 1505.6 1519.1 1532.7 1546.2 1559.8 1573.4 1586.9 1600.5 1614.0 1627.6 1641.2 1654.7 1668.3 1681.8 1695.4 1709.0 1722.5 1736.1 1749.6 1763.2 1776.8 1790.3">AUGGACCGGUUUUCCCGGUAAUCCGU</tspan><tspan x="1803.9 1817.4" font-weight="bold" fill="#000">AU</tspan><tspan x="1831.0 1844.6 1858.1">UUG</tspan><tspan x="1871.7 1885.2 1898.8 1912.4" font-weight="bold" fill="#000">CAAG</tspan><tspan x="1925.9 1939.5 1953.0 1966.6 1980.2 1993.7 2007.3 2020.8 2034.4 2048.0 2061.5 2075.1">GUUGGUUUCACU</tspan></text>
<text font-family="Liberation Mono,Courier New,monospace" font-size="19" y="1791.5" text-anchor="middle" fill="#222" x="136.0 149.6 163.1 176.7 190.2 203.8 217.4 230.9 244.5 258.0 271.6 285.2 298.7 312.3 325.8 339.4 353.0 366.5 380.1 393.6 407.2 420.8 434.3 447.9 461.4 475.0 488.6 502.1 515.7 529.2 542.8 556.4 569.9 583.5 597.0 610.6 624.2 637.7 651.3 664.8 678.4 692.0 705.5 719.1 732.6 746.2 759.8 773.3 786.9 800.4 814.0 827.6 841.1 854.7 868.2 881.8 895.4 908.9 922.5 936.0 949.6 963.2 976.7 990.3 1003.8 1017.4 1031.0 1044.5 1058.1 1071.6 1085.2 1098.8 1112.3 1125.9 1139.4 1153.0 1166.6 1180.1 1193.7 1207.2 1220.8 1234.4 1247.9 1261.5 1275.0 1288.6 1302.2 1315.7 1329.3 1342.8 1356.4 1370.0 1383.5 1397.1 1410.6 1424.2 1437.8 1451.3 1464.9 1478.4 1492.0 1505.6 1519.1 1532.7 1546.2 1559.8 1573.4 1586.9 1600.5 1614.0 1627.6 1641.2 1654.7 1668.3 1681.8 1695.4 1709.0 1722.5 1736.1 1749.6 1763.2 1776.8 1790.3 1803.9 1817.4 1831.0 1844.6 1858.1 1871.7 1885.2 1898.8 1912.4 1925.9 1939.5 1953.0 1966.6 1980.2 1993.7 2007.3 2020.8 2034.4 2048.0 2061.5 2075.1">(((((((((.(((............(((((....)))))..............))))).)))))))).........((((....(((.............((((((.....)))))...)...............))))..)))</text>
<text x="77" y="1773.7" font-family="Liberation Mono,monospace" font-size="19" letter-spacing="-2" fill="#444">5’-</text>
<text x="110" y="1773.7" font-size="20" font-weight="bold">···</text>
<text x="2080.5" y="1773.7" font-family="Liberation Mono,monospace" font-size="19" letter-spacing="-2.6" fill="#444">-3’</text>
<path d="M136,1804 H1129.7" stroke="#1ba6e2" stroke-width="4"/>
<path d="M1129.7,1804 H2080.5" stroke="#f6a544" stroke-width="4"/>
<path d="M349.3,1813.7 H460.8 M716.8,1813.7 H760.8" stroke="#1ba6e2" stroke-width="4"/>
<path d="M675.3,1813.7 H716.8" stroke="#1ba6e2" stroke-width="4" stroke-dasharray="1.6 1.4"/>
<path d="M1336.5,1813.9 H1442.7 M1798,1813.9 H1822.3 M1865.7,1813.9 H1917.2" stroke="#f6a544" stroke-width="4"/>
<text x="378" y="1840.3" font-size="29.2">LTG</text>
<text x="690.4" y="1840.3" font-size="29.2">RTG</text>
<text x="1360.8" y="1840.3" font-size="29.2">LDG</text>
<text x="1817" y="1840.3" font-size="29.2">RDG</text>
<text x="439.7" y="1865.4" font-size="29.5">Target-binding Loop</text>
<text x="1490.6" y="1865.4" font-size="28.95">Donor-binding Loop</text>
<text x="752" y="1949.8" font-size="29.1">IS621 Bridge RNA with Secondary Structure</text>
</svg></body></html>
